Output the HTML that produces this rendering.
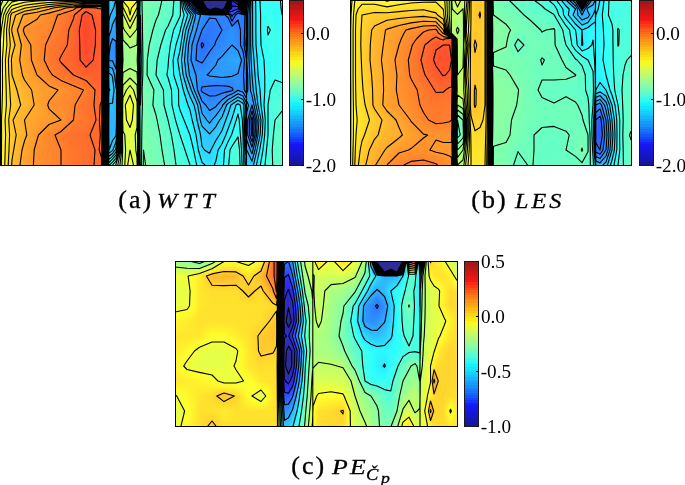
<!DOCTYPE html><html><head><meta charset="utf-8"><title>Pressure coefficient contours</title><style>
html,body{margin:0;padding:0;background:#fff}
body{width:685px;height:485px;position:relative;overflow:hidden;font-family:"Liberation Serif",serif;color:#000}
.plot{position:absolute;overflow:hidden;background:#888}
.plot i{position:absolute;left:0;width:100%;display:block}
.plot i.m{-webkit-mask-image:linear-gradient(180deg,transparent,#000);mask-image:linear-gradient(180deg,transparent,#000)}
.plot svg{position:absolute;left:0;top:0}
.bd{position:absolute;box-sizing:border-box;border:1.5px solid #000}
.cb{position:absolute;box-sizing:border-box;border:1px solid #1a1a1a}
.tk{position:absolute;height:1px;width:3px;background:#000}
.tl{position:absolute;font-size:19.2px;line-height:20px;white-space:nowrap}
.cp{position:absolute;white-space:nowrap;display:block;-webkit-text-stroke:0.3px #000}
</style></head><body><div class="plot" style="left:0px;top:0px;width:282px;height:165px;--a0:linear-gradient(90deg,#b5ff77 0px,#c4ff68 4px,#d1ff5b 8px,#e0ff4c 12px,#e4ff48 16px,#e9ff43 20px,#eeff3e 24px,#eeff3e 24.5px,#f1ff3b 28px,#f3ff39 32px,#f6ff36 36px,#f7ff35 37px,#f8ff34 40px,#f9ff33 44px,#faff32 48px,#fbff31 49px,#fbff31 52px,#fcff30 56px,#fdff2f 60px,#fdff2f 64px,#feff2e 68px,#ffff2d 72px,#ffff2d 73.5px,#fffe2d 76px,#fffd2d 80px,#fffb2d 84px,#fffb2d 86px,#fffa2d 88px,#fff82d 92px,#fff62d 96px,#fff52d 98px,#fff52d 101.5px,#b0ff7c 104px,#2df3ff 108px,#2dcfff 109px,#2dd6ff 112px,#2dd7ff 112.5px,#2dbeff 116px,#8cffa0 120px,#fffb2d 123px,#fffa2d 124px,#fff52d 128px,#fff22d 130px,#fff52d 132px,#fffa2d 136px,#fffb2d 137px,#73ffb9 140px,#5bffd1 140.5px,#7dffaf 143.5px,#7cffb0 144px,#79ffb3 148px,#76ffb6 152px,#72ffba 156px,#6effbe 160px,#6affc2 164px,#66ffc6 168px,#5cffd0 172px,#52ffda 176px,#48ffe4 180px,#2dd4ff 184px,#2d8dff 188px,#2d6aff 190px,#2d47ff 192px,#2d2dd3 196px,#2d2d96 200px,#2d2d96 228px,#2d2de8 232px,#2d2dcc 236px,#2d2dbe 238px,#2d2d96 240px,#2d2d96 246.2px,#2d6cff 246.8px,#2d83ff 248px,#2dd1ff 252px,#2dedff 256px,#2dfbff 258px,#2dffff 260px,#35fff7 264px,#2dffff 268px,#35fff7 272px,#3cfff0 275px,#39fff3 276px,#2efffe 280px,#2dfbff 282px);--a1:linear-gradient(90deg,#bcff70 0px,#d1ff5b 4px,#e6ff46 8px,#fbff31 12px,#fffb2d 16px,#fff42d 20px,#ffed2d 24px,#ffec2d 24.5px,#ffe82d 28px,#ffe42d 32px,#ffe02d 36px,#ffde2d 37px,#ffdb2d 40px,#ffd62d 44px,#ffd12d 48px,#ffd02d 49px,#ffcd2d 52px,#ffc92d 56px,#ffc42d 60px,#ffc32d 61px,#ffc02d 64px,#ffbb2d 68px,#ffb62d 72px,#ffb52d 73.5px,#ffb02d 76px,#ffa72d 80px,#ff9f2d 84px,#ff9b2d 86px,#ff9c2d 88px,#ff9d2d 92px,#ff9f2d 96px,#ffa02d 98px,#ffa02d 101.5px,#e7ff45 104px,#2dfbff 108px,#2dccff 109px,#2dccff 112.5px,#2db8ff 116px,#7fffad 120px,#f2ff3a 123px,#f5ff37 124px,#fffd2d 128px,#fff72d 130px,#fffc2d 132px,#f6ff36 136px,#f3ff39 137px,#70ffbc 140px,#5affd2 140.5px,#7cffb0 143.5px,#7cffb0 144px,#78ffb4 148px,#74ffb8 152px,#71ffbb 156px,#6dffbf 160px,#69ffc3 164px,#65ffc7 168px,#5bffd1 172px,#51ffdb 176px,#47ffe5 180px,#2de2ff 184px,#2dacff 188px,#2d90ff 190px,#2d73ff 192px,#2d39ff 196px,#2d2da0 200px,#2d2d96 202px,#2d2d96 228px,#2d2dfb 232px,#2d2df3 236px,#2d2def 238px,#2d2dc1 240px,#2d2d96 243px,#2d2d96 246.2px,#2d77ff 246.8px,#2d8cff 248px,#2dd1ff 252px,#2decff 256px,#2dfaff 258px,#2dffff 260px,#35fff7 264px,#32fffa 268px,#36fff6 272px,#3afff2 275px,#37fff5 276px,#2ffffd 280px,#2dfcff 282px);--a2:linear-gradient(90deg,#c1ff6b 0px,#daff52 4px,#f3ff39 8px,#fff22d 12px,#ffe92d 16px,#ffe02d 20px,#ffd72d 24px,#ffd62d 24.5px,#ffd22d 28px,#ffcc2d 32px,#ffc72d 36px,#ffc62d 37px,#ffc12d 40px,#ffba2d 44px,#ffb32d 48px,#ffb22d 49px,#ffad2d 52px,#ffa62d 56px,#ffa02d 60px,#ff9e2d 61px,#ff992d 64px,#ff922d 68px,#ff8b2d 72px,#ff882d 73.5px,#ff802d 76px,#ff742d 80px,#ff682d 84px,#ff622d 86px,#ff632d 88px,#ff672d 92px,#ff6b2d 96px,#ff6d2d 98px,#ff6d2d 101.5px,#fff52d 104px,#2ffffd 108px,#2dcaff 109px,#2dc6ff 112px,#2dc5ff 112.5px,#2db5ff 116px,#78ffb4 120px,#e8ff44 123px,#ecff40 124px,#fdff2f 128px,#fff92d 130px,#fdff2f 132px,#edff3f 136px,#e9ff43 137px,#6effbe 140px,#59ffd3 140.5px,#7cffb0 143.5px,#7bffb1 144px,#78ffb4 148px,#74ffb8 152px,#70ffbc 156px,#6cffc0 160px,#68ffc4 164px,#65ffc7 168px,#5affd2 172px,#50ffdc 176px,#46ffe6 180px,#2debff 184px,#2dbeff 188px,#2da7ff 190px,#2d8eff 192px,#2d5bff 196px,#2d2ddc 200px,#2d2db4 202px,#2d2d96 204px,#2d2d96 224px,#2d2dab 228px,#2d35ff 232px,#2d39ff 236px,#2d3aff 238px,#2d2dec 240px,#2d2dbb 243px,#2d2db1 244px,#2d2d9c 246.2px,#2d7eff 246.8px,#2d91ff 248px,#2dd1ff 252px,#2decff 256px,#2dfaff 258px,#2dfeff 260px,#35fff7 264px,#35fff7 268px,#37fff5 272px,#38fff4 275px,#36fff6 276px,#2ffffd 280px,#2dfdff 282px);--a3:linear-gradient(90deg,#c3ff69 0px,#dfff4d 4px,#fbff31 8px,#ffe72d 12px,#ffdd2d 16px,#ffd32d 20px,#ffca2d 24px,#ffc92d 24.5px,#ffc42d 28px,#ffbf2d 32px,#ffbb2d 36px,#ffb92d 37px,#ffb52d 40px,#ffaf2d 44px,#ffa82d 48px,#ffa72d 49px,#ffa22d 52px,#ff9c2d 56px,#ff962d 60px,#ff942d 61px,#ff902d 64px,#ff892d 68px,#ff832d 72px,#ff812d 73.5px,#ff792d 76px,#ff6d2d 80px,#ff612d 84px,#ff5c2d 86px,#ff5e2d 88px,#ff632d 92px,#ff672d 96px,#ff6a2d 98px,#ff6a2d 101.5px,#fff42d 104px,#2efffe 108px,#2dc9ff 109px,#2dc2ff 112px,#2dc1ff 112.5px,#2db3ff 116px,#73ffb9 120px,#e2ff4a 123px,#e6ff46 124px,#faff32 128px,#fffb2d 130px,#faff32 132px,#e8ff44 136px,#e3ff49 137px,#6cffc0 140px,#58ffd4 140.5px,#7bffb1 143.5px,#7bffb1 144px,#77ffb5 148px,#73ffb9 152px,#6fffbd 156px,#6cffc0 160px,#68ffc4 164px,#64ffc8 168px,#5affd2 172px,#50ffdc 176px,#45ffe7 180px,#2df1ff 184px,#2dcaff 188px,#2db7ff 190px,#2da0ff 192px,#2d71ff 196px,#2d33ff 200px,#2d2de6 202px,#2d2da9 204px,#2d2d96 208px,#2d2d96 224px,#2d2ddb 228px,#2d3dff 232px,#2d48ff 236px,#2d4eff 238px,#2d36ff 240px,#2d2de4 243px,#2d2ddb 244px,#2d2dc8 246.2px,#2d82ff 246.8px,#2d94ff 248px,#2dd1ff 252px,#2decff 256px,#2df9ff 258px,#2dfeff 260px,#35fff7 264px,#37fff5 268px,#37fff5 272px,#38fff4 275px,#36fff6 276px,#2ffffd 280px,#2dfeff 282px);--a4:linear-gradient(90deg,#caff62 0px,#eeff3e 4px,#ffee2d 8px,#ffca2d 12px,#ffbf2d 16px,#ffb42d 20px,#ffa82d 24px,#ffa72d 24.5px,#ffa32d 28px,#ff9f2d 32px,#ff9b2d 36px,#ff9a2d 37px,#ff972d 40px,#ff922d 44px,#ff8d2d 48px,#ff8c2d 49px,#ff882d 52px,#ff832d 56px,#ff7e2d 60px,#ff7d2d 61px,#ff792d 64px,#ff752d 68px,#ff702d 72px,#ff6e2d 73.5px,#ff672d 76px,#ff5d2d 80px,#ff522d 84px,#ff4c2d 86px,#ff502d 88px,#ff572d 92px,#ff5e2d 96px,#ff622d 98px,#ff622d 101.5px,#ffef2d 104px,#2dffff 108px,#2dc6ff 109px,#2db8ff 112px,#2db5ff 112.5px,#2dadff 116px,#67ffc5 120px,#d1ff5b 123px,#d7ff55 124px,#f2ff3a 128px,#ffff2d 130px,#f2ff3a 132px,#d9ff53 136px,#d3ff59 137px,#69ffc3 140px,#57ffd5 140.5px,#7bffb1 143.5px,#7affb2 144px,#76ffb6 148px,#72ffba 152px,#6effbe 156px,#6bffc1 160px,#67ffc5 164px,#64ffc8 168px,#59ffd3 172px,#4fffdd 176px,#44ffe8 180px,#2dffff 184px,#2de9ff 188px,#2dddff 190px,#2dccff 192px,#2da9ff 196px,#2d98ff 200px,#2d90ff 202px,#2d8cff 204px,#2d86ff 208px,#2d83ff 209.6px,#2d83ff 222px,#2d82ff 224px,#2d7fff 228px,#2d51ff 232px,#2d70ff 236px,#2d7fff 238px,#2d7cff 240px,#2d79ff 243px,#2d72ff 244px,#2d64ff 246.2px,#2d8eff 246.8px,#2d9dff 248px,#2dd1ff 252px,#2debff 256px,#2df9ff 258px,#2dfeff 260px,#35fff7 264px,#3cfff0 268px,#38fff4 272px,#35fff7 275px,#34fff8 276px,#2ffffd 280px,#2dffff 282px);--a5:linear-gradient(90deg,#d1ff5b 0px,#f4ff38 4px,#ffe82d 8px,#ffc62d 12px,#ffba2d 16px,#ffae2d 20px,#ffa12d 24px,#ffa02d 24.5px,#ff9d2d 28px,#ff9a2d 32px,#ff962d 36px,#ff952d 37px,#ff922d 40px,#ff8e2d 44px,#ff8a2d 48px,#ff892d 49px,#ff862d 52px,#ff812d 56px,#ff7c2d 60px,#ff7b2d 61px,#ff772d 64px,#ff722d 68px,#ff6d2d 72px,#ff6b2d 73.5px,#ff652d 76px,#ff5a2d 80px,#ff502d 84px,#ff4a2d 86px,#ff4e2d 88px,#ff552d 92px,#ff5c2d 96px,#ff5f2d 98px,#ff5f2d 101.5px,#ffef2d 104px,#2dfaff 108px,#2dc1ff 109px,#2db2ff 112px,#2db0ff 112.5px,#2da8ff 116px,#61ffcb 120px,#caff62 123px,#cfff5d 124px,#e5ff47 128px,#f0ff3c 130px,#e5ff47 132px,#d1ff5b 136px,#ccff60 137px,#66ffc6 140px,#56ffd6 140.5px,#7affb2 143.5px,#79ffb3 144px,#75ffb7 148px,#70ffbc 152px,#6cffc0 156px,#67ffc5 160px,#63ffc9 164px,#5effce 168px,#53ffd9 172px,#48ffe4 176px,#3dffef 180px,#2df6ff 184px,#2dddff 188px,#2dd0ff 190px,#2dc1ff 192px,#2da3ff 196px,#2d93ff 200px,#2d8bff 202px,#2d88ff 204px,#2d82ff 208px,#2d80ff 209.6px,#2d80ff 216px,#2d82ff 220px,#2d82ff 222px,#2d83ff 224px,#2d83ff 228px,#2d66ff 232px,#2d78ff 236px,#2d81ff 238px,#2d7eff 240px,#2d7aff 243px,#2d72ff 244px,#2d61ff 246.2px,#2d8eff 246.8px,#2d9dff 248px,#2dd1ff 252px,#2debff 256px,#2df9ff 258px,#2dfeff 260px,#35fff7 264px,#3fffed 268px,#3bfff1 272px,#38fff4 275px,#37fff5 276px,#32fffa 280px,#30fffc 282px);--a6:linear-gradient(90deg,#d9ff53 0px,#faff32 4px,#ffe32d 8px,#ffc22d 12px,#ffb52d 16px,#ffa82d 20px,#ff9a2d 24px,#ff992d 24.5px,#ff962d 28px,#ff942d 32px,#ff912d 36px,#ff902d 37px,#ff8e2d 40px,#ff8b2d 44px,#ff882d 48px,#ff872d 49px,#ff842d 52px,#ff7f2d 56px,#ff7a2d 60px,#ff792d 61px,#ff752d 64px,#ff702d 68px,#ff6a2d 72px,#ff692d 73.5px,#ff622d 76px,#ff582d 80px,#ff4d2d 84px,#ff482d 86px,#ff4c2d 88px,#ff532d 92px,#ff5a2d 96px,#ff5d2d 98px,#ff5d2d 101.5px,#fff02d 104px,#2df6ff 108px,#2dbbff 109px,#2dadff 112px,#2daaff 112.5px,#2da2ff 116px,#5bffd1 120px,#c3ff69 123px,#c7ff65 124px,#d8ff54 128px,#e0ff4c 130px,#d8ff54 132px,#c9ff63 136px,#c5ff67 137px,#64ffc8 140px,#54ffd8 140.5px,#79ffb3 143.5px,#79ffb3 144px,#74ffb8 148px,#6fffbd 152px,#6affc2 156px,#64ffc8 160px,#5effce 164px,#58ffd4 168px,#4dffdf 172px,#42ffea 176px,#36fff6 180px,#2decff 184px,#2dd1ff 188px,#2dc3ff 190px,#2db6ff 192px,#2d9eff 196px,#2d8eff 200px,#2d86ff 202px,#2d83ff 204px,#2d7eff 208px,#2d7cff 209.6px,#2d7dff 212px,#2d7eff 215.8px,#2d7eff 216px,#2d80ff 220px,#2d82ff 222px,#2d84ff 224px,#2d87ff 228px,#2d7cff 232px,#2d81ff 236px,#2d83ff 238px,#2d80ff 240px,#2d7bff 243px,#2d72ff 244px,#2d5eff 246.2px,#2d8eff 246.8px,#2d9dff 248px,#2dd1ff 252px,#2debff 256px,#2df9ff 258px,#2dfeff 260px,#35fff7 264px,#41ffeb 268px,#3effee 272px,#3bfff1 275px,#3afff2 276px,#35fff7 280px,#33fff9 282px);--a7:linear-gradient(90deg,#e0ff4c 0px,#fffe2d 4px,#ffde2d 8px,#ffbe2d 12px,#ffb02d 16px,#ffa22d 20px,#ff942d 24px,#ff922d 24.5px,#ff902d 28px,#ff8e2d 32px,#ff8c2d 36px,#ff8c2d 37px,#ff8a2d 40px,#ff882d 44px,#ff862d 48px,#ff852d 49px,#ff822d 52px,#ff7d2d 56px,#ff782d 60px,#ff772d 61px,#ff722d 64px,#ff6d2d 68px,#ff682d 72px,#ff662d 73.5px,#ff5f2d 76px,#ff552d 80px,#ff4b2d 84px,#ff462d 86px,#ff4a2d 88px,#ff512d 92px,#ff582d 96px,#ff5b2d 98px,#ff5b2d 101.5px,#fff02d 104px,#2df1ff 108px,#2db5ff 109px,#2da7ff 112px,#2da5ff 112.5px,#2d9cff 116px,#54ffd8 120px,#bcff70 123px,#bfff6d 124px,#cbff61 128px,#d1ff5b 130px,#cbff61 132px,#c1ff6b 136px,#beff6e 137px,#62ffca 140px,#53ffd9 140.5px,#79ffb3 143.5px,#78ffb4 144px,#73ffb9 148px,#6dffbf 152px,#68ffc4 156px,#61ffcb 160px,#5affd2 164px,#53ffd9 168px,#47ffe5 172px,#3bfff1 176px,#2ffffd 180px,#2de3ff 184px,#2dc5ff 188px,#2db5ff 190px,#2dacff 192px,#2d98ff 196px,#2d89ff 200px,#2d81ff 202px,#2d7fff 204px,#2d7aff 208px,#2d79ff 209.6px,#2d79ff 212px,#2d7bff 215.8px,#2d7bff 216px,#2d7fff 220px,#2d81ff 222px,#2d84ff 224px,#2d8cff 228px,#2d92ff 232px,#2d89ff 236px,#2d85ff 238px,#2d82ff 240px,#2d7dff 243px,#2d72ff 244px,#2d5bff 246.2px,#2d8eff 246.8px,#2d9dff 248px,#2dd1ff 252px,#2debff 256px,#2df9ff 258px,#2dfeff 260px,#35fff7 264px,#44ffe8 268px,#41ffeb 272px,#3effee 275px,#3dffef 276px,#38fff4 280px,#35fff7 282px);--a8:linear-gradient(90deg,#e3ff49 0px,#fffd2d 4px,#ffe02d 8px,#ffc22d 12px,#ffb42d 16px,#ffa62d 20px,#ff982d 24px,#ff972d 24.5px,#ff942d 28px,#ff902d 32px,#ff8c2d 36px,#ff8c2d 37px,#ff892d 40px,#ff862d 44px,#ff832d 48px,#ff822d 49px,#ff7f2d 52px,#ff7b2d 56px,#ff762d 60px,#ff752d 61px,#ff712d 64px,#ff6c2d 68px,#ff682d 72px,#ff662d 73.5px,#ff602d 76px,#ff562d 80px,#ff4c2d 84px,#ff472d 86px,#ff4a2d 88px,#ff512d 92px,#ff582d 96px,#ff5b2d 98px,#ff5b2d 101.5px,#fff32d 104px,#2deaff 108px,#2dadff 109px,#2d9fff 112px,#2d9cff 112.5px,#2d9aff 116px,#4effde 120px,#b3ff79 123px,#b6ff76 124px,#c0ff6c 128px,#c6ff66 130px,#c2ff6a 132px,#baff72 136px,#b8ff74 137px,#60ffcc 140px,#51ffdb 140.5px,#78ffb4 143.5px,#77ffb5 144px,#71ffbb 148px,#6bffc1 152px,#65ffc7 156px,#5effce 160px,#57ffd5 164px,#50ffdc 168px,#43ffe9 172px,#36fff6 176px,#2dfcff 180px,#2ddcff 184px,#2dbdff 188px,#2daeff 190px,#2da4ff 192px,#2d92ff 196px,#2d81ff 200px,#2d79ff 202px,#2d79ff 209.6px,#2d7aff 212px,#2d7eff 215.8px,#2d7eff 216px,#2d82ff 220px,#2d84ff 222px,#2d87ff 224px,#2d8eff 228px,#2d93ff 232px,#2d8bff 236px,#2d87ff 238px,#2d82ff 240px,#2d7bff 243px,#2d70ff 244px,#2d58ff 246.2px,#2d8eff 246.8px,#2d9dff 248px,#2dd1ff 252px,#2debff 256px,#2df8ff 258px,#2dfdff 260px,#35fff7 264px,#42ffea 268px,#40ffec 272px,#3effee 275px,#3dffef 276px,#38fff4 280px,#36fff6 282px);--a9:linear-gradient(90deg,#e6ff46 0px,#fffc2d 4px,#ffe12d 8px,#ffc62d 12px,#ffb92d 16px,#ffab2d 20px,#ff9d2d 24px,#ff9c2d 24.5px,#ff972d 28px,#ff922d 32px,#ff8d2d 36px,#ff8c2d 37px,#ff892d 40px,#ff852d 44px,#ff812d 48px,#ff802d 49px,#ff7d2d 52px,#ff792d 56px,#ff752d 60px,#ff742d 61px,#ff702d 64px,#ff6c2d 68px,#ff672d 72px,#ff662d 73.5px,#ff602d 76px,#ff562d 80px,#ff4c2d 84px,#ff482d 86px,#ff4b2d 88px,#ff512d 92px,#ff582d 96px,#ff5b2d 98px,#ff5b2d 101.5px,#fff62d 104px,#2de3ff 108px,#2da5ff 109px,#2d96ff 112px,#2d94ff 112.5px,#2d97ff 116px,#48ffe4 120px,#abff81 123px,#adff7f 124px,#b6ff76 128px,#baff72 130px,#b8ff74 132px,#b3ff79 136px,#b1ff7b 137px,#5effce 140px,#50ffdc 140.5px,#77ffb5 143.5px,#76ffb6 144px,#70ffbc 148px,#69ffc3 152px,#62ffca 156px,#5bffd1 160px,#54ffd8 164px,#4dffdf 168px,#3fffed 172px,#32fffa 176px,#2df6ff 180px,#2dd6ff 184px,#2db6ff 188px,#2da6ff 190px,#2d9dff 192px,#2d8cff 196px,#2d79ff 200px,#2d70ff 202px,#2d72ff 204px,#2d77ff 208px,#2d79ff 209.6px,#2d7cff 212px,#2d80ff 215.8px,#2d81ff 216px,#2d85ff 220px,#2d87ff 222px,#2d8aff 224px,#2d90ff 228px,#2d95ff 232px,#2d8cff 236px,#2d88ff 238px,#2d82ff 240px,#2d7aff 243px,#2d6fff 244px,#2d56ff 246.2px,#2d8eff 246.8px,#2d9dff 248px,#2dd1ff 252px,#2deaff 256px,#2df7ff 258px,#2dfdff 260px,#35fff7 264px,#40ffec 268px,#3fffed 272px,#3effee 275px,#3dffef 276px,#39fff3 280px,#37fff5 282px);--a10:linear-gradient(90deg,#eaff42 0px,#fffc2d 4px,#ffe32d 8px,#ffca2d 12px,#ffbd2d 16px,#ffb02d 20px,#ffa22d 24px,#ffa02d 24.5px,#ff9b2d 28px,#ff942d 32px,#ff8d2d 36px,#ff8c2d 37px,#ff882d 40px,#ff832d 44px,#ff7e2d 48px,#ff7d2d 49px,#ff7a2d 52px,#ff772d 56px,#ff732d 60px,#ff722d 61px,#ff6f2d 64px,#ff6b2d 68px,#ff672d 72px,#ff662d 73.5px,#ff602d 76px,#ff562d 80px,#ff4d2d 84px,#ff482d 86px,#ff4b2d 88px,#ff522d 92px,#ff582d 96px,#ff5b2d 98px,#ff5b2d 101.5px,#fff92d 104px,#2ddbff 108px,#2d9cff 109px,#2d8eff 112px,#2d8cff 112.5px,#2d94ff 116px,#42ffea 120px,#a3ff89 123px,#a4ff88 124px,#acff80 128px,#afff7d 130px,#aeff7e 132px,#acff80 136px,#abff81 137px,#5cffd0 140px,#4fffdd 140.5px,#77ffb5 143.5px,#76ffb6 144px,#6effbe 148px,#67ffc5 152px,#5fffcd 156px,#58ffd4 160px,#51ffdb 164px,#4affe2 168px,#3cfff0 172px,#2dffff 176px,#2df0ff 180px,#2dd0ff 184px,#2dafff 188px,#2d9eff 190px,#2d96ff 192px,#2d85ff 196px,#2d72ff 200px,#2d68ff 202px,#2d6cff 204px,#2d75ff 208px,#2d79ff 209.6px,#2d7dff 212px,#2d83ff 215.8px,#2d83ff 216px,#2d87ff 220px,#2d89ff 222px,#2d8cff 224px,#2d92ff 228px,#2d96ff 232px,#2d8eff 236px,#2d89ff 238px,#2d83ff 240px,#2d79ff 243px,#2d6dff 244px,#2d53ff 246.2px,#2d8eff 246.8px,#2d9dff 248px,#2dd1ff 252px,#2deaff 256px,#2df7ff 258px,#2dfcff 260px,#35fff7 264px,#3effee 268px,#3effee 275px,#3dffef 276px,#39fff3 280px,#38fff4 282px);--a11:linear-gradient(90deg,#ebff41 0px,#fff92d 4px,#ffdf2d 8px,#ffc62d 12px,#ffba2d 16px,#ffae2d 20px,#ffa22d 24px,#ffa02d 24.5px,#ff9b2d 28px,#ff942d 32px,#ff8e2d 36px,#ff8c2d 37px,#ff882d 40px,#ff822d 44px,#ff7d2d 48px,#ff7b2d 49px,#ff782d 52px,#ff742d 56px,#ff702d 60px,#ff702d 61px,#ff6d2d 64px,#ff692d 68px,#ff662d 72px,#ff642d 73.5px,#ff5f2d 76px,#ff572d 80px,#ff4e2d 84px,#ff4a2d 86px,#ff4d2d 88px,#ff532d 92px,#ff592d 96px,#ff5c2d 98px,#ff5c2d 101.5px,#fffa2d 104px,#2dd9ff 108px,#2d9aff 109px,#2d90ff 112px,#2d8eff 112.5px,#2d91ff 116px,#3fffed 120px,#9eff8e 123px,#a0ff8c 124px,#a5ff87 128px,#a8ff84 130px,#a7ff85 132px,#a6ff86 136px,#a5ff87 137px,#5affd2 140px,#4effde 140.5px,#76ffb6 143.5px,#75ffb7 144px,#6dffbf 148px,#65ffc7 152px,#5dffcf 156px,#56ffd6 160px,#4fffdd 164px,#48ffe4 168px,#38fff4 172px,#2dfbff 176px,#2debff 180px,#2dccff 184px,#2dadff 188px,#2d9dff 190px,#2d95ff 192px,#2d84ff 196px,#2d76ff 200px,#2d6fff 202px,#2d73ff 204px,#2d7cff 208px,#2d7fff 209.6px,#2d83ff 212px,#2d89ff 215.8px,#2d89ff 216px,#2d8dff 220px,#2d8fff 222px,#2d92ff 224px,#2d97ff 228px,#2d9bff 232px,#2d97ff 236px,#2d95ff 238px,#2d8cff 240px,#2d80ff 243px,#2d75ff 244px,#2d5dff 246.2px,#2d90ff 246.8px,#2d9fff 248px,#2dceff 252px,#2de7ff 256px,#2df4ff 258px,#2df9ff 260px,#33fff9 264px,#3bfff1 268px,#3cfff0 272px,#3cfff0 276px,#38fff4 280px,#37fff5 282px);--a12:linear-gradient(90deg,#edff3f 0px,#fff62d 4px,#ffdc2d 8px,#ffc12d 12px,#ffb62d 16px,#ffac2d 20px,#ffa22d 24px,#ffa02d 24.5px,#ff9b2d 28px,#ff952d 32px,#ff8e2d 36px,#ff8d2d 37px,#ff882d 40px,#ff822d 44px,#ff7c2d 48px,#ff7a2d 49px,#ff772d 52px,#ff722d 56px,#ff6e2d 60px,#ff6d2d 61px,#ff6a2d 64px,#ff672d 68px,#ff642d 72px,#ff632d 73.5px,#ff5e2d 76px,#ff572d 80px,#ff4f2d 84px,#ff4c2d 86px,#ff4f2d 88px,#ff542d 92px,#ff5a2d 96px,#ff5d2d 98px,#ff5d2d 101.5px,#fffc2d 104px,#2dd6ff 108px,#2d97ff 109px,#2d92ff 112px,#2d91ff 112.5px,#2d8eff 116px,#3bfff1 120px,#9aff92 123px,#9bff91 124px,#9fff8d 128px,#a1ff8b 130px,#a1ff8b 132px,#a0ff8c 136px,#a0ff8c 137px,#59ffd3 140px,#4dffdf 140.5px,#75ffb7 143.5px,#74ffb8 144px,#6cffc0 148px,#63ffc9 152px,#5bffd1 156px,#54ffd8 160px,#4dffdf 164px,#46ffe6 168px,#35fff7 172px,#2df6ff 176px,#2de5ff 180px,#2dc8ff 184px,#2daaff 188px,#2d9cff 190px,#2d93ff 192px,#2d82ff 196px,#2d7aff 200px,#2d76ff 202px,#2d7aff 204px,#2d82ff 208px,#2d85ff 209.6px,#2d89ff 212px,#2d8eff 215.8px,#2d8fff 216px,#2d93ff 220px,#2d95ff 222px,#2d97ff 224px,#2d9cff 228px,#2da0ff 232px,#2da0ff 238px,#2d96ff 240px,#2d87ff 243px,#2d7dff 244px,#2d66ff 246.2px,#2d93ff 246.8px,#2da0ff 248px,#2dcbff 252px,#2de4ff 256px,#2df1ff 258px,#2df7ff 260px,#30fffc 264px,#38fff4 268px,#3afff2 272px,#3bfff1 275px,#3afff2 276px,#38fff4 280px,#36fff6 282px);--a13:linear-gradient(90deg,#eeff3e 0px,#fff42d 4px,#ffd82d 8px,#ffbc2d 12px,#ffb32d 16px,#ffaa2d 20px,#ffa22d 24px,#ffa02d 24.5px,#ff9b2d 28px,#ff952d 32px,#ff8f2d 36px,#ff8e2d 37px,#ff882d 40px,#ff812d 44px,#ff7a2d 48px,#ff792d 49px,#ff752d 52px,#ff702d 56px,#ff6b2d 60px,#ff6a2d 61px,#ff682d 64px,#ff652d 68px,#ff632d 72px,#ff622d 73.5px,#ff5e2d 76px,#ff572d 80px,#ff512d 84px,#ff4e2d 86px,#ff502d 88px,#ff552d 92px,#ff5b2d 96px,#ff5d2d 98px,#ff5d2d 101.5px,#fffd2d 104px,#2dd4ff 108px,#2d94ff 109px,#2d94ff 112.5px,#2d8cff 116px,#38fff4 120px,#96ff96 123px,#97ff95 124px,#99ff93 128px,#9aff92 130px,#9aff92 137px,#58ffd4 140px,#4cffe0 140.5px,#74ffb8 143.5px,#73ffb9 144px,#6bffc1 148px,#62ffca 152px,#59ffd3 156px,#52ffda 160px,#4bffe1 164px,#44ffe8 168px,#32fffa 172px,#2df2ff 176px,#2de0ff 180px,#2dc4ff 184px,#2da8ff 188px,#2d9aff 190px,#2d92ff 192px,#2d81ff 196px,#2d7eff 200px,#2d7dff 202px,#2d81ff 204px,#2d88ff 208px,#2d8cff 209.6px,#2d8fff 212px,#2d94ff 215.8px,#2d94ff 216px,#2d98ff 220px,#2d9aff 222px,#2d9cff 224px,#2da0ff 228px,#2da5ff 232px,#2da9ff 236px,#2dabff 238px,#2d9fff 240px,#2d8eff 243px,#2d84ff 244px,#2d70ff 246.2px,#2d96ff 246.8px,#2da2ff 248px,#2dc8ff 252px,#2de2ff 256px,#2deeff 258px,#2df4ff 260px,#2dffff 264px,#35fff7 268px,#38fff4 272px,#3afff2 275px,#39fff3 276px,#37fff5 280px,#35fff7 282px);--a14:linear-gradient(90deg,#eeff3e 0px,#fff42d 4px,#ffd92d 8px,#ffbd2d 12px,#ffb52d 16px,#ffac2d 20px,#ffa42d 24px,#ffa32d 24.5px,#ff9e2d 28px,#ff982d 32px,#ff922d 36px,#ff902d 37px,#ff8c2d 40px,#ff852d 44px,#ff7e2d 48px,#ff7d2d 49px,#ff792d 52px,#ff742d 56px,#ff6f2d 60px,#ff6e2d 61px,#ff6c2d 64px,#ff692d 68px,#ff662d 72px,#ff652d 73.5px,#ff622d 76px,#ff5c2d 80px,#ff572d 84px,#ff542d 86px,#ff562d 88px,#ff592d 92px,#ff5c2d 96px,#ff5e2d 98px,#ff5e2d 101.5px,#fff82d 104px,#2de2ff 108px,#2da5ff 109px,#2da2ff 112px,#2da2ff 112.5px,#2d91ff 116px,#3fffed 120px,#9eff8e 123px,#9fff8d 124px,#a2ff8a 128px,#a4ff88 130px,#a3ff89 132px,#a2ff8a 136px,#a1ff8b 137px,#59ffd3 140px,#4dffdf 140.5px,#74ffb8 143.5px,#73ffb9 144px,#6affc2 148px,#61ffcb 152px,#58ffd4 156px,#51ffdb 160px,#4affe2 164px,#43ffe9 168px,#32fffa 172px,#2df4ff 176px,#2de3ff 180px,#2dc8ff 184px,#2dacff 188px,#2d9eff 190px,#2d97ff 192px,#2d88ff 196px,#2d85ff 200px,#2d84ff 202px,#2d87ff 204px,#2d8dff 208px,#2d90ff 209.6px,#2d92ff 212px,#2d96ff 215.8px,#2d96ff 216px,#2d99ff 220px,#2d9bff 222px,#2d9cff 224px,#2d9eff 228px,#2da0ff 232px,#2da2ff 236px,#2da3ff 238px,#2d9aff 240px,#2d8bff 243px,#2d82ff 244px,#2d6fff 246.2px,#2d93ff 246.8px,#2d9fff 248px,#2dc6ff 252px,#2de0ff 256px,#2dedff 258px,#2df3ff 260px,#2dfeff 264px,#36fff6 268px,#39fff3 272px,#3bfff1 275px,#3afff2 276px,#39fff4 280px,#38fff4 282px);--a15:linear-gradient(90deg,#eeff3e 0px,#fff52d 4px,#ffda2d 8px,#ffbf2d 12px,#ffb62d 16px,#ffae2d 20px,#ffa62d 24px,#ffa52d 24.5px,#ffa02d 28px,#ff9a2d 32px,#ff952d 36px,#ff932d 37px,#ff8f2d 40px,#ff892d 44px,#ff832d 48px,#ff812d 49px,#ff7d2d 52px,#ff782d 56px,#ff742d 60px,#ff722d 61px,#ff702d 64px,#ff6d2d 68px,#ff6a2d 72px,#ff692d 73.5px,#ff662d 76px,#ff612d 80px,#ff5d2d 84px,#ff5b2d 86px,#ff5b2d 88px,#ff5d2d 92px,#ff5e2d 96px,#ff5f2d 98px,#ff5f2d 101.5px,#fff32d 104px,#2df1ff 108px,#2db5ff 109px,#2db1ff 112px,#2db0ff 112.5px,#2d97ff 116px,#46ffe6 120px,#a7ff85 123px,#a8ff84 124px,#acff80 128px,#aeff7e 130px,#acff80 132px,#a9ff83 136px,#a8ff84 137px,#5bffd1 140px,#4effde 140.5px,#74ffb8 143.5px,#73ffb9 144px,#6affc2 148px,#61ffcb 152px,#58ffd4 156px,#50ffdc 160px,#49ffe3 164px,#41ffeb 168px,#32fffa 172px,#2df5ff 176px,#2de6ff 180px,#2dcbff 184px,#2db0ff 188px,#2da3ff 190px,#2d9cff 192px,#2d8fff 196px,#2d8cff 200px,#2d8bff 202px,#2d8dff 204px,#2d92ff 208px,#2d94ff 209.6px,#2d96ff 212px,#2d98ff 215.8px,#2d98ff 216px,#2d9aff 220px,#2d9cff 222px,#2d9cff 238px,#2d94ff 240px,#2d88ff 243px,#2d80ff 244px,#2d6dff 246.2px,#2d90ff 246.8px,#2d9cff 248px,#2dc3ff 252px,#2ddeff 256px,#2debff 258px,#2df1ff 260px,#2dfeff 264px,#37fff5 268px,#3afff2 272px,#3cfff0 275px,#3cfff0 276px,#3afff2 280px,#3afff2 282px);--a16:linear-gradient(90deg,#eeff3e 0px,#fff52d 4px,#ffdb2d 8px,#ffc02d 12px,#ffb82d 16px,#ffb02d 20px,#ffa82d 24px,#ffa72d 24.5px,#ffa22d 28px,#ff9d2d 32px,#ff972d 36px,#ff962d 37px,#ff922d 40px,#ff8c2d 44px,#ff872d 48px,#ff852d 49px,#ff822d 52px,#ff7d2d 56px,#ff782d 60px,#ff772d 61px,#ff742d 64px,#ff712d 68px,#ff6d2d 72px,#ff6c2d 73.5px,#ff6a2d 76px,#ff672d 80px,#ff632d 84px,#ff622d 86px,#ff612d 88px,#ff602d 92px,#ff602d 96px,#ff5f2d 98px,#ff5f2d 101.5px,#ffed2d 104px,#2dffff 108px,#2dc6ff 109px,#2dbfff 112px,#2dbeff 112.5px,#2d9cff 116px,#4dffdf 120px,#afff7d 123px,#b0ff7c 124px,#b5ff77 128px,#b8ff74 130px,#b5ff77 132px,#b0ff7c 136px,#afff7d 137px,#5cffd0 140px,#4fffdd 140.5px,#74ffb8 143.5px,#73ffb9 144px,#6affc2 148px,#60ffcc 152px,#57ffd5 156px,#4fffdd 160px,#48ffe4 164px,#40ffec 168px,#33fff9 172px,#2df7ff 176px,#2deaff 180px,#2dcfff 184px,#2db4ff 188px,#2da7ff 190px,#2da1ff 192px,#2d96ff 196px,#2d93ff 200px,#2d92ff 202px,#2d93ff 204px,#2d97ff 208px,#2d98ff 209.6px,#2d99ff 212px,#2d9aff 215.8px,#2d9aff 216px,#2d9cff 220px,#2d9cff 224px,#2d9aff 228px,#2d98ff 232px,#2d95ff 236px,#2d94ff 238px,#2d8eff 240px,#2d85ff 243px,#2d7dff 244px,#2d6cff 246.2px,#2d8eff 246.8px,#2d99ff 248px,#2dc0ff 252px,#2ddcff 256px,#2deaff 258px,#2df0ff 260px,#2dfdff 264px,#38fff4 268px,#3bfff1 272px,#3effee 275px,#3effee 276px,#3cfff0 280px,#3cfff0 282px);--a17:linear-gradient(90deg,#efff3d 0px,#fff62d 4px,#ffdc2d 8px,#ffc32d 12px,#ffbb2d 16px,#ffb42d 20px,#ffac2d 24px,#ffab2d 24.5px,#ffa62d 28px,#ffa12d 32px,#ff9c2d 36px,#ff9b2d 37px,#ff972d 40px,#ff932d 44px,#ff8e2d 48px,#ff8d2d 49px,#ff8a2d 52px,#ff862d 56px,#ff812d 60px,#ff802d 61px,#ff7e2d 64px,#ff7a2d 68px,#ff772d 72px,#ff762d 73.5px,#ff742d 76px,#ff702d 80px,#ff6d2d 84px,#ff6b2d 86px,#ff6a2d 88px,#ff662d 92px,#ff632d 96px,#ff622d 98px,#ff622d 101.5px,#ffed2d 104px,#32fffa 108px,#2dccff 109px,#2dc5ff 112px,#2dc3ff 112.5px,#2da2ff 116px,#54ffd8 120px,#b8ff74 123px,#baff72 124px,#c2ff6a 128px,#c6ff66 130px,#c2ff6a 132px,#baff72 136px,#b8ff74 137px,#5fffcd 140px,#50ffdc 140.5px,#79ffb3 143.5px,#77ffb5 144px,#6fffbd 148px,#66ffc6 152px,#5dffcf 156px,#54ffd8 160px,#4cffe0 164px,#44ffe8 168px,#37fff5 172px,#2dfcff 176px,#2df0ff 180px,#2dd7ff 184px,#2dbeff 188px,#2db2ff 190px,#2daaff 192px,#2d99ff 196px,#2d8fff 200px,#2d8bff 202px,#2d8cff 204px,#2d8dff 208px,#2d8eff 209.6px,#2d8eff 216px,#2d8fff 220px,#2d90ff 222px,#2d8fff 224px,#2d8fff 232px,#2d92ff 236px,#2d94ff 238px,#2d8fff 240px,#2d87ff 243px,#2d7fff 244px,#2d6fff 246.2px,#2d8eff 246.8px,#2d99ff 248px,#2dbdff 252px,#2dd9ff 256px,#2de7ff 258px,#2deeff 260px,#2dfcff 264px,#3afff2 268px,#3effee 272px,#42ffea 275px,#42ffea 276px,#41ffeb 280px,#40ffec 282px);--a18:linear-gradient(90deg,#f0ff3c 0px,#fff62d 4px,#ffde2d 8px,#ffc62d 12px,#ffbe2d 16px,#ffb72d 20px,#ffb02d 24px,#ffaf2d 24.5px,#ffab2d 28px,#ffa62d 32px,#ffa12d 36px,#ffa02d 37px,#ff9d2d 40px,#ff992d 44px,#ff962d 48px,#ff952d 49px,#ff922d 52px,#ff8e2d 56px,#ff8b2d 60px,#ff8a2d 61px,#ff882d 64px,#ff842d 68px,#ff812d 72px,#ff802d 73.5px,#ff7e2d 76px,#ff7a2d 80px,#ff772d 84px,#ff752d 86px,#ff722d 88px,#ff6c2d 92px,#ff672d 96px,#ff642d 98px,#ff642d 101.5px,#ffed2d 104px,#36fff6 108px,#2dd2ff 109px,#2dcaff 112px,#2dc9ff 112.5px,#2da8ff 116px,#5cffd0 120px,#c0ff6c 123px,#c3ff69 124px,#ceff5e 128px,#d4ff58 130px,#ceff5e 132px,#c3ff69 136px,#c0ff6c 137px,#61ffcb 140px,#51ffdb 140.5px,#7dffaf 143.5px,#7cffb0 144px,#73ffb9 148px,#6bffc1 152px,#62ffca 156px,#5affd2 160px,#51ffdb 164px,#48ffe4 168px,#3cfff0 172px,#30fffc 176px,#2df5ff 180px,#2ddfff 184px,#2dc8ff 188px,#2dbdff 190px,#2db2ff 192px,#2d9cff 196px,#2d8cff 200px,#2d84ff 202px,#2d84ff 204px,#2d83ff 208px,#2d83ff 212px,#2d82ff 215.8px,#2d82ff 216px,#2d83ff 220px,#2d83ff 224px,#2d84ff 228px,#2d86ff 232px,#2d8fff 236px,#2d94ff 238px,#2d8fff 240px,#2d88ff 243px,#2d81ff 244px,#2d72ff 246.2px,#2d8eff 246.8px,#2d98ff 248px,#2dbaff 252px,#2dd6ff 256px,#2de4ff 258px,#2decff 260px,#2dfcff 264px,#3cfff0 268px,#42ffea 272px,#46ffe6 275px,#46ffe6 276px,#45ffe7 280px,#44ffe8 282px);--a19:linear-gradient(90deg,#f0ff3c 0px,#fff72d 4px,#ffe02d 8px,#ffc82d 12px,#ffc22d 16px,#ffbb2d 20px,#ffb42d 24px,#ffb32d 24.5px,#ffaf2d 28px,#ffab2d 32px,#ffa62d 36px,#ffa52d 37px,#ffa32d 40px,#ffa02d 44px,#ff9d2d 48px,#ff9c2d 49px,#ff9a2d 52px,#ff972d 56px,#ff952d 60px,#ff942d 61px,#ff912d 64px,#ff8e2d 68px,#ff8b2d 72px,#ff892d 73.5px,#ff872d 76px,#ff842d 80px,#ff812d 84px,#ff7f2d 86px,#ff7b2d 88px,#ff722d 92px,#ff6a2d 96px,#ff662d 98px,#ff662d 101.5px,#ffec2d 104px,#3bfff1 108px,#2dd7ff 109px,#2dd0ff 112px,#2dcfff 112.5px,#2dadff 116px,#63ffc9 120px,#c8ff64 123px,#ccff60 124px,#daff52 128px,#e2ff4a 130px,#daff52 132px,#ccff60 136px,#c8ff64 137px,#64ffc8 140px,#53ffd9 140.5px,#81ffab 143.5px,#80ffac 144px,#78ffb4 148px,#70ffbc 152px,#68ffc4 156px,#5fffcd 160px,#56ffd6 164px,#4cffe0 168px,#41ffeb 172px,#35fff7 176px,#2dfbff 180px,#2de7ff 184px,#2dd2ff 188px,#2dc8ff 190px,#2dbaff 192px,#2d9eff 196px,#2d88ff 200px,#2d7dff 202px,#2d7cff 204px,#2d79ff 208px,#2d79ff 209.6px,#2d78ff 212px,#2d77ff 215.8px,#2d77ff 224px,#2d79ff 228px,#2d7dff 232px,#2d8cff 236px,#2d94ff 238px,#2d90ff 240px,#2d89ff 243px,#2d83ff 244px,#2d74ff 246.2px,#2d8eff 246.8px,#2d97ff 248px,#2db8ff 252px,#2dd4ff 256px,#2de2ff 258px,#2deaff 260px,#2dfbff 264px,#3effee 268px,#45ffe7 272px,#4affe2 275px,#4affe2 276px,#49ffe3 280px,#48ffe4 282px);--a20:linear-gradient(90deg,#f2ff3a 0px,#fff62d 4px,#ffe02d 8px,#ffca2d 12px,#ffc42d 16px,#ffbd2d 20px,#ffb62d 24px,#ffb52d 24.5px,#ffb12d 28px,#ffac2d 32px,#ffa72d 36px,#ffa52d 37px,#ffa22d 40px,#ff9e2d 44px,#ff9a2d 48px,#ff9a2d 49px,#ff972d 52px,#ff952d 56px,#ff922d 60px,#ff912d 61px,#ff8f2d 64px,#ff8c2d 68px,#ff882d 72px,#ff872d 73.5px,#ff852d 76px,#ff812d 80px,#ff7d2d 84px,#ff7b2d 86px,#ff772d 88px,#ff712d 92px,#ff6a2d 96px,#ff672d 98px,#ff682d 100px,#ff692d 101.5px,#fff12d 104px,#33fff9 108px,#2dcfff 109px,#2dcaff 112px,#2dc9ff 112.5px,#2dadff 116px,#67ffc5 120px,#d1ff5b 123px,#d4ff58 124px,#e3ff49 128px,#eaff42 130px,#e2ff4a 132px,#d2ff5a 136px,#ceff5e 137px,#66ffc6 140px,#54ffd8 140.5px,#7effae 143.5px,#7dffaf 144px,#76ffb6 148px,#6fffbd 152px,#68ffc4 156px,#5fffcd 160px,#56ffd6 164px,#4dffdf 168px,#41ffeb 172px,#35fff7 176px,#2dfbff 180px,#2debff 184px,#2ddaff 188px,#2dd2ff 190px,#2dc6ff 192px,#2daeff 196px,#2d95ff 200px,#2d88ff 202px,#2d86ff 204px,#2d81ff 208px,#2d80ff 209.6px,#2d80ff 216px,#2d84ff 220px,#2d87ff 222px,#2d8bff 224px,#2d93ff 228px,#2d9cff 232px,#2dabff 236px,#2db3ff 238px,#2daeff 240px,#2da6ff 243px,#2d9dff 244px,#2d8aff 246.2px,#2d9bff 246.8px,#2d9fff 248px,#2dacff 252px,#2dcdff 256px,#2dddff 258px,#2de8ff 260px,#2dfcff 264px,#3fffed 268px,#47ffe5 272px,#4dffdf 275px,#4dffdf 276px,#4cffe0 280px,#4cffe0 282px);--a21:linear-gradient(90deg,#f3ff39 0px,#fff62d 4px,#ffe12d 8px,#ffcd2d 12px,#ffc62d 16px,#ffbf2d 20px,#ffb82d 24px,#ffb82d 24.5px,#ffb32d 28px,#ffad2d 32px,#ffa72d 36px,#ffa62d 37px,#ffa22d 40px,#ff9d2d 44px,#ff982d 48px,#ff972d 49px,#ff952d 52px,#ff922d 56px,#ff8f2d 60px,#ff8e2d 61px,#ff8c2d 64px,#ff892d 68px,#ff862d 72px,#ff852d 73.5px,#ff822d 76px,#ff7e2d 80px,#ff792d 84px,#ff772d 86px,#ff742d 88px,#ff6f2d 92px,#ff6a2d 96px,#ff682d 98px,#ff6a2d 100px,#ff6b2d 101.5px,#fff52d 104px,#2dfeff 108px,#2dc6ff 109px,#2dc4ff 112px,#2dc3ff 112.5px,#2dadff 116px,#6cffc0 120px,#d9ff53 123px,#ddff4f 124px,#ebff41 128px,#f2ff3a 130px,#eaff42 132px,#d8ff54 136px,#d4ff58 137px,#68ffc4 140px,#56ffd6 140.5px,#7bffb1 143.5px,#7bffb1 144px,#74ffb8 148px,#6effbe 152px,#68ffc4 156px,#5fffcd 160px,#57ffd5 164px,#4effde 168px,#42ffea 172px,#35fff7 176px,#2dfbff 180px,#2deeff 184px,#2de2ff 188px,#2ddcff 190px,#2dd2ff 192px,#2dbdff 196px,#2da1ff 200px,#2d93ff 202px,#2d90ff 204px,#2d89ff 208px,#2d87ff 209.6px,#2d87ff 212px,#2d89ff 215.8px,#2d89ff 216px,#2d92ff 220px,#2d97ff 222px,#2d9eff 224px,#2daeff 228px,#2dbaff 232px,#2dcbff 236px,#2dd3ff 238px,#2dccff 240px,#2dc3ff 243px,#2db8ff 244px,#2da0ff 246.2px,#2da8ff 246.8px,#2da7ff 248px,#2da1ff 252px,#2dc7ff 256px,#2dd9ff 258px,#2de5ff 260px,#2dfeff 264px,#41ffeb 268px,#49ffe3 272px,#50ffdc 275px,#50ffdc 276px,#4fffdd 280px,#4fffdd 282px);--a22:linear-gradient(90deg,#f5ff37 0px,#fff62d 4px,#ffe22d 8px,#ffcf2d 12px,#ffc82d 16px,#ffc12d 20px,#ffbb2d 24px,#ffba2d 24.5px,#ffb42d 28px,#ffae2d 32px,#ffa82d 36px,#ffa72d 37px,#ffa22d 40px,#ff9c2d 44px,#ff952d 48px,#ff942d 49px,#ff922d 52px,#ff8f2d 56px,#ff8c2d 60px,#ff8c2d 61px,#ff892d 64px,#ff872d 68px,#ff842d 72px,#ff832d 73.5px,#ff802d 76px,#ff7a2d 80px,#ff752d 84px,#ff722d 86px,#ff712d 88px,#ff6e2d 92px,#ff6a2d 96px,#ff692d 98px,#ff6c2d 100px,#ff6e2d 101.5px,#fffa2d 104px,#2df6ff 108px,#2dbeff 109px,#2dbeff 112.5px,#2dadff 116px,#71ffbb 120px,#e2ff4a 123px,#e5ff47 124px,#f4ff38 128px,#fbff31 130px,#f1ff3b 132px,#deff4e 136px,#d9ff53 137px,#6affc2 140px,#57ffd5 140.5px,#79ffb3 143.5px,#78ffb4 144px,#73ffb9 148px,#6dffbf 152px,#68ffc4 156px,#5fffcd 160px,#57ffd5 164px,#4fffdd 168px,#42ffea 172px,#35fff7 176px,#2dfbff 180px,#2df2ff 184px,#2deaff 188px,#2de6ff 190px,#2dddff 192px,#2dcdff 196px,#2daeff 200px,#2d9eff 202px,#2d9aff 204px,#2d91ff 208px,#2d8eff 209.6px,#2d8fff 212px,#2d92ff 215.8px,#2d92ff 216px,#2da0ff 220px,#2da7ff 222px,#2db2ff 224px,#2dc8ff 228px,#2dd9ff 232px,#2deaff 236px,#2df2ff 238px,#2debff 240px,#2de0ff 243px,#2dd2ff 244px,#2db5ff 246.2px,#2db5ff 246.8px,#2daeff 248px,#2d96ff 252px,#2dc0ff 256px,#2dd5ff 258px,#2de3ff 260px,#2dffff 264px,#42ffea 268px,#4cffe0 272px,#53ffd9 275px,#53ffd9 282px);--a23:linear-gradient(90deg,#f5ff37 0px,#fff42d 4px,#ffdf2d 8px,#ffca2d 12px,#ffc42d 16px,#ffbd2d 20px,#ffb62d 24px,#ffb52d 24.5px,#ffb02d 28px,#ffac2d 32px,#ffa72d 36px,#ffa52d 37px,#ffa22d 40px,#ff9d2d 44px,#ff982d 48px,#ff972d 49px,#ff952d 52px,#ff922d 56px,#ff902d 60px,#ff8f2d 61px,#ff8c2d 64px,#ff882d 68px,#ff842d 72px,#ff822d 73.5px,#ff7f2d 76px,#ff7b2d 80px,#ff762d 84px,#ff742d 86px,#ff722d 88px,#ff6e2d 92px,#ff6b2d 96px,#ff692d 98px,#ff6c2d 100px,#ff6e2d 101.5px,#fffb2d 104px,#2df3ff 108px,#2dbbff 109px,#2dbbff 112.5px,#2dadff 116px,#71ffbb 120px,#e2ff4a 123px,#e5ff47 124px,#f2ff3a 128px,#f8ff34 130px,#efff3d 132px,#deff4e 136px,#d9ff53 137px,#6bffc1 140px,#58ffd4 140.5px,#7affb2 143.5px,#79ffb3 144px,#74ffb8 148px,#6fffbd 152px,#6affc2 156px,#62ffca 160px,#5affd2 164px,#51ffdb 168px,#45ffe7 172px,#39fff3 176px,#2dffff 180px,#2df7ff 184px,#2deeff 188px,#2deaff 190px,#2de2ff 192px,#2dd2ff 196px,#2db5ff 200px,#2da6ff 202px,#2da2ff 204px,#2d99ff 208px,#2d95ff 209.6px,#2d99ff 212px,#2d9eff 215.8px,#2d9eff 216px,#2dabff 220px,#2db1ff 222px,#2dbbff 224px,#2dcfff 228px,#2de0ff 232px,#2df1ff 236px,#2df9ff 238px,#2df0ff 240px,#2de2ff 243px,#2dd3ff 244px,#2db2ff 246.2px,#2daeff 246.8px,#2da5ff 248px,#2d84ff 252px,#2db3ff 256px,#2dcaff 258px,#2ddbff 260px,#2dfcff 264px,#42ffea 268px,#4cffe0 272px,#54ffd8 275px,#55ffd7 276px,#56ffd6 280px,#56ffd6 282px);--a24:linear-gradient(90deg,#f6ff36 0px,#fff22d 4px,#ffdc2d 8px,#ffc62d 12px,#ffbf2d 16px,#ffb82d 20px,#ffb12d 24px,#ffb02d 24.5px,#ffad2d 28px,#ffa92d 32px,#ffa52d 36px,#ffa42d 37px,#ffa12d 40px,#ff9e2d 44px,#ff9a2d 48px,#ff9a2d 49px,#ff982d 52px,#ff952d 56px,#ff932d 60px,#ff922d 61px,#ff8e2d 64px,#ff892d 68px,#ff842d 72px,#ff822d 73.5px,#ff7f2d 76px,#ff7b2d 80px,#ff772d 84px,#ff752d 86px,#ff732d 88px,#ff6f2d 92px,#ff6b2d 96px,#ff6a2d 98px,#ff6d2d 100px,#ff6f2d 101.5px,#fffc2d 104px,#2df1ff 108px,#2db8ff 109px,#2db8ff 112.5px,#2dadff 116px,#71ffbb 120px,#e2ff4a 123px,#e4ff48 124px,#f0ff3c 128px,#f5ff37 130px,#edff3f 132px,#ddff4f 136px,#d9ff53 137px,#6cffc0 140px,#5affd2 140.5px,#7bffb1 143.5px,#7bffb1 144px,#76ffb6 148px,#71ffbb 152px,#6cffc0 156px,#64ffc8 160px,#5cffd0 164px,#54ffd8 168px,#49ffe3 172px,#3dffef 176px,#31fffb 180px,#2dfbff 184px,#2df2ff 188px,#2deeff 190px,#2de6ff 192px,#2dd6ff 196px,#2dbbff 200px,#2daeff 202px,#2da9ff 204px,#2da1ff 208px,#2d9dff 209.6px,#2da2ff 212px,#2daaff 215.8px,#2daaff 216px,#2db6ff 220px,#2dbcff 222px,#2dc5ff 224px,#2dd6ff 228px,#2de6ff 232px,#2df8ff 236px,#2efffe 238px,#2df5ff 240px,#2de4ff 243px,#2dd3ff 244px,#2daeff 246.2px,#2da8ff 246.8px,#2d9bff 248px,#2d73ff 252px,#2da6ff 256px,#2dc0ff 258px,#2dd3ff 260px,#2df8ff 264px,#42ffea 268px,#4dffdf 272px,#56ffd6 275px,#56ffd6 276px,#59ffd3 280px,#5affd2 282px);--a25:linear-gradient(90deg,#f7ff35 0px,#fff02d 4px,#ffd92d 8px,#ffc22d 12px,#ffbb2d 16px,#ffb32d 20px,#ffac2d 24px,#ffab2d 24.5px,#ffa92d 28px,#ffa62d 32px,#ffa32d 36px,#ffa32d 37px,#ffa12d 40px,#ff9f2d 44px,#ff9d2d 48px,#ff9c2d 49px,#ff9b2d 52px,#ff992d 56px,#ff972d 60px,#ff962d 61px,#ff912d 64px,#ff8a2d 68px,#ff842d 72px,#ff812d 73.5px,#ff7f2d 76px,#ff7c2d 80px,#ff782d 84px,#ff772d 86px,#ff742d 88px,#ff702d 92px,#ff6c2d 96px,#ff6a2d 98px,#ff6d2d 100px,#ff6f2d 101.5px,#fffe2d 104px,#2deeff 108px,#2db5ff 109px,#2db5ff 112.5px,#2dadff 116px,#71ffbb 120px,#e2ff4a 123px,#e4ff48 124px,#eeff3e 128px,#f2ff3a 130px,#ebff41 132px,#ddff4f 136px,#d9ff53 137px,#6dffbf 140px,#5bffd1 140.5px,#7dffaf 143.5px,#7cffb0 144px,#78ffb4 148px,#73ffb9 152px,#6effbe 156px,#66ffc6 160px,#5fffcd 164px,#57ffd5 168px,#4cffe0 172px,#41ffeb 176px,#35fff7 180px,#2dffff 184px,#2df7ff 188px,#2df2ff 190px,#2debff 192px,#2ddbff 196px,#2dc2ff 200px,#2db5ff 202px,#2db1ff 204px,#2da8ff 208px,#2da5ff 209.6px,#2dabff 212px,#2db5ff 215.8px,#2db6ff 216px,#2dc1ff 220px,#2dc6ff 222px,#2dceff 224px,#2dddff 228px,#2decff 232px,#2dfeff 236px,#35fff7 238px,#2dfaff 240px,#2de6ff 243px,#2dd3ff 244px,#2dabff 246.2px,#2da0ff 246.8px,#2d92ff 248px,#2d62ff 252px,#2d9aff 256px,#2db5ff 258px,#2dcaff 260px,#2df4ff 264px,#42ffea 268px,#4effde 272px,#57ffd5 275px,#58ffd4 276px,#5cffd0 280px,#5dffcf 282px);--a26:linear-gradient(90deg,#f7ff35 0px,#fff12d 4px,#ffdb2d 8px,#ffc42d 12px,#ffbd2d 16px,#ffb52d 20px,#ffad2d 24px,#ffac2d 24.5px,#ffa92d 28px,#ffa42d 32px,#ffa02d 36px,#ff9f2d 37px,#ff9d2d 40px,#ff992d 44px,#ff962d 48px,#ff952d 49px,#ff932d 52px,#ff902d 56px,#ff8e2d 60px,#ff8d2d 61px,#ff892d 64px,#ff832d 68px,#ff7e2d 72px,#ff7b2d 73.5px,#ff7a2d 76px,#ff772d 80px,#ff752d 84px,#ff742d 86px,#ff722d 88px,#ff6e2d 92px,#ff6b2d 96px,#ff692d 98px,#ff6c2d 100px,#ff6f2d 101.5px,#fffd2d 104px,#2defff 108px,#2db5ff 109px,#2db5ff 112.5px,#2db3ff 116px,#70ffbc 120px,#dcff50 123px,#deff4e 124px,#e8ff44 128px,#edff3f 130px,#e6ff46 132px,#daff52 136px,#d6ff56 137px,#6dffbf 140px,#5cffd0 140.5px,#7effae 143.5px,#7dffaf 144px,#78ffb4 148px,#74ffb8 152px,#70ffbc 156px,#68ffc4 160px,#61ffcb 164px,#5affd2 168px,#4fffdd 172px,#44ffe8 176px,#3afff2 180px,#31fffb 184px,#2dfbff 188px,#2df7ff 190px,#2defff 192px,#2de0ff 196px,#2dc9ff 200px,#2dbeff 202px,#2dbaff 204px,#2db2ff 208px,#2daeff 209.6px,#2db4ff 212px,#2dbdff 215.8px,#2dbeff 216px,#2dc8ff 220px,#2dcdff 222px,#2dd5ff 224px,#2de4ff 228px,#2df3ff 232px,#31fffb 236px,#39fff3 238px,#2dfdff 240px,#2de7ff 243px,#2dd4ff 244px,#2dabff 246.2px,#2da0ff 246.8px,#2d92ff 248px,#2d64ff 252px,#2d9dff 256px,#2db9ff 258px,#2dceff 260px,#2df7ff 264px,#42ffea 268px,#4fffdd 272px,#59ffd3 275px,#5affd2 276px,#5effce 280px,#60ffcc 282px);--a27:linear-gradient(90deg,#f7ff35 0px,#fff22d 4px,#ffdc2d 8px,#ffc62d 12px,#ffbe2d 16px,#ffb72d 20px,#ffaf2d 24px,#ffae2d 24.5px,#ffa92d 28px,#ffa32d 32px,#ff9d2d 36px,#ff9c2d 37px,#ff982d 40px,#ff942d 44px,#ff8f2d 48px,#ff8e2d 49px,#ff8c2d 52px,#ff882d 56px,#ff852d 60px,#ff842d 61px,#ff802d 64px,#ff7c2d 68px,#ff772d 72px,#ff762d 73.5px,#ff752d 76px,#ff732d 80px,#ff722d 84px,#ff712d 86px,#ff702d 88px,#ff6d2d 92px,#ff6a2d 96px,#ff682d 98px,#ff6c2d 100px,#ff6e2d 101.5px,#fffd2d 104px,#2defff 108px,#2db5ff 109px,#2db5ff 112.5px,#2db8ff 116px,#70ffbc 120px,#d6ff56 123px,#d9ff53 124px,#e2ff4a 128px,#e7ff45 130px,#e2ff4a 132px,#d6ff56 136px,#d4ff58 137px,#6effbe 140px,#5dffcf 140.5px,#7effae 143.5px,#7effae 144px,#79ffb3 148px,#75ffb7 152px,#71ffbb 156px,#6affc2 160px,#63ffc9 164px,#5dffcf 168px,#52ffda 172px,#48ffe4 176px,#3effee 180px,#35fff7 184px,#2dffff 188px,#2dfbff 190px,#2df4ff 192px,#2de5ff 196px,#2dd1ff 200px,#2dc6ff 202px,#2dc3ff 204px,#2dbbff 208px,#2db8ff 209.6px,#2dbdff 212px,#2dc5ff 215.8px,#2dc5ff 216px,#2dcfff 220px,#2dd4ff 222px,#2ddcff 224px,#2debff 228px,#2dfaff 232px,#36fff6 236px,#3cfff0 238px,#2dffff 240px,#2de9ff 243px,#2dd5ff 244px,#2dabff 246.2px,#2da0ff 246.8px,#2d93ff 248px,#2d66ff 252px,#2da0ff 256px,#2dbcff 258px,#2dd1ff 260px,#2df9ff 264px,#42ffea 268px,#50ffdc 272px,#5bffd1 275px,#5cffd0 276px,#61ffcb 280px,#63ffc9 282px);--a28:linear-gradient(90deg,#f7ff35 0px,#fff22d 4px,#ffdd2d 8px,#ffc82d 12px,#ffc02d 16px,#ffb82d 20px,#ffb02d 24px,#ffaf2d 24.5px,#ffa92d 28px,#ffa12d 32px,#ff9a2d 36px,#ff982d 37px,#ff942d 40px,#ff8e2d 44px,#ff892d 48px,#ff872d 49px,#ff842d 52px,#ff802d 56px,#ff7c2d 60px,#ff7b2d 61px,#ff782d 64px,#ff752d 68px,#ff712d 72px,#ff702d 73.5px,#ff702d 76px,#ff6f2d 80px,#ff6e2d 84px,#ff6e2d 86px,#ff6d2d 88px,#ff6b2d 92px,#ff692d 96px,#ff682d 98px,#ff6b2d 100px,#ff6e2d 101.5px,#fffd2d 104px,#2defff 108px,#2db5ff 109px,#2db5ff 112.5px,#2dbeff 116px,#6fffbd 120px,#d1ff5b 123px,#d3ff59 124px,#ddff4f 128px,#e2ff4a 130px,#ddff4f 132px,#d3ff59 136px,#d1ff5b 137px,#6effbe 140px,#5dffcf 140.5px,#7fffad 143.5px,#7effae 144px,#7affb2 148px,#76ffb6 152px,#72ffba 156px,#6cffc0 160px,#66ffc6 164px,#5fffcd 168px,#56ffd6 172px,#4cffe0 176px,#42ffea 180px,#3afff2 184px,#31fffb 188px,#2dffff 190px,#2df8ff 192px,#2deaff 196px,#2dd8ff 200px,#2dcfff 202px,#2dcbff 204px,#2dc5ff 208px,#2dc2ff 209.6px,#2dc6ff 212px,#2dcdff 215.8px,#2dcdff 216px,#2dd7ff 220px,#2ddbff 222px,#2de3ff 224px,#2df2ff 228px,#2ffffd 232px,#3afff2 236px,#40ffec 238px,#30fffc 240px,#2deaff 243px,#2dd6ff 244px,#2dabff 246.2px,#2da0ff 246.8px,#2d93ff 248px,#2d68ff 252px,#2da3ff 256px,#2dc0ff 258px,#2dd4ff 260px,#2dfbff 264px,#42ffea 268px,#52ffda 272px,#5dffcf 275px,#5fffce 276px,#63ffc9 280px,#66ffc6 282px);--a29:linear-gradient(90deg,#f7ff35 0px,#fff22d 4px,#ffdc2d 8px,#ffc72d 12px,#ffbe2d 16px,#ffb62d 20px,#ffad2d 24px,#ffac2d 24.5px,#ffa62d 28px,#ff9f2d 32px,#ff982d 36px,#ff962d 37px,#ff922d 40px,#ff8d2d 44px,#ff892d 48px,#ff872d 49px,#ff852d 52px,#ff812d 56px,#ff7e2d 60px,#ff7d2d 61px,#ff7a2d 64px,#ff772d 68px,#ff742d 72px,#ff722d 73.5px,#ff722d 76px,#ff702d 80px,#ff6f2d 84px,#ff6e2d 86px,#ff6e2d 88px,#ff6c2d 92px,#ff6a2d 96px,#ff692d 98px,#ff6c2d 100px,#ff6e2d 101.5px,#fffc2d 104px,#2df2ff 108px,#2db9ff 109px,#2dbeff 112px,#2dbfff 112.5px,#2dcfff 116px,#75ffb7 120px,#ceff5e 123px,#d1ff5b 124px,#deff4e 128px,#e4ff48 130px,#dfff4d 132px,#d4ff58 136px,#d1ff5b 137px,#6effbe 140px,#5effce 140.5px,#80ffac 143.5px,#7fffad 144px,#7bffb1 148px,#77ffb5 152px,#73ffb9 156px,#6dffbf 160px,#67ffc5 164px,#61ffcb 168px,#57ffd5 172px,#4effde 176px,#45ffe7 180px,#3dffef 184px,#35fff7 188px,#31fffb 190px,#2dfcff 192px,#2deeff 196px,#2ddbff 200px,#2dd1ff 202px,#2dcfff 204px,#2dc9ff 208px,#2dc7ff 209.6px,#2dccff 212px,#2dd4ff 215.8px,#2dd5ff 216px,#2ddfff 220px,#2de4ff 222px,#2decff 224px,#2dfcff 228px,#38fff4 232px,#41ffeb 236px,#46ffe6 238px,#34fff8 240px,#2decff 243px,#2ddaff 244px,#2db1ff 246.2px,#2dabff 246.8px,#2da0ff 248px,#2d7bff 252px,#2db0ff 256px,#2dcaff 258px,#2ddcff 260px,#2dfeff 264px,#45ffe7 268px,#53ffd9 272px,#5effce 275px,#5fffcd 276px,#63ffc9 280px,#65ffc7 282px);--a30:linear-gradient(90deg,#f7ff35 0px,#fff12d 4px,#ffdc2d 8px,#ffc62d 12px,#ffbc2d 16px,#ffb32d 20px,#ffa92d 24px,#ffa82d 24.5px,#ffa32d 28px,#ff9c2d 32px,#ff962d 36px,#ff942d 37px,#ff912d 40px,#ff8d2d 44px,#ff882d 48px,#ff872d 49px,#ff852d 52px,#ff822d 56px,#ff802d 60px,#ff7f2d 61px,#ff7c2d 64px,#ff792d 68px,#ff762d 72px,#ff742d 73.5px,#ff732d 76px,#ff712d 80px,#ff702d 84px,#ff6f2d 86px,#ff6e2d 88px,#ff6c2d 92px,#ff6b2d 96px,#ff6a2d 98px,#ff6c2d 100px,#ff6e2d 101.5px,#fffb2d 104px,#2df5ff 108px,#2dbcff 109px,#2dc6ff 112px,#2dc8ff 112.5px,#2de1ff 116px,#7affb2 120px,#cbff61 123px,#cfff5d 124px,#dfff4d 128px,#e7ff45 130px,#e1ff4b 132px,#d4ff58 136px,#d1ff5b 137px,#6fffbd 140px,#5fffcd 140.5px,#80ffac 143.5px,#80ffac 144px,#7cffb0 148px,#78ffb4 152px,#74ffb8 156px,#6effbe 160px,#68ffc4 164px,#62ffca 168px,#59ffd3 172px,#50ffdc 176px,#48ffe4 180px,#40ffec 184px,#39fff3 188px,#35fff7 190px,#2efffe 192px,#2df2ff 196px,#2ddeff 200px,#2dd4ff 202px,#2dd2ff 204px,#2dceff 208px,#2dccff 209.6px,#2dd2ff 212px,#2ddcff 215.8px,#2dddff 216px,#2de7ff 220px,#2decff 222px,#2df4ff 224px,#33fff9 228px,#40ffec 232px,#47ffe5 236px,#4bffe1 238px,#38fff4 240px,#2deeff 243px,#2dddff 244px,#2db6ff 246.2px,#2db5ff 246.8px,#2dacff 248px,#2d8eff 252px,#2dbdff 256px,#2dd5ff 258px,#2de4ff 260px,#30fffc 264px,#48ffe4 268px,#55ffd7 272px,#5fffcd 275px,#60ffcc 276px,#63ffc9 280px,#64ffc8 282px);--a31:linear-gradient(90deg,#f7ff35 0px,#fff12d 4px,#ffdb2d 8px,#ffc42d 12px,#ffba2d 16px,#ffb02d 20px,#ffa62d 24px,#ffa52d 24.5px,#ff9f2d 28px,#ff992d 32px,#ff932d 36px,#ff922d 37px,#ff8f2d 40px,#ff8c2d 44px,#ff882d 48px,#ff872d 49px,#ff862d 52px,#ff842d 56px,#ff822d 60px,#ff812d 61px,#ff7e2d 64px,#ff7b2d 68px,#ff782d 72px,#ff772d 73.5px,#ff752d 76px,#ff732d 80px,#ff702d 84px,#ff6f2d 86px,#ff6e2d 88px,#ff6d2d 92px,#ff6c2d 96px,#ff6b2d 98px,#ff6d2d 100px,#ff6e2d 101.5px,#fff92d 104px,#2df8ff 108px,#2dc0ff 109px,#2dceff 112px,#2dd1ff 112.5px,#2df2ff 116px,#80ffac 120px,#c8ff64 123px,#cdff5f 124px,#e0ff4c 128px,#eaff42 130px,#e3ff49 132px,#d4ff58 136px,#d1ff5b 137px,#70ffbc 140px,#5fffcd 140.5px,#81ffab 143.5px,#80ffac 144px,#7cffb0 148px,#78ffb4 152px,#74ffb8 156px,#6fffbd 160px,#69ffc3 164px,#64ffc8 168px,#5bffd1 172px,#53ffd9 176px,#4affe2 180px,#44ffe8 184px,#3dffef 188px,#3afff2 190px,#33fff9 192px,#2df7ff 196px,#2de2ff 200px,#2dd7ff 202px,#2dd5ff 204px,#2dd2ff 208px,#2dd1ff 209.6px,#2dd8ff 212px,#2de4ff 215.8px,#2de4ff 216px,#2defff 220px,#2df4ff 222px,#2dfdff 224px,#3cfff0 228px,#48ffe4 232px,#4effde 236px,#51ffdb 238px,#3dffef 240px,#2df0ff 243px,#2de0ff 244px,#2dbcff 246.2px,#2dc0ff 246.8px,#2db9ff 248px,#2da0ff 252px,#2dcaff 256px,#2de0ff 258px,#2decff 260px,#33fff9 264px,#4affe2 268px,#56ffd6 272px,#5fffcd 275px,#60ffcc 276px,#62ffca 280px,#64ffc8 282px);--a32:linear-gradient(90deg,#f7ff35 0px,#fff02d 4px,#ffd92d 8px,#ffc22d 12px,#ffb82d 16px,#ffae2d 20px,#ffa52d 24px,#ffa32d 24.5px,#ff9e2d 28px,#ff992d 32px,#ff932d 36px,#ff922d 37px,#ff8f2d 40px,#ff8c2d 44px,#ff892d 48px,#ff882d 49px,#ff862d 52px,#ff842d 56px,#ff822d 60px,#ff812d 61px,#ff7e2d 64px,#ff7b2d 68px,#ff772d 72px,#ff762d 73.5px,#ff752d 76px,#ff732d 80px,#ff712d 84px,#ff6f2d 86px,#ff6f2d 88px,#ff6d2d 92px,#ff6b2d 96px,#ff6b2d 98px,#ff6c2d 100px,#ff6d2d 101.5px,#ffed2d 104px,#43ffe9 108px,#2de2ff 109px,#2df2ff 112px,#2df5ff 112.5px,#42ffea 116px,#8fff9d 120px,#c8ff64 123px,#ceff5e 124px,#e4ff48 128px,#f0ff3c 130px,#e8ff44 132px,#d8ff54 136px,#d4ff58 137px,#71ffbb 140px,#60ffcc 140.5px,#82ffaa 143.5px,#81ffab 144px,#7dffaf 148px,#79ffb3 152px,#75ffb7 156px,#70ffbc 160px,#6affc2 164px,#65ffc7 168px,#5dffcf 172px,#54ffd8 176px,#4cffe0 180px,#46ffe6 184px,#3fffed 188px,#3cfff0 190px,#36fff6 192px,#2dfaff 196px,#2de8ff 200px,#2ddfff 202px,#2dddff 204px,#2dd9ff 208px,#2dd7ff 209.6px,#2dddff 212px,#2de6ff 215.8px,#2de7ff 216px,#2df1ff 220px,#2df6ff 222px,#2dfeff 224px,#3dffef 228px,#4affe2 232px,#4fffdd 236px,#52ffda 238px,#3effee 240px,#2df2ff 243px,#2de3ff 244px,#2dc1ff 246.2px,#2dc7ff 246.8px,#2dc1ff 248px,#2daeff 252px,#2dd4ff 256px,#2de6ff 258px,#2df2ff 260px,#37fff5 264px,#4cffe0 268px,#56ffd6 272px,#5effce 275px,#5effce 276px,#60ffcc 280px,#61ffcb 282px);--a33:linear-gradient(90deg,#f7ff35 0px,#fff02d 4px,#ffd82d 8px,#ffc02d 12px,#ffb62d 16px,#ffad2d 20px,#ffa32d 24px,#ffa22d 24.5px,#ff9d2d 28px,#ff982d 32px,#ff932d 36px,#ff922d 37px,#ff902d 40px,#ff8c2d 44px,#ff892d 48px,#ff892d 49px,#ff872d 52px,#ff842d 56px,#ff822d 60px,#ff812d 61px,#ff7e2d 64px,#ff7a2d 68px,#ff772d 72px,#ff752d 73.5px,#ff742d 76px,#ff722d 80px,#ff712d 84px,#ff702d 86px,#ff6f2d 88px,#ff6d2d 92px,#ff6b2d 96px,#ff6a2d 98px,#ff6b2d 100px,#ff6b2d 101.5px,#ffe12d 104px,#60ffcc 108px,#31fffb 109px,#44ffe8 112px,#48ffe4 112.5px,#64ffc8 116px,#9dff8f 120px,#c8ff64 123px,#cfff5d 124px,#e8ff44 128px,#f5ff37 130px,#ecff40 132px,#dbff51 136px,#d6ff56 137px,#72ffba 140px,#61ffcb 140.5px,#82ffaa 143.5px,#82ffaa 144px,#7effae 148px,#7affb2 152px,#76ffb6 156px,#71ffbb 160px,#6cffc0 164px,#66ffc6 168px,#5effce 172px,#56ffd6 176px,#4dffdf 180px,#48ffe4 184px,#42ffea 188px,#3fffed 190px,#39fff3 192px,#2dfeff 196px,#2deeff 200px,#2de6ff 202px,#2de4ff 204px,#2ddfff 208px,#2dddff 209.6px,#2de2ff 212px,#2de9ff 215.8px,#2deaff 216px,#2df3ff 220px,#2df7ff 222px,#2efffe 224px,#3fffed 228px,#4bffe1 232px,#51ffdb 236px,#53ffd9 238px,#40ffec 240px,#2df4ff 243px,#2de6ff 244px,#2dc6ff 246.2px,#2dceff 246.8px,#2dcaff 248px,#2dbcff 252px,#2dddff 256px,#2dedff 258px,#2df8ff 260px,#3afff2 264px,#4dffdf 268px,#56ffd6 272px,#5dffcf 275px,#5dffcf 276px,#5effce 280px,#5effce 282px);--a34:linear-gradient(90deg,#f7ff35 0px,#ffef2d 4px,#ffd62d 8px,#ffbe2d 12px,#ffb42d 16px,#ffab2d 20px,#ffa22d 24px,#ffa02d 24.5px,#ff9c2d 28px,#ff982d 32px,#ff932d 36px,#ff922d 37px,#ff902d 40px,#ff8d2d 44px,#ff8a2d 48px,#ff892d 49px,#ff872d 52px,#ff842d 56px,#ff822d 60px,#ff812d 61px,#ff7e2d 64px,#ff7a2d 68px,#ff762d 72px,#ff742d 73.5px,#ff742d 76px,#ff722d 80px,#ff712d 84px,#ff702d 86px,#ff6f2d 88px,#ff6d2d 92px,#ff6b2d 96px,#ff6a2d 98px,#ff6a2d 101.5px,#ffd52d 104px,#7effae 108px,#53ffd9 109px,#68ffc4 112px,#6cffc0 112.5px,#85ffa7 116px,#acff80 120px,#c8ff64 123px,#d0ff5c 124px,#ecff40 128px,#fbff31 130px,#f1ff3b 132px,#deff4e 136px,#d9ff53 137px,#73ffb9 140px,#62ffca 140.5px,#83ffa9 143.5px,#83ffa9 144px,#7fffad 148px,#7bffb1 152px,#77ffb5 156px,#72ffba 160px,#6dffbf 164px,#68ffc4 168px,#5fffcd 172px,#57ffd5 176px,#4fffdd 180px,#4affe2 184px,#45ffe7 188px,#42ffea 190px,#3cfff0 192px,#2ffffd 196px,#2df4ff 200px,#2deeff 202px,#2debff 204px,#2de6ff 208px,#2de4ff 209.6px,#2de7ff 212px,#2decff 215.8px,#2dedff 216px,#2df5ff 220px,#2df9ff 222px,#2ffffd 224px,#40ffec 228px,#4cffe0 232px,#52ffda 236px,#55ffd7 238px,#42ffea 240px,#2df7ff 243px,#2de9ff 244px,#2dcaff 246.2px,#2dd5ff 246.8px,#2dd3ff 248px,#2dcaff 252px,#2de6ff 256px,#2df4ff 258px,#2dfeff 260px,#3effee 264px,#4fffdd 268px,#56ffd6 272px,#5bffd1 275px,#5bffd1 282px);"><i style="top:0px;height:5px;background:var(--a0)"></i><i class="m" style="top:0px;height:5px;background:var(--a1)"></i><i style="top:5px;height:3px;background:var(--a1)"></i><i class="m" style="top:5px;height:3px;background:var(--a2)"></i><i style="top:8px;height:2px;background:var(--a2)"></i><i class="m" style="top:8px;height:2px;background:var(--a3)"></i><i style="top:10px;height:5px;background:var(--a3)"></i><i class="m" style="top:10px;height:5px;background:var(--a4)"></i><i style="top:15px;height:5px;background:var(--a4)"></i><i class="m" style="top:15px;height:5px;background:var(--a5)"></i><i style="top:20px;height:5px;background:var(--a5)"></i><i class="m" style="top:20px;height:5px;background:var(--a6)"></i><i style="top:25px;height:5px;background:var(--a6)"></i><i class="m" style="top:25px;height:5px;background:var(--a7)"></i><i style="top:30px;height:5px;background:var(--a7)"></i><i class="m" style="top:30px;height:5px;background:var(--a8)"></i><i style="top:35px;height:5px;background:var(--a8)"></i><i class="m" style="top:35px;height:5px;background:var(--a9)"></i><i style="top:40px;height:5px;background:var(--a9)"></i><i class="m" style="top:40px;height:5px;background:var(--a10)"></i><i style="top:45px;height:5px;background:var(--a10)"></i><i class="m" style="top:45px;height:5px;background:var(--a11)"></i><i style="top:50px;height:5px;background:var(--a11)"></i><i class="m" style="top:50px;height:5px;background:var(--a12)"></i><i style="top:55px;height:5px;background:var(--a12)"></i><i class="m" style="top:55px;height:5px;background:var(--a13)"></i><i style="top:60px;height:5px;background:var(--a13)"></i><i class="m" style="top:60px;height:5px;background:var(--a14)"></i><i style="top:65px;height:5px;background:var(--a14)"></i><i class="m" style="top:65px;height:5px;background:var(--a15)"></i><i style="top:70px;height:5px;background:var(--a15)"></i><i class="m" style="top:70px;height:5px;background:var(--a16)"></i><i style="top:75px;height:5px;background:var(--a16)"></i><i class="m" style="top:75px;height:5px;background:var(--a17)"></i><i style="top:80px;height:5px;background:var(--a17)"></i><i class="m" style="top:80px;height:5px;background:var(--a18)"></i><i style="top:85px;height:5px;background:var(--a18)"></i><i class="m" style="top:85px;height:5px;background:var(--a19)"></i><i style="top:90px;height:5px;background:var(--a19)"></i><i class="m" style="top:90px;height:5px;background:var(--a20)"></i><i style="top:95px;height:5px;background:var(--a20)"></i><i class="m" style="top:95px;height:5px;background:var(--a21)"></i><i style="top:100px;height:5px;background:var(--a21)"></i><i class="m" style="top:100px;height:5px;background:var(--a22)"></i><i style="top:105px;height:5px;background:var(--a22)"></i><i class="m" style="top:105px;height:5px;background:var(--a23)"></i><i style="top:110px;height:5px;background:var(--a23)"></i><i class="m" style="top:110px;height:5px;background:var(--a24)"></i><i style="top:115px;height:5px;background:var(--a24)"></i><i class="m" style="top:115px;height:5px;background:var(--a25)"></i><i style="top:120px;height:5px;background:var(--a25)"></i><i class="m" style="top:120px;height:5px;background:var(--a26)"></i><i style="top:125px;height:5px;background:var(--a26)"></i><i class="m" style="top:125px;height:5px;background:var(--a27)"></i><i style="top:130px;height:5px;background:var(--a27)"></i><i class="m" style="top:130px;height:5px;background:var(--a28)"></i><i style="top:135px;height:5px;background:var(--a28)"></i><i class="m" style="top:135px;height:5px;background:var(--a29)"></i><i style="top:140px;height:5px;background:var(--a29)"></i><i class="m" style="top:140px;height:5px;background:var(--a30)"></i><i style="top:145px;height:5px;background:var(--a30)"></i><i class="m" style="top:145px;height:5px;background:var(--a31)"></i><i style="top:150px;height:5px;background:var(--a31)"></i><i class="m" style="top:150px;height:5px;background:var(--a32)"></i><i style="top:155px;height:5px;background:var(--a32)"></i><i class="m" style="top:155px;height:5px;background:var(--a33)"></i><i style="top:160px;height:5px;background:var(--a33)"></i><i class="m" style="top:160px;height:5px;background:var(--a34)"></i><svg width="282" height="165" viewBox="0 0 282 165"><path d="M202 0 202 0 206.7 8 209.6 9.8 215.8 8.1 222 9.8 224.4 8 228 0 228 0M246 0 246.2 0.1 246.2 0M201.4 0 202 0.8 206.2 8 209.6 10.1 215.8 8.5 222 10.1 224.8 8 228 0.9 228.3 0M244.4 0 246.2 1.1 246.2 0M200.9 0 202 1.7 205.7 8 209.6 10.4 215.8 8.9 222 10.4 225.2 8 228 1.8 228.7 0M242.9 0 243 0.1 246.2 2 246.3 0M200.3 0 202 2.5 205.2 8 209.6 10.7 215.8 9.3 222 10.7 225.6 8 228 2.7 229 0M242.3 0 243 1.1 246.2 3 246.3 0M199.8 0 202 3.4 204.7 8 209.6 11 215.8 9.7 222 11 226 8 228 3.6 229.3 0M241.7 0 243 2.1 246.2 3.9 246.4 0M199.2 0 202 4.2 204.2 8 209.6 11.3 215.8 10.1 222 11.3 226.4 8 228 4.4 229.7 0M241.1 0 243 3.2 246.2 4.9 246.4 0M198.7 0 202 5.1 203.7 8 209.6 11.6 215.8 10.5 222 11.6 226.8 8 228 5.3 230 0M240.4 0 243 4.2 246.2 5.8 246.4 0M198.1 0 202 5.9 203.2 8 209.6 11.9 215.8 10.9 222 11.9 227.2 8 228 6.2 230.4 0M239.8 0 243 5.2 246.2 6.8 246.5 0M197.6 0 202 6.8 202.7 8 209.6 12.2 215.8 11.3 222 12.2 227.6 8 228 7.1 230.7 0M239.2 0 243 6.2 246.2 7.7 246.5 0M197 0 202 7.6 202.2 8 209.6 12.5 215.8 11.7 222 12.5 228 8 228 8 231 0M238.6 0 243 7.2 244.6 8 246.2 8.7 246.3 8 246.5 0M196.5 0 201.4 8 202 8.5 209.6 12.8 215.8 12.1 222 12.8 228 8.9 228.9 8 231.4 0M237.7 0 238 0.2 242.7 8 243 8.3 246.2 9.7 246.3 8 246.6 0M195.9 0 196 0.2 200.4 8 202 9.3 209.6 13.1 215.8 12.5 222 13.1 228 9.8 229.8 8 231.7 0M234.7 0 238 2.4 241.4 8 243 9.3 246.2 10.6 246.4 8 246.6 0M194.7 0 196 2.1 199.3 8 202 10.2 209.6 13.4 215.8 12.9 222 13.4 228 10.7 230.7 8 232 0.5 238 4.5 240.1 8 243 10.3 246.2 11.6 246.5 8 246.7 0M193.5 0 196 3.9 198.3 8 202 11 209.6 13.7 215.8 13.3 222 13.7 228 11.5 231.6 8 232 5.9 238 6.6 238.8 8 243 11.3 246.2 12.5 246.5 8 246.7 0M192.3 0 196 5.8 197.2 8 202 11.9 209.6 14.1 215.8 13.7 222 14.1 228 12.4 232 11.3 238 8.8 243 12.3 246.2 13.5 246.6 8 246.7 0M191.1 0 196 7.7 196.2 8 202 12.7 209.6 14.4 215.8 14.2 222 14.4 228 13.3 231.5 15 232 16.5 232.8 15 238 10.9 243 13.4 246.2 14.4 246.7 8 246.8 0M246.2 37.5 245.8 45 246.2 47.1 246.2 45 246.2 37.5ZM189.9 0 190 0.3 194.6 8 196 9.6 202 13.6 209.6 14.7 215.8 14.6 222 14.7 228 14.2 229.6 15 232 21.3 235.5 15 238 13.1 243 14.4 244.9 15 244.6 30 244.1 45 246.2 57.9 246.5 45 246.4 30 246.3 15 246.7 8 246.8 0 246.8 0M202 42.5 201.1 45 202 48 203.9 45 202 42.5ZM246.2 75 246.2 75 246.2 75 246.2 75 246.2 75ZM252 117 251.1 120 251.6 135 252 136.1 252.3 135 252.8 120 252 117ZM188.7 0 190 3 193 8 196 11.4 202 14.4 209.6 15 215.8 15 222 15 225 15 228 17.5 232 26.1 238 20 240.5 30 240.5 45 243 51 244.4 60 243.5 75 244.3 90 246.2 92.9 246.5 90 246.6 75 246.5 60 246.7 45 246.6 30 246.6 15 246.8 9.4 247 8 247.9 0M202 30 202 30 196.9 45 196 60 196 60 196 60 202 63 204.2 60 209.6 51.7 214.6 45 215.8 41.3 222 30 222 30 222 30 215.8 18.7 209.6 18 202 30ZM202 87 201.2 90 202 91.9 209.6 96 215.8 95.8 222 93.3 228 91.6 232 90.7 233.1 90 232 87.7 228 86.2 222 85.8 215.8 85.6 209.6 86 202 87ZM252 111 249.4 120 249.7 135 252 141.7 253.7 135 254.2 120 252 111ZM187.5 0 190 5.7 191.4 8 196 13.3 200.5 15 196.5 30 196 31.7 192 45 191 60 196 75 196 75 197.5 90 202 101.2 205.8 105 209.6 110.5 215.8 106.8 217 105 222 99.8 228 95.5 232 94.1 238 90.3 243 92.2 246.2 97.7 246.8 93.2 247.8 90 247.7 75 246.8 60 247.5 45 247.5 30 247.5 15 248.3 8 249 0M112.5 38.7 110.3 45 109 56.3 109 60 109 60.6 112.5 60.8 116 69.4 116.3 60 116.1 45 116 41.3 112.5 38.7ZM217.9 60 222 56.3 228 49.3 232 45 238 50.6 241.6 60 238 73.6 235 75 232 76.2 228 76.9 222 77.5 215.8 76.8 209.6 76 207.1 75 209.6 72.5 215.8 65 217.9 60ZM252 105 252 105 247.7 120 247.8 135 252 147.2 255.1 135 255.8 120 252 105 252 105ZM186.3 0 189.7 8 190 8.5 195.8 15 192.1 30 190 36.8 188.5 45 187.6 60 189.4 75 190 76.9 194.2 90 196 94.1 200.4 105 202 113.2 206.8 120 209.6 123.2 211.9 120 215.8 115.6 222 107 222.8 105 228 99.5 232 97.5 238 93.7 243 95.9 246.2 102.6 246.8 101.1 248.5 105 246.8 112.5 246.2 120 246.2 120 246.2 135 246.2 135 246.8 140 250.3 150 252 153.8 253 150 256.6 135 257.2 120 254 105 252 95.6 250.4 90 249.8 75 249 60 249.1 45 249.1 30 249.1 15 249.6 8 250.1 0M112.5 24.4 111.2 30 109 36.3 108.8 45 108.6 60 109 66.9 112.5 68.2 114.5 75 116 88.1 116.4 75 117 60 116.7 45 116.4 30 116 16.9 112.5 24.4ZM115.7 0 113.6 8 112.5 10.3 110.3 15 109 20.6 108.8 30 108.4 45 108.3 60 109 73.1 111.6 75 112.5 76.9 114 90 112.5 103.1 109 103.8 109 105 108.8 120 108.8 135 109 150 109 150 109 150 112.5 140.8 116 135.6 116.1 135 116.5 120 116.5 105 116.6 90 117.1 75 117.7 60 117.4 45 117 30 116.5 15 116.3 8 116.1 0M185.1 0 187.8 8 190 11.2 193.4 15 190 26.1 188.6 30 185.9 45 184.5 60 186.2 75 190 86.2 191.2 90 196 100.9 197.6 105 200.3 120 202 126.2 209.6 133.9 215.8 126.8 219.7 120 222 117 226.5 105 228 103.4 232 100.9 238 97 243 99.5 245.4 105 245.1 120 245.1 135 245.9 150 246.2 154.3 246.8 150 252 161.2 255 150 258 135 258 135 259 120 258 115 256 105 253.2 90 252 75 252 75 251.1 60 250.7 45 250.7 30 250.7 15 250.9 8 251.1 0M108.8 0 108.8 8 108.7 15 108.5 30 108.1 45 108 60 108.7 75 109 88.1 109.9 90 109 91.2 108.6 105 108.4 120 108.4 135 108.6 150 109 153.1 112.5 150.6 112.9 150 116 141.6 116.7 135 117.1 120 117.1 105 117.2 90 117.7 75 118.3 60 118 45 117.6 30 117.1 15 116.9 8 116.6 0M112.8 0 112.5 0.9 111.6 0M183.9 0 186 8 190 13.9 191 15 190 18.2 185.8 30 183.3 45 181.5 60 183.1 75 187.5 90 190 96.4 194 105 196 113.6 197 120 200.6 135 202 146.3 204.5 150 209.6 153.3 211 150 215.8 140.5 219.3 135 222 130.5 225.8 120 228 114 231 105 232 104.3 238 100.3 243 103.2 243.8 105 243.9 120 244.1 135 244.7 150 245.4 165M253.5 165 257 150 258 145 260.1 135 261 120 258 105 258 105 256.2 90 255 75 254 60 252.7 45 252.6 30 252.6 15 252.6 8 252.6 0M108.2 0 108.4 8 108.4 15 108.1 30 107.8 45 107.7 60 108.4 75 108.6 90 108.2 105 108.1 120 108.1 135 108.2 150 109 156.2 112.5 153.5 115.1 150 116 147.6 117.3 135 117.6 120 117.6 105 117.8 90 118.4 75 119 60 118.7 45 118.3 30 117.7 15 117.4 8 117.1 0M182.7 0 184.1 8 187.8 15 183.1 30 180.8 45 180 50.6 177.7 60 180 75 180 75 183.3 90 188 105 190 110 192.2 120 196 135 196 135 198.4 150 202 162.3 205 165M214.2 165 215.8 161.3 218.1 150 222 143.8 225.8 135 228 129 231.4 120 232 118.3 236 105 238 103.7 240.2 105 242.4 120 243 135 243 135 243.4 150 243.9 165M256.5 165 258 157.5 259.7 150 262.3 135 263 120 261 105 260 90 258 75 258 75 257.3 60 256 45 255.8 30 255.8 15 255.7 8 255.6 0M107.7 0 108 8 108 15 107.8 30 107.4 45 107.3 60 108 75 108.3 90 107.8 105 107.7 120 107.7 135 107.9 150 109 159.4 112.5 156.3 116 151.9 116.5 150 118 135 118.2 120 118.2 105 118.4 90 119 75 119.7 60 119.3 45 118.9 30 118.3 15 118 8 117.6 0M181.5 0 182.2 8 184.1 15 180.3 30 180 31.9 176 45 173.1 60 173.7 75 178.6 90 178.7 105 180 110 184 120 190 135 190 135 193.6 150 196 162 196.7 165M268 0 268 0 268 0ZM280.4 0 281 8 282 15 282 15M223.5 165 224.5 150 228 141.9 231.4 135 232 133.5 236.2 120 238 114 239.2 120 240.4 135 241.5 150 242.1 165M260.3 165 263 150 264 141 264.7 135 265.3 120 264 105 264.8 90 264.7 75 264 60 264 60 261 45 260.6 30 260.6 15 260.3 8 260 0M107.1 0 107.6 8 107.6 15 107.4 30 107.1 45 107 60 107.6 75 107.9 90 107.5 105 107.3 120 107.3 135 107.5 150 109 162.5 112.5 159.2 116 155 117.4 150 118.6 135 118.7 120 118.7 105 119 90 119.7 75 120.3 60 120 45 119.5 30 118.9 15 118.5 8 118.2 0M180.4 0 180.4 8 180.4 15 180 16.5 173.6 30 170.3 45 168.5 60 168 67.5 166.9 75 168 77.5 171.5 90 172 105 175.5 120 180 135 180 135 185 150 190 165M267.4 30 268 26.2 270.3 30 268 35 267.4 30ZM228.7 165 230 150 232 146.2 238 136.9 239.5 150 240 165M265 165 266.5 150 268 135 268 135 268 120 268 105 270.3 90 275 80 282 82.5M106.5 0 107.3 8 107.3 15 107.1 30 106.8 45 106.7 60 107.3 75 107.5 90 107.1 105 107 120 107 135 107.1 150 108.9 165M174 0 173.3 8 172.8 15 168 26.3 165.6 30 160.8 45 157.2 60 156 75 156 75 156 75 163.4 90 164 105 168 120 168 120 171.4 135 174 150 176 165M140.5 15 140.5 15 140.4 30 140.2 45 140 60 140.2 75 140.4 90 140.5 105 140.5 105 140.5 105 140.8 90 141.2 75 141.3 60 141.1 45 140.8 30 140.5 15 140.5 15ZM109.6 165 112.5 162.1 116 158.1 118.3 150 119.3 135 119.3 120 119.3 105 119.7 90 120.3 75 121 60 120.6 45 120.1 30 119.5 15 119.1 8 118.7 0M272.7 165 272.2 150 273.4 135 275 120 275 120 282 111M105.9 0 106.9 8 106.9 15 106.7 30 106.4 45 106.3 60 106.9 75 107.1 90 106.7 105 106.6 120 106.6 135 106.7 150 108.4 165M140.2 0 140 8 139.9 15 139.7 30 139.4 45 139.1 60 139.4 75 139.8 90 139.9 105 140 120 140.1 135 140.1 150 140.2 165M162 0 160.2 8 158.4 15 156 20 152.9 30 149.2 45 147.3 60 147.1 75 153.9 90 152.9 105 156 115 157.1 120 160 135 162 150 164.6 165M112.5 165 116 161.2 119.2 150 119.9 135 119.9 120 119.9 105 120.3 90 120.9 75 121.7 60 121.3 45 120.7 30 120.1 15 119.7 8 119.2 0M141.4 165 141.6 150 141.8 135 142 120 142.4 105 142.1 90 142.8 75 142.9 60 142.7 45 142.5 30 142.3 15 142.1 8 142 0M105.3 0 106.5 8 106.5 15 106.4 30 106.1 45 106 60 106.5 75 106.7 90 106.3 105 106.2 120 106.2 135 106.4 150 107.9 165M139.7 0 139.5 8 139.3 15 139 30 138.6 45 138.1 60 138.7 75 139.1 90 139.4 105 139.5 120 139.4 135 139.5 150 139.6 165M115.4 165 116 164.4 120 150 120.6 135 120.4 120 120.4 105 120.9 90 121.6 75 122.3 60 122 45 121.3 30 120.7 15 120.2 8 119.7 0M143.3 165 143.5 150 145.6 165M104.7 0 106.1 8 106.1 15 106 30 105.8 45 105.7 60 106.2 75 106.3 90 106 105 105.9 120 105.9 135 106 150 107.4 165M139.3 0 139 8 138.7 15 138.3 30 137.8 45 137.2 60 137.9 75 138.5 90 138.8 105 138.9 120 138.8 135 138.8 150 139 165M117.8 165 120.9 150 121.2 135 121 120 121 105 121.5 90 122.2 75 123 60 123 60 123 60 122.6 45 121.9 30 121.3 15 120.8 8 120.3 0M104.1 0 105.7 8 105.8 15 105.7 30 105.4 45 105.3 60 105.8 75 105.9 90 105.6 105 105.5 120 105.5 135 105.6 150 106.9 165M138.8 0 138.5 8 138.1 15 137.6 30 137 45 137 45 130 48 127.7 45 123 40 122.5 30 121.9 15 121.4 8 120.8 0M119.9 165 121.8 150 121.8 135 121.5 120 121.5 105 122.1 90 122.9 75 123 72.5 130 68.6 137 72 137.2 75 137.9 90 138.2 105 138.3 120 138.1 135 138.2 150 138.4 165M0 7.5 3 0M103.6 0 105.3 8 105.4 15 105.3 30 105.1 45 105 60 105.4 75 105.5 90 105.2 105 105.1 120 105.1 135 105.2 150 106.5 165M138.4 0 138 8 137.5 15 137 28.5 136.2 30 130 37.5 124.4 30 123 27 122.5 15 121.9 8 121.3 0M122.1 165 122.7 150 122.5 135 122.1 120 122.1 105 122.8 90 123 85 130 78 137 85 137.2 90 137.7 105 137.7 120 137.5 135 137.5 150 137.7 165M103 0 104.9 8 105 15 105 30 104.8 45 104.7 60 105 75 105.1 90 104.8 105 104.8 120 104.8 135 104.9 150 106 165M138 0 137.5 8 137 14.3 136.7 15 130 28.6 123.6 15 123 13.8 122.5 8 121.8 0M0 22.5 1.2 15 3.2 8 9 0M124.8 165 125.6 150 124.8 135 123 131.3 122.7 120 122.7 105 123 97.5 126.5 90 130 85.5 133.5 90 137 101.3 137.1 105 137.1 120 137 127.5 135.2 135 135.8 150 137 157.5 137.1 165M102.4 0 104.6 8 104.7 15 104.6 30 104.4 45 104.4 60 104.7 75 104.7 90 104.5 105 104.4 120 104.4 135 104.5 150 105.5 165M137.5 0 137 7.8 136.8 8 133.3 15 130 21.8 126.8 15 123.4 8 123 7.5 122.4 0M0 45 0 45 1.3 30 3.6 15 6.6 8 12 1.9 20.9 0M125.3 105 130 95 133.5 105 132.3 120 130 127.5 126.5 120 125.3 105ZM127.7 165 130 150 133.5 165M101.8 0 104.2 8 104.3 15 104.2 30 104.1 45 104 60 104.3 75 104.4 90 104.1 105 104 120 104 135 104.1 150 105 165M137.1 0 137 1.3 131.5 8 130 15 128.6 8 123 1.2 122.9 0M1.4 165 1.5 150 1.6 135 1.5 120 2.1 105 2.5 90 2.5 75 2.4 60 3.4 45 3.9 30 6 15 9.9 8 12 5.6 24.5 2.3 37 1 49 0.4 61 0.2 73.5 0 73.5 0M4.8 165 5.2 150 5.6 135 5.1 120 6.4 105 6.2 90 5.7 75 5.4 60 6.9 45 6.5 30 8.4 15 12 9.4 15.5 8 24.5 5.2 37 3.6 49 2.5 61 1.9 73.5 1.4 86 0.9 98 0.6 101.5 0.6 103.8 8 103.9 15 103.9 30 103.8 45 103.7 60 103.9 75 104 90 103.7 105 103.7 120 103.7 135 103.7 150 104.5 165M8.2 165 9 150 9.6 135 8.7 120 10.7 105 9.8 90 8.8 75 8.4 60 10.3 45 9.1 30 10.8 15 12 13.1 24.5 8.2 25.3 8 37 6.2 49 4.5 61 3.6 73.5 2.8 86 2 98 1.9 101.5 1.9 103.4 8 103.5 15 103.5 30 103.4 45 103.4 60 103.6 75 103.6 90 103.3 105 103.3 120 103.3 135 103.3 150 104 165M11.7 165 12 160 13.7 150 16.2 135 13.1 120 20.7 105 17 90 12 75 12 75 11.4 60 12 55.7 15.1 45 12 32.5 11.7 30 12 27.5 15.7 15 24.5 11.3 37 8.9 40.5 8 49 6.6 61 5.3 73.5 4.2 86 3.1 98 3.1 101.5 3.1 103 8 103.2 15 103.2 30 103.1 45 103 60 103.2 75 103.2 90 103 105 102.9 120 102.9 135 103 150 103.5 165M20 165 22 150 24.5 141 26.8 135 24.5 120 34.2 105 31.6 90 24.5 80 22.4 75 19.7 60 21.4 45 17.4 30 23 15 24.5 14.4 37 12.3 49 9.2 53.1 8 61 6.9 73.5 5.7 86 4.2 98 4.3 101.5 4.3 102.6 8 102.8 15 102.8 30 102.8 45 102.7 60 102.8 75 102.8 90 102.6 105 102.6 120 102.6 135 102.6 150 103 165M33.4 165 34.2 150 37 140 38.5 135 49 124.5 61 120 61 120 61 120 49 108.8 47.7 105 49 101.2 58 90 49 85.9 37 75 37 75 31.4 60 30.8 45 24.5 34.3 23.3 30 24.5 27 37 19.3 40.4 15 49 13.1 61 9.7 65.6 8 73.5 7.1 86 5.3 98 5.6 101.5 5.6 102.2 8 102.4 15 102.5 30 102.4 45 102.4 60 102.5 75 102.4 90 102.2 105 102.2 120 102.2 135 102.2 150 102.5 165M61 165 61 150 61 150 55 135 61 131.5 73.5 120 73.5 120 75.1 105 83.5 90 73.5 85.7 61 80.4 52.4 75 49 70 44.2 60 45.6 45 49 37.5 52.4 30 57.6 15 61 14.1 73.5 9.9 75.8 8 86 6.4 98 6.8 101.5 6.8 101.9 8 102.1 15 102.1 30 102.1 45 102.1 60 102.1 75 102 90 101.8 105 101.8 120 101.8 135 101.8 150 102 165M94 165 95 150 90 135 96 120 94 105 95 90 86 80.4 73.5 75 73.5 75 61 62.5 59.3 60 61 56.2 67.3 45 68.8 30 73.5 18.8 74.3 15 82.6 8 86 7.5 96.7 8 98 8.7 101.5 8.7 101.7 15 101.8 30 101.8 45 101.7 60 101.7 75 101.6 90 101.5 101.2 100.1 105 99.4 120 100.3 135 99.2 150 101.5 157.5 101.5 165M82.1 15 86 11.5 92 15 95.6 30 95.3 45 93.2 60 86 67.1 80.1 60 79.8 45 79.3 30 82.1 15ZM246.5 0V165" fill="none" stroke="#000" stroke-width="1.1" stroke-linejoin="round"/></svg></div><div class="bd" style="left:-0.5px;top:-0.5px;width:283px;height:166px"></div><div class="cb" style="left:289.2px;top:-0.5px;width:15.2px;height:166.2px;background:linear-gradient(0deg,#16169d 0.00%,#16169d 1.56%,#1616aa 1.56%,#1616aa 3.12%,#1616b6 3.12%,#1616b6 4.69%,#1616c3 4.69%,#1616c3 6.25%,#1616cf 6.25%,#1616cf 7.81%,#1616db 7.81%,#1616db 9.38%,#1616e6 9.38%,#1616e6 10.94%,#1616f2 10.94%,#1616f2 12.50%,#161ffa 12.50%,#161ffa 14.06%,#1635fa 14.06%,#1635fa 15.62%,#1646fa 15.62%,#1646fa 17.19%,#1656fa 17.19%,#1656fa 18.75%,#1666fa 18.75%,#1666fa 20.31%,#1674fa 20.31%,#1674fa 21.88%,#1682fa 21.88%,#1682fa 23.44%,#1690fa 23.44%,#1690fa 25.00%,#169dfa 25.00%,#169dfa 26.56%,#16aafa 26.56%,#16aafa 28.12%,#16b6fa 28.12%,#16b6fa 29.69%,#16c3fa 29.69%,#16c3fa 31.25%,#16cffa 31.25%,#16cffa 32.81%,#16dbfa 32.81%,#16dbfa 34.38%,#16e6fa 34.38%,#16e6fa 35.94%,#16f2fa 35.94%,#16f2fa 37.50%,#1ffaf7 37.50%,#1ffaf7 39.06%,#35faeb 39.06%,#35faeb 40.62%,#46fadf 40.62%,#46fadf 42.19%,#56fad4 42.19%,#56fad4 43.75%,#66fac7 43.75%,#66fac7 45.31%,#74fabb 45.31%,#74fabb 46.88%,#82faaf 46.88%,#82faaf 48.44%,#90faa2 48.44%,#90faa2 50.00%,#9dfa95 50.00%,#9dfa95 51.56%,#aafa88 51.56%,#aafa88 53.12%,#b6fa7a 53.12%,#b6fa7a 54.69%,#c3fa6c 54.69%,#c3fa6c 56.25%,#cffa5d 56.25%,#cffa5d 57.81%,#dbfa4d 57.81%,#dbfa4d 59.38%,#e6fa3c 59.38%,#e6fa3c 60.94%,#f2fa29 60.94%,#f2fa29 62.50%,#faf716 62.50%,#faf716 64.06%,#faeb16 64.06%,#faeb16 65.62%,#fadf16 65.62%,#fadf16 67.19%,#fad416 67.19%,#fad416 68.75%,#fac716 68.75%,#fac716 70.31%,#fabb16 70.31%,#fabb16 71.88%,#faaf16 71.88%,#faaf16 73.44%,#faa216 73.44%,#faa216 75.00%,#fa9516 75.00%,#fa9516 76.56%,#fa8816 76.56%,#fa8816 78.12%,#fa7a16 78.12%,#fa7a16 79.69%,#fa6c16 79.69%,#fa6c16 81.25%,#fa5d16 81.25%,#fa5d16 82.81%,#fa4d16 82.81%,#fa4d16 84.38%,#fa3c16 84.38%,#fa3c16 85.94%,#fa2916 85.94%,#fa2916 87.50%,#f71616 87.50%,#f71616 89.06%,#eb1616 89.06%,#eb1616 90.62%,#df1616 90.62%,#df1616 92.19%,#d41616 92.19%,#d41616 93.75%,#c71616 93.75%,#c71616 95.31%,#bb1616 95.31%,#bb1616 96.88%,#af1616 96.88%,#af1616 98.44%,#a21616 98.44%,#a21616 100.00%)"></div><div class="tk" style="left:301.2px;top:32.5px"></div><div class="tl" style="left:305.9px;top:23.7px">0.0</div><div class="tk" style="left:301.2px;top:98.5px"></div><div class="tl" style="left:305.7px;top:89.7px">-1.0</div><div class="tk" style="left:301.2px;top:164.5px"></div><div class="tl" style="left:305.7px;top:155.7px">-2.0</div><div class="plot" style="left:350px;top:0px;width:281px;height:165px;--b0:linear-gradient(90deg,#dbff51 0px,#f9ff33 4px,#fff72d 6px,#fff52d 8px,#fff22d 12px,#fff32d 16px,#fff42d 20px,#fff42d 24px,#fff52d 24.5px,#fff92d 28px,#fffd2d 32px,#fcff30 36px,#fbff31 37px,#fdff2f 40px,#fffd2d 44px,#fffa2d 48px,#fff92d 49px,#fff72d 52px,#fff52d 56px,#fff32d 60px,#fff22d 61px,#fff22d 64px,#fff12d 68px,#fff12d 72px,#fff02d 73.5px,#fff02d 76px,#ffef2d 80px,#ffef2d 84px,#ffee2d 86px,#ffef2d 88px,#fff22d 92px,#fff22d 93.4px,#f3ff39 96px,#d1ff5b 99.6px,#cdff5f 100px,#beff6e 101.5px,#d0ff5c 104px,#eaff42 107.5px,#e7ff45 108px,#cfff5d 112px,#c8ff64 113px,#deff4e 116px,#e2ff4a 116.5px,#ffe52d 120px,#ffd52d 121px,#ffcd2d 124px,#ffca2d 125px,#ffc92d 128px,#ffc82d 130px,#ffcd2d 132px,#ffd52d 135px,#ffe62d 136px,#ffff2d 137.5px,#c7ff65 140px,#79ffb3 143.5px,#78ffb4 144px,#75ffb7 148px,#71ffbb 152px,#6effbe 156px,#6bffc1 160px,#68ffc4 164px,#66ffc6 168px,#62ffca 172px,#5fffcd 176px,#5bffd1 180px,#57ffd5 184px,#53ffd9 188px,#4fffdd 192px,#47ffe5 196px,#3fffed 200px,#38fff4 204px,#2df8ff 208px,#2de6ff 212px,#2dd5ff 216px,#2dbaff 220px,#2da0ff 224px,#2d96ff 225.5px,#2d2d96 228px,#2d2d96 236px,#2d81ff 238px,#2d96ff 240px,#2db5ff 243px,#2dbaff 244px,#2dc0ff 245.2px,#2dd5ff 245.8px,#2de0ff 248px,#2deaff 250px,#2df4ff 252px,#38fff4 256px,#46ffe6 260px,#4cffe0 262px,#4affe2 264px,#46ffe6 268px,#49ffe3 272px,#4affe2 275px,#49ffe3 276px,#43ffe9 280px,#42ffea 281px);--b1:linear-gradient(90deg,#ddff4f 0px,#fcff30 4px,#fff22d 6px,#ffef2d 8px,#ffe92d 12px,#ffe82d 16px,#ffe82d 24.5px,#ffea2d 28px,#ffed2d 32px,#fff02d 36px,#fff12d 37px,#ffef2d 40px,#ffed2d 44px,#ffea2d 48px,#ffe92d 49px,#ffe82d 52px,#ffe62d 56px,#ffe52d 60px,#ffe42d 61px,#ffe42d 64px,#ffe32d 68px,#ffe32d 72px,#ffe22d 73.5px,#ffe32d 76px,#ffe32d 80px,#ffe42d 84px,#ffe42d 86px,#ffe72d 88px,#ffec2d 92px,#ffee2d 93.4px,#f5ff37 96px,#d1ff5b 99.6px,#cdff5f 100px,#beff6e 101.5px,#caff62 104px,#dbff51 107.5px,#d9ff53 108px,#c8ff64 112px,#c4ff68 113px,#e3ff49 116px,#e9ff43 116.5px,#ffe32d 120px,#ffd52d 121px,#ffcd2d 124px,#ffca2d 125px,#ffc72d 128px,#ffc52d 130px,#ffcb2d 132px,#ffd52d 135px,#ffe62d 136px,#ffff2d 137.5px,#c8ff64 140px,#7bffb1 143.5px,#7bffb1 144px,#78ffb4 148px,#75ffb7 152px,#72ffba 156px,#6fffbd 160px,#6cffc0 164px,#69ffc3 168px,#66ffc6 172px,#63ffc9 176px,#5fffcd 180px,#5cffd0 184px,#59ffd3 188px,#56ffd6 192px,#4fffdd 196px,#49ffe3 200px,#42ffea 204px,#33fff9 208px,#2df6ff 212px,#2de6ff 216px,#2dd3ff 220px,#2dc0ff 224px,#2db9ff 225.5px,#2d2de8 228px,#2d2d96 232px,#2d2df4 236px,#2daaff 238px,#2db3ff 240px,#2dc0ff 243px,#2dc5ff 244px,#2dcaff 245.2px,#2ddcff 245.8px,#2de5ff 248px,#2deeff 250px,#2df8ff 252px,#3afff2 256px,#45ffe7 260px,#4bffe1 262px,#49ffe3 264px,#46ffe6 268px,#49ffe3 272px,#4bffe1 275px,#4affe2 276px,#45ffe7 280px,#44ffe8 281px);--b2:linear-gradient(90deg,#dfff4d 0px,#ffff2d 4px,#ffef2d 6px,#ffea2d 8px,#ffe12d 12px,#ffe02d 16px,#ffdf2d 20px,#ffde2d 24px,#ffde2d 24.5px,#ffdf2d 28px,#ffe12d 32px,#ffe22d 36px,#ffe22d 37px,#ffe12d 40px,#ffdf2d 44px,#ffdd2d 48px,#ffdd2d 49px,#ffdc2d 52px,#ffdb2d 56px,#ffda2d 60px,#ffd92d 61px,#ffd92d 64px,#ffd82d 68px,#ffd72d 72px,#ffd72d 73.5px,#ffd82d 76px,#ffda2d 80px,#ffdc2d 84px,#ffdd2d 86px,#ffe02d 88px,#ffe82d 92px,#ffeb2d 93.4px,#f7ff35 96px,#d1ff5b 99.6px,#cdff5f 100px,#beff6e 101.5px,#c5ff67 104px,#d0ff5c 107.5px,#ceff5e 108px,#c2ff6a 112px,#c0ff6c 113px,#e8ff44 116px,#eeff3e 116.5px,#ffe22d 120px,#ffd52d 121px,#ffcc2d 124px,#ffc92d 125px,#ffc52d 128px,#ffc22d 130px,#ffca2d 132px,#ffd52d 135px,#ffe62d 136px,#ffff2d 137.5px,#c9ff63 140px,#7effae 143.5px,#7dffaf 144px,#7affb2 148px,#77ffb5 152px,#74ffb8 156px,#72ffba 160px,#6fffbd 164px,#6cffc0 168px,#69ffc3 172px,#66ffc6 176px,#63ffc9 180px,#60ffcc 184px,#5effce 188px,#5bffd1 192px,#56ffd6 196px,#50ffdc 200px,#4bffe1 204px,#3effee 208px,#30fffc 212px,#2df4ff 216px,#2de7ff 220px,#2ddaff 224px,#2dd5ff 225.5px,#2db9ff 228px,#2d8cff 232px,#2db5ff 236px,#2dcaff 238px,#2dcaff 240px,#2dc8ff 243px,#2dcdff 244px,#2dd3ff 245.2px,#2de2ff 245.8px,#2de9ff 248px,#2df0ff 250px,#2dfaff 252px,#3bfff1 256px,#45ffe7 260px,#4affe2 262px,#49ffe3 264px,#46ffe6 268px,#49ffe3 272px,#4cffe0 275px,#4bffe1 276px,#47ffe5 280px,#46ffe6 281px);--b3:linear-gradient(90deg,#e0ff4c 0px,#fffe2d 4px,#ffee2d 6px,#ffe92d 8px,#ffdf2d 12px,#ffde2d 16px,#ffdd2d 20px,#ffdb2d 24px,#ffdb2d 24.5px,#ffdc2d 28px,#ffdd2d 32px,#ffdf2d 36px,#ffdf2d 37px,#ffde2d 40px,#ffdc2d 44px,#ffda2d 48px,#ffda2d 49px,#ffd92d 52px,#ffd82d 56px,#ffd72d 60px,#ffd62d 61px,#ffd62d 64px,#ffd52d 68px,#ffd52d 72px,#ffd42d 73.5px,#ffd62d 76px,#ffd82d 80px,#ffda2d 84px,#ffdb2d 86px,#ffdf2d 88px,#ffe72d 92px,#ffea2d 93.4px,#f8ff34 96px,#d1ff5b 99.6px,#cdff5f 100px,#beff6e 101.5px,#c4ff68 104px,#cdff5f 107.5px,#cbff61 108px,#c1ff6b 112px,#bfff6d 113px,#e9ff43 116px,#f0ff3c 116.5px,#ffe22d 120px,#ffd52d 121px,#ffcc2d 124px,#ffc92d 125px,#ffc42d 128px,#ffc12d 130px,#ffc92d 132px,#ffd52d 135px,#ffe62d 136px,#ffff2d 137.5px,#c9ff63 140px,#7effae 143.5px,#7effae 144px,#7bffb1 148px,#78ffb4 152px,#75ffb7 156px,#72ffba 160px,#6fffbd 164px,#6dffbf 168px,#6affc2 172px,#67ffc5 176px,#64ffc8 180px,#61ffcb 184px,#5fffcd 188px,#5dffcf 192px,#57ffd5 196px,#52ffda 200px,#4dffdf 204px,#3fffed 208px,#31fffb 212px,#2df4ff 216px,#2de6ff 220px,#2dd8ff 224px,#2dd3ff 225.5px,#2dbaff 228px,#2d91ff 232px,#2db5ff 236px,#2dc7ff 238px,#2dc8ff 240px,#2dcaff 243px,#2dcfff 244px,#2dd5ff 245.2px,#2de3ff 245.8px,#2deaff 248px,#2df1ff 250px,#2dfbff 252px,#3cfff0 256px,#45ffe7 260px,#4affe2 262px,#49ffe3 264px,#46ffe6 268px,#49ffe3 272px,#4cffe0 275px,#4bffe1 276px,#47ffe5 280px,#46ffe6 281px);--b4:linear-gradient(90deg,#e2ff4a 0px,#fffb2d 4px,#ffea2d 6px,#ffe32d 8px,#ffd52d 12px,#ffd32d 16px,#ffd12d 20px,#ffcf2d 24px,#ffcf2d 24.5px,#ffce2d 28px,#ffcd2d 32px,#ffcd2d 37px,#ffcc2d 40px,#ffcb2d 44px,#ffcb2d 48px,#ffca2d 49px,#ffca2d 52px,#ffc92d 56px,#ffc92d 60px,#ffc82d 61px,#ffc82d 64px,#ffc72d 68px,#ffc72d 72px,#ffc62d 73.5px,#ffc82d 76px,#ffcc2d 80px,#ffcf2d 84px,#ffd12d 86px,#ffd62d 88px,#ffe22d 92px,#ffe62d 93.4px,#faff32 96px,#d1ff5b 99.6px,#cdff5f 100px,#beff6e 101.5px,#beff6e 108px,#baff72 112px,#baff72 113px,#eeff3e 116px,#f7ff35 116.5px,#ffe02d 120px,#ffd52d 121px,#ffcc2d 124px,#ffc82d 125px,#ffc22d 128px,#ffbe2d 130px,#ffc72d 132px,#ffd52d 135px,#ffe62d 136px,#ffff2d 137.5px,#caff62 140px,#81ffab 143.5px,#81ffab 144px,#7effae 148px,#7bffb1 152px,#79ffb3 156px,#76ffb6 160px,#73ffb9 164px,#70ffbc 168px,#6dffbf 172px,#6bffc1 176px,#68ffc4 180px,#66ffc6 184px,#65ffc7 188px,#64ffc8 192px,#60ffcc 196px,#5cffd0 200px,#58ffd4 204px,#46ffe6 208px,#34fff8 212px,#2df4ff 216px,#2de3ff 220px,#2dd1ff 224px,#2dcaff 225.5px,#2dbeff 228px,#2dabff 232px,#2db2ff 236px,#2db5ff 238px,#2dc2ff 240px,#2dd5ff 243px,#2ddaff 244px,#2de0ff 245.2px,#2deaff 245.8px,#2defff 248px,#2df4ff 250px,#2dfeff 252px,#3effee 256px,#45ffe7 260px,#48ffe4 262px,#48ffe4 264px,#46ffe6 268px,#4affe2 272px,#4cffe0 275px,#4cffe0 276px,#49ffe3 280px,#48ffe4 281px);--b5:linear-gradient(90deg,#e2ff4a 0px,#fffa2d 4px,#ffe92d 6px,#ffe22d 8px,#ffd42d 12px,#ffd02d 16px,#ffcc2d 20px,#ffc92d 24px,#ffc82d 24.5px,#ffc62d 28px,#ffc42d 32px,#ffc12d 36px,#ffc12d 37px,#ffbf2d 40px,#ffbe2d 44px,#ffbc2d 48px,#ffbb2d 49px,#ffba2d 52px,#ffb82d 56px,#ffb62d 60px,#ffb62d 61px,#ffb52d 64px,#ffb32d 68px,#ffb12d 72px,#ffb02d 73.5px,#ffb12d 76px,#ffb32d 80px,#ffb42d 84px,#ffb52d 86px,#ffbd2d 88px,#ffcd2d 92px,#ffd22d 93.4px,#fff72d 96px,#d5ff57 99.6px,#d0ff5c 100px,#beff6e 101.5px,#bbff71 104px,#b6ff76 107.5px,#b6ff76 108px,#b8ff74 112px,#b8ff74 113px,#f1ff3b 116px,#fbff31 116.5px,#ffdf2d 120px,#ffd42d 121px,#ffcb2d 124px,#ffc82d 125px,#ffc42d 128px,#ffc12d 130px,#ffc92d 132px,#ffd52d 135px,#ffe62d 136px,#ffff2d 137.5px,#cbff61 140px,#83ffa9 143.5px,#83ffa9 144px,#81ffab 148px,#7fffad 152px,#7dffaf 156px,#7affb2 160px,#76ffb6 164px,#73ffb9 168px,#71ffbb 172px,#6effbe 176px,#6cffc0 180px,#6affc2 184px,#68ffc4 188px,#66ffc6 192px,#64ffc8 196px,#62ffca 200px,#5fffcd 204px,#50ffdc 208px,#41ffeb 212px,#31fffb 216px,#2df3ff 220px,#2de2ff 224px,#2ddcff 225.5px,#2dd1ff 228px,#2dc0ff 232px,#2dc7ff 236px,#2dcaff 238px,#2dd4ff 240px,#2de2ff 243px,#2de4ff 244px,#2de6ff 245.2px,#2dedff 245.8px,#2df2ff 248px,#2df5ff 250px,#2dfdff 252px,#3afff2 256px,#41ffeb 260px,#45ffe7 262px,#47ffe5 264px,#4cffe0 268px,#4cffe0 276px,#4affe2 280px,#49ffe3 281px);--b6:linear-gradient(90deg,#e3ff49 0px,#fff82d 4px,#ffe72d 6px,#ffe02d 8px,#ffd32d 12px,#ffcd2d 16px,#ffc82d 20px,#ffc22d 24px,#ffc12d 24.5px,#ffbe2d 28px,#ffba2d 32px,#ffb62d 36px,#ffb52d 37px,#ffb32d 40px,#ffb02d 44px,#ffad2d 48px,#ffac2d 49px,#ffaa2d 52px,#ffa72d 56px,#ffa42d 60px,#ffa32d 61px,#ffa12d 64px,#ff9e2d 68px,#ff9b2d 72px,#ff9a2d 73.5px,#ff9a2d 76px,#ff992d 80px,#ff992d 86px,#ffa32d 88px,#ffb72d 92px,#ffbf2d 93.4px,#ffe92d 96px,#d9ff53 99.6px,#d3ff59 100px,#beff6e 101.5px,#b7ff75 104px,#aeff7e 107.5px,#afff7d 108px,#b5ff77 112px,#b7ff75 113px,#f5ff37 116px,#ffff2d 116.5px,#ffdd2d 120px,#ffd42d 121px,#ffcb2d 124px,#ffc82d 125px,#ffc62d 128px,#ffc52d 130px,#ffcb2d 132px,#ffd52d 135px,#ffe62d 136px,#ffff2d 137.5px,#ccff60 140px,#85ffa7 143.5px,#85ffa7 144px,#84ffa8 148px,#83ffa9 152px,#82ffaa 156px,#7effae 160px,#7affb2 164px,#76ffb6 168px,#74ffb8 172px,#72ffba 176px,#70ffbc 180px,#6effbe 184px,#6bffc1 188px,#68ffc4 192px,#68ffc4 196px,#67ffc5 200px,#67ffc5 204px,#5affd2 208px,#4dffdf 212px,#40ffec 216px,#31fffb 220px,#2df3ff 224px,#2dedff 225.5px,#2de4ff 228px,#2dd5ff 232px,#2ddcff 236px,#2de0ff 238px,#2de5ff 240px,#2deeff 243px,#2deeff 244px,#2dedff 245.2px,#2df1ff 245.8px,#2df4ff 248px,#2df6ff 250px,#2dfcff 252px,#37fff5 256px,#3effee 260px,#41ffeb 262px,#47ffe5 264px,#53ffd9 268px,#4fffdd 272px,#4cffe0 275px,#4cffe0 276px,#4affe2 280px,#4affe2 281px);--b7:linear-gradient(90deg,#e4ff48 0px,#fff72d 4px,#ffe62d 6px,#ffdf2d 8px,#ffd22d 12px,#ffca2d 16px,#ffc32d 20px,#ffbc2d 24px,#ffbb2d 24.5px,#ffb62d 28px,#ffb02d 32px,#ffaa2d 36px,#ffa92d 37px,#ffa62d 40px,#ffa22d 44px,#ff9e2d 48px,#ff9d2d 49px,#ff9a2d 52px,#ff962d 56px,#ff922d 60px,#ff912d 61px,#ff8e2d 64px,#ff8a2d 68px,#ff862d 72px,#ff842d 73.5px,#ff832d 76px,#ff802d 80px,#ff7e2d 84px,#ff7d2d 86px,#ff892d 88px,#ffa22d 92px,#ffab2d 93.4px,#ffdc2d 96px,#ddff4f 99.6px,#d7ff55 100px,#beff6e 101.5px,#b4ff78 104px,#a7ff85 107.5px,#a8ff84 108px,#b3ff79 112px,#b5ff77 113px,#f8ff34 116px,#fffb2d 116.5px,#ffdc2d 120px,#ffd32d 121px,#ffcb2d 124px,#ffc82d 125px,#ffc82d 130px,#ffcd2d 132px,#ffd52d 135px,#ffe62d 136px,#ffff2d 137.5px,#cdff5f 140px,#87ffa5 143.5px,#87ffa5 152px,#86ffa6 156px,#82ffaa 160px,#7dffaf 164px,#79ffb3 168px,#77ffb5 172px,#76ffb6 176px,#74ffb8 180px,#71ffbb 184px,#6effbe 188px,#6bffc1 192px,#6cffc0 196px,#6dffbf 200px,#6effbe 204px,#64ffc8 208px,#59ffd3 212px,#4fffdd 216px,#40ffec 220px,#32fffa 224px,#2dffff 225.5px,#2df7ff 228px,#2deaff 232px,#2df1ff 236px,#2df4ff 238px,#2df7ff 240px,#2dfbff 243px,#2df8ff 244px,#2df4ff 245.2px,#2df4ff 245.8px,#2df6ff 248px,#2df7ff 250px,#2dfcff 252px,#33fff9 256px,#3afff2 260px,#3effee 262px,#47ffe5 264px,#59ffd3 268px,#52ffda 272px,#4cffe0 275px,#4cffe0 276px,#4bffe1 280px,#4affe2 281px);--b8:linear-gradient(90deg,#e4ff48 0px,#fff72d 4px,#ffe62d 6px,#ffdf2d 8px,#ffd22d 12px,#ffca2d 16px,#ffc32d 20px,#ffbb2d 24px,#ffba2d 24.5px,#ffb52d 28px,#ffaf2d 32px,#ffaa2d 36px,#ffa82d 37px,#ffa52d 40px,#ffa12d 44px,#ff9d2d 48px,#ff9c2d 49px,#ff982d 52px,#ff942d 56px,#ff8f2d 60px,#ff8e2d 61px,#ff8b2d 64px,#ff862d 68px,#ff812d 72px,#ff802d 73.5px,#ff7e2d 76px,#ff7a2d 80px,#ff772d 84px,#ff762d 86px,#ff802d 88px,#ff932d 92px,#ff9a2d 93.4px,#ffd32d 96px,#ddff4f 99.6px,#d7ff55 100px,#beff6e 101.5px,#b6ff76 104px,#aaff82 107.5px,#abff81 108px,#b4ff78 112px,#b6ff76 113px,#f3ff39 116px,#fdff2f 116.5px,#ffdc2d 120px,#ffd22d 121px,#ffc92d 124px,#ffc62d 125px,#ffc72d 128px,#ffc82d 130px,#ffcd2d 132px,#ffd52d 135px,#ffe62d 136px,#ffff2d 137.5px,#cdff5f 140px,#87ffa5 143.5px,#87ffa5 144px,#86ffa6 148px,#86ffa6 152px,#85ffa7 156px,#80ffac 160px,#7affb2 164px,#74ffb8 168px,#74ffb8 180px,#72ffba 184px,#6fffbd 188px,#6cffc0 192px,#6dffbf 196px,#6effbe 200px,#6effbe 204px,#64ffc8 208px,#5affd2 212px,#50ffdc 216px,#42ffea 220px,#34fff8 224px,#2ffffd 225.5px,#2df8ff 228px,#2deaff 232px,#2df1ff 236px,#2df5ff 238px,#2df8ff 240px,#2dfcff 243px,#2df9ff 244px,#2df4ff 245.2px,#2df4ff 245.8px,#2df6ff 248px,#2df7ff 250px,#2dfbff 252px,#33fff9 256px,#3afff2 260px,#3effee 262px,#47ffe5 264px,#59ffd3 268px,#52ffda 272px,#4dffdf 275px,#4dffdf 276px,#4bffe1 280px,#4bffe1 281px);--b9:linear-gradient(90deg,#e4ff48 0px,#fff72d 4px,#ffe62d 6px,#ffdf2d 8px,#ffd12d 12px,#ffca2d 16px,#ffc22d 20px,#ffbb2d 24px,#ffba2d 24.5px,#ffb52d 28px,#ffaf2d 32px,#ffa92d 36px,#ffa82d 37px,#ffa52d 40px,#ffa02d 44px,#ff9c2d 48px,#ff9b2d 49px,#ff972d 52px,#ff922d 56px,#ff8d2d 60px,#ff8c2d 61px,#ff892d 64px,#ff842d 68px,#ff7f2d 72px,#ff7d2d 73.5px,#ff7a2d 76px,#ff772d 80px,#ff732d 84px,#ff712d 86px,#ff782d 88px,#ff872d 92px,#ff8c2d 93.4px,#ffae2d 96px,#ffdd2d 99.6px,#ffe22d 100px,#fff22d 101.5px,#e4ff48 104px,#acff80 107.5px,#adff7f 108px,#b5ff77 112px,#b7ff75 113px,#f0ff3c 116px,#f9ff33 116.5px,#ffdd2d 120px,#ffd12d 121px,#ffc82d 124px,#ffc42d 125px,#ffc72d 128px,#ffc82d 130px,#ffcd2d 132px,#ffd52d 135px,#ffe62d 136px,#ffff2d 137.5px,#cdff5f 140px,#87ffa5 143.5px,#87ffa5 144px,#86ffa6 148px,#85ffa7 152px,#85ffa7 156px,#7effae 160px,#78ffb4 164px,#72ffba 168px,#73ffb9 172px,#73ffb9 176px,#74ffb8 180px,#72ffba 184px,#70ffbc 188px,#6dffbf 192px,#6effbe 196px,#6effbe 204px,#65ffc7 208px,#5bffd1 212px,#51ffdb 216px,#43ffe9 220px,#35fff7 224px,#30fffc 225.5px,#2df8ff 228px,#2de9ff 232px,#2df2ff 236px,#2df6ff 238px,#2df9ff 240px,#2dfdff 243px,#2df9ff 244px,#2df4ff 245.2px,#2df4ff 245.8px,#2df6ff 248px,#2df7ff 250px,#2dfbff 252px,#33fff9 256px,#3afff2 260px,#3effee 262px,#47ffe5 264px,#59ffd3 268px,#52ffda 272px,#4dffdf 275px,#4dffdf 276px,#4bffe1 280px,#4bffe1 281px);--b10:linear-gradient(90deg,#e4ff48 0px,#fff72d 4px,#ffe62d 6px,#ffdf2d 8px,#ffd12d 12px,#ffc92d 16px,#ffc22d 20px,#ffba2d 24px,#ffb92d 24.5px,#ffb42d 28px,#ffae2d 32px,#ffa82d 36px,#ffa72d 37px,#ffa32d 40px,#ff9f2d 44px,#ff9a2d 48px,#ff992d 49px,#ff952d 52px,#ff8f2d 56px,#ff8a2d 60px,#ff892d 61px,#ff842d 64px,#ff7f2d 68px,#ff792d 72px,#ff772d 73.5px,#ff742d 76px,#ff6f2d 80px,#ff6a2d 84px,#ff672d 86px,#ff6a2d 88px,#ff6f2d 92px,#ff702d 93.4px,#ff662d 96px,#ff572d 99.6px,#ff572d 101.5px,#ffbe2d 104px,#b1ff7b 107.5px,#b2ff7a 108px,#b7ff75 112px,#b8ff74 113px,#e9ff43 116px,#f2ff3a 116.5px,#ffde2d 120px,#ffd02d 121px,#ffc52d 124px,#ffc12d 125px,#ffc52d 128px,#ffc82d 130px,#ffcd2d 132px,#ffd52d 135px,#ffe62d 136px,#ffff2d 137.5px,#cdff5f 140px,#86ffa6 143.5px,#86ffa6 144px,#85ffa7 148px,#84ffa8 152px,#84ffa8 156px,#7cffb0 160px,#74ffb8 164px,#6cffc0 168px,#6fffbd 172px,#72ffba 176px,#74ffb8 180px,#73ffb9 184px,#71ffbb 188px,#6fffbd 192px,#6fffbd 200px,#6effbe 204px,#65ffc7 208px,#5cffd0 212px,#54ffd8 216px,#45ffe7 220px,#37fff5 224px,#32fffa 225.5px,#2dfaff 228px,#2de9ff 232px,#2df2ff 236px,#2df7ff 238px,#2dfaff 240px,#2dffff 243px,#2dfaff 244px,#2df4ff 245.2px,#2df4ff 245.8px,#2df6ff 248px,#2df7ff 250px,#2dfbff 252px,#32fffa 256px,#3afff2 260px,#3effee 262px,#47ffe5 264px,#58ffd4 268px,#52ffda 272px,#4effde 275px,#4dffdf 276px,#4cffe0 280px,#4cffe0 281px);--b11:linear-gradient(90deg,#e4ff48 0px,#fff72d 4px,#ffe62d 6px,#ffdf2d 8px,#ffd12d 12px,#ffc92d 16px,#ffc12d 20px,#ffba2d 24px,#ffb92d 24.5px,#ffb42d 28px,#ffae2d 32px,#ffa82d 36px,#ffa72d 37px,#ffa32d 40px,#ff9e2d 44px,#ff9a2d 48px,#ff982d 49px,#ff942d 52px,#ff8f2d 56px,#ff892d 60px,#ff882d 61px,#ff832d 64px,#ff7d2d 68px,#ff782d 72px,#ff752d 73.5px,#ff722d 76px,#ff6d2d 80px,#ff682d 84px,#ff652d 86px,#ff672d 88px,#ff6b2d 92px,#ff6c2d 93.4px,#ff632d 96px,#ff572d 99.6px,#ff572d 101.5px,#ffbd2d 104px,#b2ff7a 107.5px,#b3ff79 108px,#b7ff75 112px,#b8ff74 113px,#e8ff44 116px,#f0ff3c 116.5px,#ffde2d 120px,#ffd02d 121px,#ffc42d 124px,#ffc02d 125px,#ffc52d 128px,#ffc82d 130px,#ffcd2d 132px,#ffd52d 135px,#ffe62d 136px,#ffff2d 137.5px,#cdff5f 140px,#86ffa6 143.5px,#86ffa6 144px,#85ffa7 148px,#84ffa8 152px,#83ffa9 156px,#7bffb1 160px,#73ffb9 164px,#6bffc1 168px,#6effbe 172px,#71ffbb 176px,#74ffb8 180px,#73ffb9 184px,#71ffbb 188px,#70ffbc 192px,#6fffbd 196px,#6fffbd 200px,#6effbe 204px,#65ffc7 208px,#5dffcf 212px,#54ffd8 216px,#46ffe6 220px,#38fff4 224px,#33fff9 225.5px,#2dfaff 228px,#2de9ff 232px,#2df2ff 236px,#2df7ff 238px,#2dfaff 240px,#2dffff 243px,#2dfaff 244px,#2df4ff 245.2px,#2df4ff 245.8px,#2df6ff 248px,#2df7ff 250px,#2dfbff 252px,#32fffa 256px,#3afff2 260px,#3effee 262px,#47ffe5 264px,#58ffd4 268px,#52ffda 272px,#4effde 275px,#4effde 276px,#4cffe0 280px,#4cffe0 281px);--b12:linear-gradient(90deg,#e4ff48 0px,#fff72d 4px,#ffe62d 6px,#ffdf2d 8px,#ffd12d 12px,#ffc92d 16px,#ffc12d 20px,#ffb92d 24px,#ffb82d 24.5px,#ffb32d 28px,#ffad2d 32px,#ffa72d 36px,#ffa62d 37px,#ffa22d 40px,#ff9d2d 44px,#ff972d 48px,#ff962d 49px,#ff912d 52px,#ff8b2d 56px,#ff852d 60px,#ff832d 61px,#ff7e2d 64px,#ff772d 68px,#ff712d 72px,#ff6e2d 73.5px,#ff6a2d 76px,#ff632d 80px,#ff5c2d 84px,#ff592d 86px,#ff592d 88px,#ff572d 92px,#ff572d 101.5px,#ffbb2d 104px,#b8ff74 107.5px,#b8ff74 108px,#b9ff73 112px,#baff72 113px,#e0ff4c 116px,#e6ff46 116.5px,#ffdf2d 120px,#ffcf2d 121px,#ffc12d 124px,#ffbc2d 125px,#ffc32d 128px,#ffc82d 130px,#ffcd2d 132px,#ffd52d 135px,#ffe62d 136px,#ffff2d 137.5px,#ccff60 140px,#85ffa7 143.5px,#85ffa7 144px,#84ffa8 148px,#83ffa9 152px,#82ffaa 156px,#78ffb4 160px,#6effbe 164px,#64ffc8 168px,#69ffc3 172px,#6fffbd 176px,#74ffb8 180px,#74ffb8 184px,#73ffb9 188px,#72ffba 192px,#71ffbb 196px,#70ffbc 200px,#6effbe 204px,#66ffc6 208px,#5fffcd 212px,#57ffd5 216px,#49ffe3 220px,#3bfff1 224px,#35fff7 225.5px,#2dfbff 228px,#2de8ff 232px,#2df3ff 236px,#2df9ff 238px,#2dfcff 240px,#2ffffd 243px,#2dfbff 244px,#2df4ff 245.2px,#2df4ff 245.8px,#2df6ff 248px,#2df7ff 250px,#2dfbff 252px,#31fffb 256px,#3afff2 260px,#3effee 262px,#47ffe5 264px,#58ffd4 268px,#53ffd9 272px,#4fffdd 275px,#4effde 276px,#4dffdf 280px,#4cffe0 281px);--b13:linear-gradient(90deg,#e4ff48 0px,#fff72d 4px,#ffe62d 6px,#ffdf2d 8px,#ffd12d 12px,#ffc92d 16px,#ffc02d 20px,#ffb82d 24px,#ffb72d 24.5px,#ffb22d 28px,#ffac2d 32px,#ffa62d 36px,#ffa52d 37px,#ffa02d 40px,#ff9b2d 44px,#ff952d 48px,#ff942d 49px,#ff8f2d 52px,#ff892d 56px,#ff832d 60px,#ff812d 61px,#ff7c2d 64px,#ff752d 68px,#ff6f2d 72px,#ff6c2d 73.5px,#ff682d 76px,#ff612d 80px,#ff5a2d 84px,#ff572d 86px,#ff562d 88px,#ff552d 92px,#ff552d 96px,#ff562d 99.6px,#ff562d 100px,#ff572d 101.5px,#ffba2d 104px,#b9ff73 107.5px,#b9ff73 108px,#baff72 112px,#baff72 113px,#e6ff46 116px,#eeff3e 116.5px,#ffdd2d 120px,#ffcf2d 121px,#ffc32d 124px,#ffbf2d 125px,#ffc42d 128px,#ffc82d 130px,#ffcd2d 132px,#ffd52d 135px,#ffe62d 136px,#ffff2d 137.5px,#cbff61 140px,#82ffaa 143.5px,#82ffaa 144px,#81ffab 148px,#80ffac 152px,#80ffac 156px,#78ffb4 160px,#71ffbb 164px,#6affc2 168px,#6dffbf 172px,#71ffbb 176px,#74ffb8 180px,#73ffb9 184px,#71ffbb 188px,#70ffbc 192px,#70ffbc 196px,#6fffbd 200px,#6fffbd 204px,#69ffc3 208px,#63ffc9 212px,#5dffcf 216px,#52ffda 220px,#46ffe6 224px,#41ffeb 225.5px,#38fff4 228px,#2dfcff 232px,#2efffe 236px,#30fffc 238px,#31fffb 240px,#33fff9 243px,#2dfeff 244px,#2df6ff 245.2px,#2df4ff 245.8px,#2df6ff 248px,#2df7ff 250px,#2dfbff 252px,#32fffa 256px,#3afff2 260px,#3fffed 262px,#46ffe6 264px,#53ffd9 268px,#52ffda 272px,#51ffdb 275px,#51ffdb 281px);--b14:linear-gradient(90deg,#e4ff48 0px,#fff72d 4px,#ffe62d 6px,#ffdf2d 8px,#ffd22d 12px,#ffc92d 16px,#ffc02d 20px,#ffb72d 24px,#ffb62d 24.5px,#ffb12d 28px,#ffab2d 32px,#ffa52d 36px,#ffa42d 37px,#ff9f2d 40px,#ff992d 44px,#ff932d 48px,#ff922d 49px,#ff8d2d 52px,#ff872d 56px,#ff802d 60px,#ff7f2d 61px,#ff7a2d 64px,#ff732d 68px,#ff6c2d 72px,#ff6a2d 73.5px,#ff662d 76px,#ff5f2d 80px,#ff582d 84px,#ff552d 86px,#ff542d 88px,#ff532d 92px,#ff532d 96px,#ff542d 99.6px,#ff552d 100px,#ff572d 101.5px,#ffba2d 104px,#baff72 107.5px,#baff72 108px,#bbff71 112px,#bbff71 113px,#edff3f 116px,#f5ff37 116.5px,#ffdc2d 120px,#ffcf2d 121px,#ffc52d 124px,#ffc12d 125px,#ffc62d 128px,#ffc82d 130px,#ffcd2d 132px,#ffd52d 135px,#ffe62d 136px,#ffff2d 137.5px,#caff62 140px,#80ffac 143.5px,#80ffac 144px,#7fffad 148px,#7effae 152px,#7dffaf 156px,#79ffb3 160px,#75ffb7 164px,#70ffbc 168px,#72ffba 172px,#73ffb9 176px,#74ffb8 180px,#72ffba 184px,#70ffbc 188px,#6dffbf 192px,#6effbe 196px,#6fffbd 200px,#70ffbc 204px,#6cffc0 208px,#68ffc4 212px,#64ffc8 216px,#5affd2 220px,#51ffdb 224px,#4dffdf 225.5px,#47ffe5 228px,#3dffef 232px,#3afff2 236px,#39fff3 238px,#38fff4 240px,#38fff4 243px,#2ffffd 244px,#2df7ff 245.2px,#2df4ff 245.8px,#2df6ff 248px,#2df8ff 250px,#2dfcff 252px,#33fff9 256px,#3bfff1 260px,#3fffed 262px,#44ffe8 264px,#4fffdd 268px,#51ffdb 272px,#53ffd9 275px,#53ffd9 276px,#56ffd6 280px,#56ffd6 281px);--b15:linear-gradient(90deg,#e4ff48 0px,#fff72d 4px,#ffe62d 6px,#ffe02d 8px,#ffd32d 12px,#ffc92d 16px,#ffc02d 20px,#ffb72d 24px,#ffb52d 24.5px,#ffb02d 28px,#ffaa2d 32px,#ffa42d 36px,#ffa32d 37px,#ff9e2d 40px,#ff982d 44px,#ff912d 48px,#ff902d 49px,#ff8b2d 52px,#ff852d 56px,#ff7e2d 60px,#ff7d2d 61px,#ff782d 64px,#ff712d 68px,#ff6a2d 72px,#ff682d 73.5px,#ff642d 76px,#ff5d2d 80px,#ff562d 84px,#ff532d 86px,#ff522d 88px,#ff512d 92px,#ff512d 93.4px,#ff522d 96px,#ff532d 99.6px,#ff542d 100px,#ff572d 101.5px,#ffb92d 104px,#bcff70 107.5px,#bcff70 113px,#f4ff38 116px,#fdff2f 116.5px,#ffda2d 120px,#ffcf2d 121px,#ffc72d 124px,#ffc42d 125px,#ffc72d 128px,#ffc82d 130px,#ffcd2d 132px,#ffd52d 135px,#ffe62d 136px,#ffff2d 137.5px,#c9ff63 140px,#7dffaf 143.5px,#7dffaf 144px,#7cffb0 148px,#7bffb1 152px,#7bffb1 156px,#79ffb3 160px,#78ffb4 164px,#77ffb5 168px,#76ffb6 172px,#75ffb7 176px,#74ffb8 180px,#71ffbb 184px,#6effbe 188px,#6bffc1 192px,#6dffbf 196px,#6effbe 200px,#70ffbc 204px,#6effbe 208px,#6cffc0 212px,#6affc2 216px,#63ffc9 220px,#5cffd0 224px,#59ffd3 225.5px,#56ffd6 228px,#51ffdb 232px,#47ffe5 236px,#42ffea 238px,#3fffed 240px,#3cfff0 243px,#32fffa 244px,#2df9ff 245.2px,#2df4ff 245.8px,#2df7ff 248px,#2df9ff 250px,#2dfdff 252px,#33fff9 256px,#3cfff0 260px,#40ffec 262px,#43ffe9 264px,#4affe2 268px,#50ffdc 272px,#55ffd7 275px,#56ffd6 276px,#5affd2 280px,#5bffd1 281px);--b16:linear-gradient(90deg,#e4ff48 0px,#fff72d 4px,#ffe62d 6px,#ffe02d 8px,#ffd42d 12px,#ffca2d 16px,#ffc12d 20px,#ffb82d 24px,#ffb72d 24.5px,#ffb12d 28px,#ffab2d 32px,#ffa52d 36px,#ffa32d 37px,#ff9f2d 40px,#ff982d 44px,#ff922d 48px,#ff912d 49px,#ff8c2d 52px,#ff862d 56px,#ff7f2d 60px,#ff7e2d 61px,#ff792d 64px,#ff732d 68px,#ff6c2d 72px,#ff6a2d 73.5px,#ff662d 76px,#ff602d 80px,#ff592d 84px,#ff562d 86px,#ff552d 88px,#ff532d 92px,#ff522d 93.4px,#ff532d 96px,#ff552d 99.6px,#ff562d 100px,#ff582d 101.5px,#ffb92d 104px,#bdff6f 107.5px,#bdff6f 108px,#beff6e 112px,#bfff6d 113px,#f7ff35 116px,#fffe2d 116.5px,#ffd92d 120px,#ffcf2d 121px,#ffc72d 124px,#ffc42d 125px,#ffc72d 128px,#ffc82d 130px,#ffcd2d 132px,#ffd52d 135px,#ffe62d 136px,#ffff2d 137.5px,#caff62 140px,#80ffac 143.5px,#80ffac 144px,#7fffad 148px,#7fffad 152px,#7effae 156px,#7cffb0 160px,#7affb2 164px,#78ffb4 168px,#77ffb5 172px,#75ffb7 176px,#74ffb8 180px,#71ffbb 184px,#6fffbd 188px,#6cffc0 192px,#6dffbf 196px,#6fffbd 200px,#70ffbc 204px,#6effbe 208px,#6dffbf 212px,#6bffc1 216px,#66ffc6 220px,#61ffcb 224px,#60ffcc 225.5px,#5cffd0 228px,#56ffd6 232px,#4cffe0 236px,#46ffe6 238px,#43ffe9 240px,#3fffed 243px,#35fff7 244px,#2dfbff 245.2px,#2df4ff 245.8px,#2df6ff 248px,#2df7ff 250px,#2dfbff 252px,#31fffb 256px,#3bfff1 260px,#3fffed 262px,#43ffe9 264px,#4bffe1 268px,#52ffda 272px,#57ffd5 275px,#58ffd4 276px,#5bffd1 280px,#5cffd0 281px);--b17:linear-gradient(90deg,#e4ff48 0px,#fff72d 4px,#ffe62d 6px,#ffe02d 8px,#ffd42d 12px,#ffcb2d 16px,#ffc22d 20px,#ffb92d 24px,#ffb82d 24.5px,#ffb32d 28px,#ffac2d 32px,#ffa62d 36px,#ffa42d 37px,#ff9f2d 40px,#ff992d 44px,#ff932d 48px,#ff922d 49px,#ff8d2d 52px,#ff862d 56px,#ff802d 60px,#ff7e2d 61px,#ff7a2d 64px,#ff742d 68px,#ff6e2d 72px,#ff6c2d 73.5px,#ff682d 76px,#ff632d 80px,#ff5d2d 84px,#ff5a2d 86px,#ff582d 88px,#ff552d 92px,#ff542d 93.4px,#ff552d 96px,#ff572d 99.6px,#ff582d 100px,#ff5a2d 101.5px,#ffb92d 104px,#bfff6d 107.5px,#bfff6d 108px,#c1ff6b 112px,#c1ff6b 113px,#faff32 116px,#fffa2d 116.5px,#ffd82d 120px,#ffcf2d 121px,#ffc72d 124px,#ffc42d 125px,#ffc72d 128px,#ffc82d 130px,#ffcd2d 132px,#ffd52d 135px,#ffe62d 136px,#ffff2d 137.5px,#ccff60 140px,#84ffa8 143.5px,#84ffa8 144px,#83ffa9 148px,#82ffaa 152px,#81ffab 156px,#7effae 160px,#7cffb0 164px,#79ffb3 168px,#77ffb5 172px,#75ffb7 176px,#73ffb9 180px,#71ffbb 184px,#6fffbd 188px,#6dffbf 192px,#6effbe 196px,#6fffbd 200px,#6fffbd 208px,#6effbe 212px,#6dffbf 216px,#6affc2 220px,#67ffc5 224px,#66ffc6 225.5px,#62ffca 228px,#5cffd0 232px,#50ffdc 236px,#4affe2 238px,#47ffe5 240px,#41ffeb 243px,#37fff5 244px,#2dfdff 245.2px,#2df4ff 245.8px,#2df5ff 248px,#2df6ff 250px,#2dfaff 252px,#2ffffd 256px,#39fff3 260px,#3fffed 262px,#43ffe9 264px,#4cffe0 268px,#53ffd9 272px,#59ffd3 275px,#5affd2 276px,#5cffd0 280px,#5dffcf 281px);--b18:linear-gradient(90deg,#e4ff48 0px,#fff72d 4px,#ffe62d 6px,#ffe02d 8px,#ffd52d 12px,#ffcc2d 16px,#ffc42d 20px,#ffbb2d 24px,#ffba2d 24.5px,#ffb42d 28px,#ffad2d 32px,#ffa62d 36px,#ffa52d 37px,#ffa02d 40px,#ff9a2d 44px,#ff942d 48px,#ff932d 49px,#ff8e2d 52px,#ff872d 56px,#ff812d 60px,#ff7f2d 61px,#ff7b2d 64px,#ff752d 68px,#ff702d 72px,#ff6e2d 73.5px,#ff6b2d 76px,#ff652d 80px,#ff602d 84px,#ff5d2d 86px,#ff5b2d 88px,#ff572d 92px,#ff562d 93.4px,#ff572d 96px,#ff592d 99.6px,#ff5a2d 100px,#ff5b2d 101.5px,#ffba2d 104px,#c0ff6c 107.5px,#c0ff6c 108px,#c3ff69 112px,#c4ff68 113px,#feff2e 116px,#fff72d 116.5px,#ffd82d 120px,#ffcf2d 121px,#ffc72d 124px,#ffc42d 125px,#ffc72d 128px,#ffc82d 130px,#ffcd2d 132px,#ffd52d 135px,#ffe62d 136px,#ffff2d 137.5px,#cdff5f 140px,#87ffa5 143.5px,#87ffa5 144px,#86ffa6 148px,#85ffa7 152px,#84ffa8 156px,#81ffab 160px,#7effae 164px,#7bffb1 168px,#78ffb4 172px,#75ffb7 176px,#72ffba 180px,#71ffbb 184px,#70ffbc 188px,#6effbe 192px,#6effbe 196px,#6fffbd 200px,#6fffbd 208px,#6effbe 212px,#6effbe 216px,#6dffbf 220px,#6dffbf 224px,#6cffc0 225.5px,#68ffc4 228px,#62ffca 232px,#55ffd7 236px,#4fffdd 238px,#4affe2 240px,#44ffe8 243px,#3afff2 244px,#2dffff 245.2px,#2df4ff 245.8px,#2df4ff 250px,#2df8ff 252px,#2dffff 256px,#38fff4 260px,#3effee 262px,#43ffe9 264px,#4cffe0 268px,#55ffd7 272px,#5bffd1 275px,#5cffd0 276px,#5dffcf 280px,#5dffcf 281px);--b19:linear-gradient(90deg,#e4ff48 0px,#fff82d 4px,#ffe62d 6px,#ffe12d 8px,#ffd62d 12px,#ffcd2d 16px,#ffc42d 20px,#ffbb2d 24px,#ffba2d 24.5px,#ffb42d 28px,#ffad2d 32px,#ffa62d 36px,#ffa52d 37px,#ffa02d 40px,#ff9a2d 44px,#ff942d 48px,#ff922d 49px,#ff8e2d 52px,#ff892d 56px,#ff832d 60px,#ff822d 61px,#ff7e2d 64px,#ff792d 68px,#ff742d 72px,#ff722d 73.5px,#ff6f2d 76px,#ff6a2d 80px,#ff642d 84px,#ff622d 86px,#ff602d 88px,#ff5e2d 92px,#ff5d2d 93.4px,#ff5e2d 96px,#ff612d 99.6px,#ff612d 100px,#ff622d 101.5px,#ffbc2d 104px,#c4ff68 107.5px,#c4ff68 108px,#c6ff66 112px,#c7ff65 113px,#f9ff33 116px,#fffc2d 116.5px,#ffd82d 120px,#ffce2d 121px,#ffc52d 124px,#ffc22d 125px,#ffc52d 128px,#ffc82d 130px,#ffcd2d 132px,#ffd52d 135px,#ffe62d 136px,#ffff2d 137.5px,#ceff5e 140px,#89ffa3 143.5px,#89ffa3 144px,#88ffa4 148px,#87ffa5 152px,#86ffa6 156px,#83ffa9 160px,#80ffac 164px,#7dffaf 168px,#7affb2 172px,#76ffb6 176px,#73ffb9 180px,#71ffbb 184px,#6effbe 188px,#6cffc0 192px,#6cffc0 216px,#6bffc1 220px,#6affc2 224px,#69ffc3 225.5px,#66ffc6 228px,#60ffcc 232px,#55ffd7 236px,#50ffdc 238px,#4cffe0 240px,#46ffe6 243px,#3afff2 244px,#2dffff 245.2px,#2df1ff 245.8px,#2defff 248px,#2dedff 250px,#2df1ff 252px,#2df8ff 256px,#34fff8 260px,#3cfff0 262px,#42ffea 264px,#4dffdf 268px,#56ffd6 272px,#5cffd0 275px,#5cffd0 276px,#5effce 280px,#5effce 281px);--b20:linear-gradient(90deg,#e4ff48 0px,#fff82d 4px,#ffe72d 6px,#ffe22d 8px,#ffd62d 12px,#ffce2d 16px,#ffc52d 20px,#ffbc2d 24px,#ffbb2d 24.5px,#ffb52d 28px,#ffae2d 32px,#ffa62d 36px,#ffa52d 37px,#ffa02d 40px,#ff9a2d 44px,#ff942d 48px,#ff922d 49px,#ff8f2d 52px,#ff8a2d 56px,#ff862d 60px,#ff852d 61px,#ff812d 64px,#ff7d2d 68px,#ff782d 72px,#ff772d 73.5px,#ff732d 76px,#ff6e2d 80px,#ff682d 84px,#ff662d 86px,#ff652d 88px,#ff642d 92px,#ff632d 93.4px,#ff652d 96px,#ff692d 99.6px,#ff692d 101.5px,#ffbf2d 104px,#c7ff65 107.5px,#c7ff65 108px,#c9ff63 112px,#caff62 113px,#f5ff37 116px,#fcff30 116.5px,#ffd92d 120px,#ffcd2d 121px,#ffc32d 124px,#ffc02d 125px,#ffc42d 128px,#ffc72d 130px,#ffcd2d 132px,#ffd52d 135px,#ffe62d 136px,#ffff2d 137.5px,#ceff5e 140px,#8affa2 143.5px,#8affa2 144px,#89ffa3 148px,#88ffa4 152px,#88ffa4 156px,#85ffa7 160px,#82ffaa 164px,#7fffad 168px,#7bffb1 172px,#78ffb4 176px,#74ffb8 180px,#70ffbc 184px,#6dffbf 188px,#6affc2 192px,#6affc2 196px,#69ffc3 200px,#69ffc3 216px,#68ffc4 220px,#67ffc5 224px,#67ffc5 225.5px,#64ffc8 228px,#5fffcd 232px,#56ffd6 236px,#51ffdb 238px,#4dffdf 240px,#47ffe5 243px,#3bfff1 244px,#2dffff 245.2px,#2dedff 245.8px,#2deaff 248px,#2de6ff 250px,#2deaff 252px,#2df1ff 256px,#31fffb 260px,#3afff2 262px,#40ffec 264px,#4effde 268px,#56ffd6 272px,#5dffcf 275px,#5dffcf 276px,#5effce 280px,#5fffcd 281px);--b21:linear-gradient(90deg,#e4ff48 0px,#fff92d 4px,#ffe82d 6px,#ffe22d 8px,#ffd72d 12px,#ffce2d 16px,#ffc62d 20px,#ffbd2d 24px,#ffbc2d 24.5px,#ffb52d 28px,#ffae2d 32px,#ffa72d 36px,#ffa52d 37px,#ffa02d 40px,#ff9a2d 44px,#ff932d 48px,#ff922d 49px,#ff8f2d 52px,#ff8c2d 56px,#ff882d 60px,#ff872d 61px,#ff842d 64px,#ff802d 68px,#ff7c2d 72px,#ff7b2d 73.5px,#ff772d 76px,#ff722d 80px,#ff6d2d 84px,#ff6a2d 86px,#ff6a2d 93.4px,#ff6d2d 96px,#ff702d 99.6px,#ff702d 101.5px,#ffc22d 104px,#caff62 107.5px,#cbff61 108px,#ccff60 112px,#cdff5f 113px,#f1ff3b 116px,#f7ff35 116.5px,#ffda2d 120px,#ffcd2d 121px,#ffc22d 124px,#ffbe2d 125px,#ffc32d 128px,#ffc62d 130px,#ffcc2d 132px,#ffd52d 135px,#ffe62d 136px,#ffff2d 137.5px,#cfff5d 140px,#8cffa0 143.5px,#8bffa1 144px,#8bffa1 148px,#8affa2 152px,#89ffa3 156px,#87ffa5 160px,#84ffa8 164px,#82ffaa 168px,#7dffaf 172px,#79ffb3 176px,#74ffb8 180px,#70ffbc 184px,#6cffc0 188px,#68ffc4 192px,#67ffc5 196px,#66ffc6 200px,#66ffc6 212px,#67ffc5 216px,#65ffc7 220px,#64ffc8 224px,#64ffc8 225.5px,#61ffcb 228px,#5dffcf 232px,#56ffd6 236px,#53ffd9 238px,#4fffdd 240px,#48ffe4 243px,#3cfff0 244px,#2dffff 245.2px,#2deaff 245.8px,#2de4ff 248px,#2de0ff 250px,#2de3ff 252px,#2deaff 256px,#2dffff 260px,#38fff4 262px,#3fffed 264px,#4fffdd 268px,#57ffd5 272px,#5dffcf 275px,#5effce 276px,#5fffcd 280px,#5fffcd 281px);--b22:linear-gradient(90deg,#e4ff48 0px,#fff92d 4px,#ffe92d 6px,#ffe32d 8px,#ffd92d 12px,#ffd02d 16px,#ffc62d 20px,#ffbd2d 24px,#ffbc2d 24.5px,#ffb52d 28px,#ffae2d 32px,#ffa62d 36px,#ffa42d 37px,#ffa02d 40px,#ff9a2d 44px,#ff952d 48px,#ff932d 49px,#ff912d 52px,#ff8d2d 56px,#ff8a2d 60px,#ff892d 61px,#ff862d 64px,#ff812d 68px,#ff7d2d 72px,#ff7b2d 73.5px,#ff792d 76px,#ff742d 80px,#ff702d 84px,#ff6e2d 86px,#ff6e2d 88px,#ff6f2d 92px,#ff6f2d 93.4px,#ff712d 96px,#ff742d 99.6px,#ff742d 101.5px,#ffc82d 104px,#c0ff6c 107.5px,#c1ff6b 108px,#c5ff67 112px,#c6ff66 113px,#edff3f 116px,#f4ff38 116.5px,#ffda2d 120px,#ffcc2d 121px,#ffc12d 124px,#ffbe2d 125px,#ffc32d 128px,#ffc72d 130px,#ffcd2d 132px,#ffd52d 135px,#ffe62d 136px,#ffff2d 137.5px,#cfff5d 140px,#8cffa0 143.5px,#8bffa1 144px,#8bffa1 148px,#8affa2 152px,#89ffa3 156px,#87ffa5 160px,#84ffa8 164px,#81ffab 168px,#7dffaf 172px,#79ffb3 176px,#74ffb8 180px,#71ffbb 184px,#6effbe 188px,#6bffc1 192px,#6affc2 196px,#69ffc3 200px,#68ffc4 204px,#69ffc3 208px,#6affc2 212px,#6bffc1 216px,#69ffc3 220px,#68ffc4 224px,#67ffc5 225.5px,#65ffc7 228px,#61ffcb 232px,#59ffd3 236px,#56ffd6 238px,#4fffdd 240px,#46ffe6 243px,#39fff3 244px,#2dfcff 245.2px,#2dceff 245.8px,#2dc8ff 248px,#2dc3ff 250px,#2dcaff 252px,#2dd8ff 256px,#2df2ff 260px,#2dffff 262px,#37fff5 264px,#4affe2 268px,#56ffd6 272px,#5fffcd 275px,#5fffcd 276px,#60ffcc 280px,#60ffcc 281px);--b23:linear-gradient(90deg,#e4ff48 0px,#fffa2d 4px,#ffe92d 6px,#ffe52d 8px,#ffdb2d 12px,#ffd12d 16px,#ffc72d 20px,#ffbd2d 24px,#ffbc2d 24.5px,#ffb52d 28px,#ffad2d 32px,#ffa52d 36px,#ffa32d 37px,#ffa02d 40px,#ff9b2d 44px,#ff962d 48px,#ff952d 49px,#ff922d 52px,#ff8e2d 56px,#ff8b2d 60px,#ff8a2d 61px,#ff872d 64px,#ff822d 68px,#ff7e2d 72px,#ff7c2d 73.5px,#ff7a2d 76px,#ff772d 80px,#ff742d 84px,#ff722d 86px,#ff732d 88px,#ff732d 92px,#ff742d 93.4px,#ff752d 96px,#ff772d 99.6px,#ff772d 101.5px,#ffce2d 104px,#b5ff77 107.5px,#b6ff76 108px,#bdff6f 112px,#bfff6d 113px,#eaff42 116px,#f1ff3b 116.5px,#ffda2d 120px,#ffcb2d 121px,#ffc12d 124px,#ffbe2d 125px,#ffc42d 128px,#ffc82d 130px,#ffcd2d 132px,#ffd52d 135px,#ffe62d 136px,#ffff2d 137.5px,#cfff5d 140px,#8cffa0 143.5px,#8bffa1 144px,#8bffa1 148px,#8affa2 152px,#89ffa3 156px,#86ffa6 160px,#83ffa9 164px,#81ffab 168px,#7cffb0 172px,#78ffb4 176px,#74ffb8 180px,#72ffba 184px,#70ffbc 188px,#6dffbf 192px,#6cffc0 196px,#6cffc0 200px,#6bffc1 204px,#6cffc0 208px,#6dffbf 212px,#6effbe 216px,#6dffbf 220px,#6bffc1 224px,#6bffc1 225.5px,#68ffc4 228px,#64ffc8 232px,#5cffd0 236px,#58ffd4 238px,#50ffdc 240px,#44ffe8 243px,#36fff6 244px,#2df8ff 245.2px,#2db2ff 245.8px,#2dacff 248px,#2da8ff 250px,#2db2ff 252px,#2dc7ff 256px,#2de5ff 260px,#2df4ff 262px,#2efffe 264px,#46ffe6 268px,#55ffd7 272px,#60ffcc 275px,#60ffcc 276px,#61ffcb 280px,#61ffcb 281px);--b24:linear-gradient(90deg,#e4ff48 0px,#fffa2d 4px,#ffea2d 6px,#ffe62d 8px,#ffdd2d 12px,#ffd32d 16px,#ffc82d 20px,#ffbd2d 24px,#ffbc2d 24.5px,#ffb52d 28px,#ffad2d 32px,#ffa52d 36px,#ffa32d 37px,#ff9f2d 40px,#ff9b2d 44px,#ff972d 48px,#ff962d 49px,#ff932d 52px,#ff902d 56px,#ff8c2d 60px,#ff8c2d 61px,#ff882d 64px,#ff832d 68px,#ff7f2d 72px,#ff7d2d 73.5px,#ff7c2d 76px,#ff7a2d 80px,#ff782d 84px,#ff772d 86px,#ff772d 88px,#ff782d 92px,#ff792d 93.4px,#ff792d 96px,#ff7b2d 99.6px,#ff7b2d 101.5px,#ffd52d 104px,#abff81 107.5px,#acff80 108px,#b5ff77 112px,#b8ff74 113px,#e6ff46 116px,#eeff3e 116.5px,#ffda2d 120px,#ffca2d 121px,#ffc12d 124px,#ffbe2d 125px,#ffc42d 128px,#ffc82d 130px,#ffcd2d 132px,#ffd52d 135px,#ffe62d 136px,#ffff2d 137.5px,#cfff5d 140px,#8cffa0 143.5px,#8bffa1 144px,#8bffa1 148px,#8affa2 152px,#89ffa3 156px,#86ffa6 160px,#83ffa9 164px,#80ffac 168px,#7cffb0 172px,#78ffb4 176px,#74ffb8 180px,#73ffb9 184px,#72ffba 188px,#70ffbc 192px,#6fffbd 196px,#6effbe 200px,#6dffbf 204px,#6fffbd 208px,#71ffbb 212px,#72ffba 216px,#71ffbb 220px,#6fffbd 224px,#6effbe 225.5px,#6cffc0 228px,#68ffc4 232px,#5fffcd 236px,#5bffd1 238px,#51ffdb 240px,#42ffea 243px,#34fff8 244px,#2df4ff 245.2px,#2d96ff 245.8px,#2d90ff 248px,#2d8cff 250px,#2d9aff 252px,#2db5ff 256px,#2dd8ff 260px,#2deaff 262px,#2df8ff 264px,#42ffea 268px,#54ffd8 272px,#62ffca 275px,#62ffca 281px);--b25:linear-gradient(90deg,#e4ff48 0px,#fffb2d 4px,#ffeb2d 6px,#ffe72d 8px,#ffdf2d 12px,#ffd52d 16px,#ffcc2d 20px,#ffc32d 24px,#ffc12d 24.5px,#ffbb2d 28px,#ffb32d 32px,#ffac2d 36px,#ffaa2d 37px,#ffa62d 40px,#ffa12d 44px,#ff9d2d 48px,#ff9c2d 49px,#ff982d 52px,#ff942d 56px,#ff902d 60px,#ff8f2d 61px,#ff8b2d 64px,#ff862d 68px,#ff812d 72px,#ff802d 73.5px,#ff7e2d 76px,#ff7c2d 80px,#ff792d 84px,#ff782d 86px,#ff782d 88px,#ff7a2d 92px,#ff7a2d 93.4px,#ff7b2d 96px,#ff7c2d 99.6px,#ff7c2d 100px,#ff7d2d 101.5px,#ffdf2d 104px,#96ff96 107.5px,#97ff95 108px,#a3ff89 112px,#a5ff87 113px,#ddff4f 116px,#e6ff46 116.5px,#ffe02d 120px,#ffcf2d 121px,#ffc52d 124px,#ffc22d 125px,#ffc72d 128px,#ffca2d 130px,#ffcf2d 132px,#ffd62d 135px,#ffe72d 136px,#ffff2d 137.5px,#cfff5d 140px,#8bffa1 143.5px,#8bffa1 144px,#8affa2 148px,#89ffa3 152px,#88ffa4 156px,#85ffa7 160px,#82ffaa 164px,#7effae 168px,#7bffb1 172px,#77ffb5 176px,#74ffb8 180px,#73ffb9 184px,#71ffbb 188px,#70ffbc 192px,#6fffbd 196px,#6fffbd 200px,#6effbe 204px,#6fffbd 208px,#71ffbb 212px,#72ffba 216px,#71ffbb 220px,#70ffbc 224px,#70ffbc 225.5px,#6dffbf 228px,#6affc2 232px,#62ffca 236px,#5dffcf 238px,#51ffdb 240px,#3fffed 243px,#2ffffd 244px,#2dedff 245.2px,#2d88ff 245.8px,#2d83ff 248px,#2d7eff 250px,#2d8dff 252px,#2dabff 256px,#2dd0ff 260px,#2de3ff 262px,#2df2ff 264px,#3fffed 268px,#52ffda 272px,#62ffca 275px,#62ffca 276px,#63ffc9 280px,#63ffc9 281px);--b26:linear-gradient(90deg,#e4ff48 0px,#fffb2d 4px,#ffeb2d 6px,#ffe82d 8px,#ffe02d 12px,#ffd82d 16px,#ffd02d 20px,#ffc82d 24px,#ffc72d 24.5px,#ffc12d 28px,#ffba2d 32px,#ffb22d 36px,#ffb12d 37px,#ffad2d 40px,#ffa82d 44px,#ffa22d 48px,#ffa12d 49px,#ff9d2d 52px,#ff982d 56px,#ff932d 60px,#ff922d 61px,#ff8e2d 64px,#ff892d 68px,#ff842d 72px,#ff822d 73.5px,#ff812d 76px,#ff7e2d 80px,#ff7b2d 84px,#ff792d 86px,#ff7a2d 88px,#ff7b2d 92px,#ff7b2d 93.4px,#ff7c2d 96px,#ff7e2d 99.6px,#ff7e2d 100px,#ff7f2d 101.5px,#ffe92d 104px,#81ffab 107.5px,#83ffa9 108px,#90ff9c 112px,#93ff99 113px,#d3ff59 116px,#ddff4f 116.5px,#ffe52d 120px,#ffd42d 121px,#ffca2d 124px,#ffc62d 125px,#ffca2d 128px,#ffcd2d 130px,#ffd12d 132px,#ffd82d 135px,#ffe72d 136px,#ffff2d 137.5px,#ceff5e 140px,#8affa2 143.5px,#8affa2 144px,#89ffa3 148px,#88ffa4 152px,#87ffa5 156px,#84ffa8 160px,#80ffac 164px,#7cffb0 168px,#79ffb3 172px,#76ffb6 176px,#73ffb9 180px,#72ffba 184px,#71ffbb 188px,#70ffbc 192px,#70ffbc 196px,#6fffbd 200px,#6effbe 204px,#70ffbc 208px,#71ffbb 212px,#72ffba 216px,#72ffba 220px,#71ffbb 224px,#71ffbb 225.5px,#6fffbd 228px,#6cffc0 232px,#64ffc8 236px,#5fffcd 238px,#51ffdb 240px,#3bfff1 243px,#2dfbff 244px,#2de6ff 245.2px,#2d7aff 245.8px,#2d75ff 248px,#2d70ff 250px,#2d80ff 252px,#2da0ff 256px,#2dc8ff 260px,#2ddcff 262px,#2decff 264px,#3bfff1 268px,#51ffdb 272px,#62ffca 275px,#62ffca 276px,#64ffc8 280px,#64ffc8 281px);--b27:linear-gradient(90deg,#e4ff48 0px,#fffc2d 4px,#ffec2d 6px,#ffe92d 8px,#ffe22d 12px,#ffdb2d 16px,#ffd42d 20px,#ffcd2d 24px,#ffcd2d 24.5px,#ffc72d 28px,#ffc02d 32px,#ffb92d 36px,#ffb82d 37px,#ffb32d 40px,#ffae2d 44px,#ffa82d 48px,#ffa72d 49px,#ffa22d 52px,#ff9c2d 56px,#ff962d 60px,#ff952d 61px,#ff912d 64px,#ff8c2d 68px,#ff872d 72px,#ff852d 73.5px,#ff832d 76px,#ff802d 80px,#ff7c2d 84px,#ff7b2d 86px,#ff7b2d 88px,#ff7c2d 92px,#ff7d2d 93.4px,#ff7e2d 96px,#ff7f2d 99.6px,#ff7f2d 100px,#ff812d 101.5px,#fff32d 104px,#6cffc0 107.5px,#6effbe 108px,#7dffaf 112px,#81ffab 113px,#c9ff63 116px,#d5ff57 116.5px,#ffeb2d 120px,#ffd92d 121px,#ffce2d 124px,#ffca2d 125px,#ffcd2d 128px,#ffcf2d 130px,#ffd32d 132px,#ffd92d 135px,#ffe82d 136px,#ffff2d 137.5px,#ceff5e 140px,#89ffa3 143.5px,#89ffa3 144px,#88ffa4 148px,#87ffa5 152px,#86ffa6 156px,#82ffaa 160px,#7fffad 164px,#7bffb1 168px,#78ffb4 172px,#75ffb7 176px,#72ffba 180px,#72ffba 184px,#71ffbb 188px,#70ffbc 192px,#70ffbc 196px,#6fffbd 200px,#6fffbd 204px,#70ffbc 208px,#71ffbb 212px,#72ffba 216px,#72ffba 225.5px,#71ffbb 228px,#6effbe 232px,#66ffc6 236px,#62ffca 238px,#51ffdb 240px,#38fff4 243px,#2df6ff 244px,#2de0ff 245.2px,#2d6cff 245.8px,#2d67ff 248px,#2d62ff 250px,#2d73ff 252px,#2d96ff 256px,#2dc0ff 260px,#2dd5ff 262px,#2de6ff 264px,#38fff4 268px,#4fffdd 272px,#62ffca 275px,#62ffca 276px,#65ffc7 280px,#66ffc6 281px);--b28:linear-gradient(90deg,#e4ff48 0px,#fffb2d 4px,#ffeb2d 6px,#ffe72d 8px,#ffdf2d 12px,#ffd82d 16px,#ffd12d 20px,#ffcb2d 24px,#ffca2d 24.5px,#ffc52d 28px,#ffbe2d 32px,#ffb82d 36px,#ffb72d 37px,#ffb42d 40px,#ffaf2d 44px,#ffab2d 48px,#ffaa2d 49px,#ffa52d 52px,#ffa02d 56px,#ff9a2d 60px,#ff992d 61px,#ff962d 64px,#ff912d 68px,#ff8d2d 72px,#ff8b2d 73.5px,#ff8a2d 76px,#ff872d 80px,#ff842d 84px,#ff832d 86px,#ff832d 88px,#ff842d 92px,#ff842d 96px,#ff852d 99.6px,#ff852d 100px,#ff872d 101.5px,#fff72d 104px,#68ffc4 107.5px,#6affc2 108px,#7affb2 112px,#7effae 113px,#c5ff67 116px,#d1ff5b 116.5px,#ffef2d 120px,#ffdd2d 121px,#ffd32d 124px,#ffcf2d 125px,#ffd22d 128px,#ffd32d 130px,#ffd62d 132px,#ffdb2d 135px,#ffea2d 136px,#feff2e 137.5px,#cdff5f 140px,#89ffa3 143.5px,#89ffa3 144px,#88ffa4 148px,#87ffa5 152px,#86ffa6 156px,#82ffaa 160px,#7effae 164px,#7affb2 168px,#77ffb5 172px,#74ffb8 176px,#71ffbb 180px,#70ffbc 184px,#6fffbd 188px,#6dffbf 192px,#6dffbf 204px,#6effbe 208px,#6fffbd 212px,#70ffbc 216px,#70ffbc 220px,#71ffbb 224px,#72ffba 225.5px,#71ffbb 228px,#70ffbc 232px,#68ffc4 236px,#65ffc7 238px,#53ffd9 240px,#38fff4 243px,#2df6ff 244px,#2de0ff 245.2px,#2d68ff 245.8px,#2d63ff 248px,#2d5eff 250px,#2d70ff 252px,#2d92ff 256px,#2dbcff 260px,#2dd2ff 262px,#2de4ff 264px,#38fff4 268px,#50ffdc 272px,#63ffc9 275px,#64ffc8 276px,#68ffc4 280px,#68ffc4 281px);--b29:linear-gradient(90deg,#e4ff48 0px,#fffb2d 4px,#ffeb2d 6px,#ffe62d 8px,#ffdc2d 12px,#ffd52d 16px,#ffcf2d 20px,#ffc82d 24px,#ffc72d 24.5px,#ffc22d 28px,#ffbd2d 32px,#ffb82d 36px,#ffb62d 37px,#ffb42d 40px,#ffb02d 44px,#ffad2d 48px,#ffac2d 49px,#ffa82d 52px,#ffa32d 56px,#ff9e2d 60px,#ff9d2d 61px,#ff9a2d 64px,#ff962d 68px,#ff922d 72px,#ff912d 73.5px,#ff902d 76px,#ff8e2d 80px,#ff8c2d 84px,#ff8c2d 86px,#ff8b2d 88px,#ff8b2d 96px,#ff8c2d 99.6px,#ff8c2d 101.5px,#fffc2d 104px,#65ffc7 107.5px,#67ffc5 108px,#76ffb6 112px,#7affb2 113px,#c2ff6a 116px,#ceff5e 116.5px,#fff32d 120px,#ffe22d 121px,#ffd82d 124px,#ffd42d 125px,#ffd62d 128px,#ffd72d 130px,#ffda2d 132px,#ffdd2d 135px,#ffec2d 136px,#fcff30 137.5px,#ccff60 140px,#88ffa4 143.5px,#88ffa4 144px,#87ffa5 148px,#86ffa6 152px,#86ffa6 156px,#81ffab 160px,#7dffaf 164px,#79ffb3 168px,#76ffb6 172px,#73ffb9 176px,#70ffbc 180px,#6effbe 184px,#6cffc0 188px,#6bffc1 192px,#6affc2 196px,#6affc2 204px,#6bffc1 208px,#6cffc0 212px,#6dffbf 216px,#6effbe 220px,#70ffbc 224px,#71ffbb 225.5px,#71ffbb 232px,#6bffc1 236px,#68ffc4 238px,#55ffd7 240px,#38fff4 243px,#2df6ff 244px,#2de0ff 245.2px,#2d65ff 245.8px,#2d60ff 248px,#2d5bff 250px,#2d6cff 252px,#2d8fff 256px,#2db9ff 260px,#2dceff 262px,#2de2ff 264px,#38fff4 268px,#51ffdb 272px,#64ffc8 275px,#65ffc7 276px,#6affc2 280px,#6bffc1 281px);--b30:linear-gradient(90deg,#e4ff48 0px,#fffa2d 4px,#ffea2d 6px,#ffe42d 8px,#ffd92d 12px,#ffd22d 16px,#ffcc2d 20px,#ffc52d 24px,#ffc42d 24.5px,#ffc02d 28px,#ffbb2d 32px,#ffb72d 36px,#ffb52d 37px,#ffb42d 40px,#ffb22d 44px,#ffb02d 48px,#ffaf2d 49px,#ffac2d 52px,#ffa72d 56px,#ffa22d 60px,#ffa02d 61px,#ff9e2d 64px,#ff9b2d 68px,#ff982d 72px,#ff972d 73.5px,#ff962d 76px,#ff952d 80px,#ff942d 84px,#ff942d 86px,#ff932d 88px,#ff922d 92px,#ff922d 101.5px,#fdff2f 104px,#62ffca 107.5px,#63ffc9 108px,#73ffb9 112px,#77ffb5 113px,#beff6e 116px,#caff62 116.5px,#fff72d 120px,#ffe62d 121px,#ffdc2d 124px,#ffd92d 125px,#ffda2d 128px,#ffdb2d 130px,#ffdd2d 132px,#ffe02d 135px,#ffee2d 136px,#fbff31 137.5px,#cbff61 140px,#87ffa5 143.5px,#87ffa5 148px,#86ffa6 152px,#85ffa7 156px,#81ffab 160px,#7dffaf 164px,#79ffb3 168px,#75ffb7 172px,#72ffba 176px,#6effbe 180px,#6cffc0 184px,#6affc2 188px,#68ffc4 192px,#68ffc4 208px,#69ffc3 212px,#6affc2 216px,#6dffbf 220px,#6fffbd 224px,#70ffbc 225.5px,#71ffbb 228px,#72ffba 232px,#6effbe 236px,#6cffc0 238px,#57ffd5 240px,#38fff4 243px,#2df6ff 244px,#2de0ff 245.2px,#2d62ff 245.8px,#2d5cff 248px,#2d57ff 250px,#2d68ff 252px,#2d8cff 256px,#2db5ff 260px,#2dcaff 262px,#2de0ff 264px,#38fff4 268px,#52ffda 272px,#66ffc6 275px,#67ffc5 276px,#6dffbf 280px,#6effbe 281px);--b31:linear-gradient(90deg,#e4ff48 0px,#fff92d 4px,#ffe82d 6px,#ffe22d 8px,#ffd62d 12px,#ffcf2d 16px,#ffc72d 20px,#ffc02d 24px,#ffbf2d 24.5px,#ffbb2d 28px,#ffb72d 32px,#ffb22d 36px,#ffb12d 37px,#ffaf2d 40px,#ffac2d 44px,#ffa92d 48px,#ffa82d 49px,#ffa52d 52px,#ffa12d 56px,#ff9e2d 60px,#ff9d2d 61px,#ff9b2d 64px,#ff992d 68px,#ff962d 72px,#ff952d 73.5px,#ff952d 76px,#ff962d 80px,#ff962d 88px,#ff952d 92px,#ff952d 101.5px,#fffb2d 104px,#73ffb9 107.5px,#75ffb7 108px,#84ffa8 112px,#88ffa4 113px,#c7ff65 116px,#d1ff5b 116.5px,#fff72d 120px,#ffe72d 121px,#ffdf2d 124px,#ffdd2d 125px,#ffde2d 128px,#ffde2d 130px,#ffe02d 132px,#ffe22d 135px,#fff02d 136px,#f9ff33 137.5px,#c9ff63 140px,#84ffa8 143.5px,#84ffa8 148px,#83ffa9 152px,#82ffaa 156px,#7effae 160px,#79ffb3 164px,#75ffb7 168px,#73ffb9 172px,#71ffbb 176px,#6effbe 180px,#6cffc0 184px,#6affc2 188px,#67ffc5 192px,#67ffc5 204px,#68ffc4 208px,#69ffc3 212px,#6bffc1 216px,#6dffbf 220px,#6fffbd 224px,#70ffbc 225.5px,#73ffb9 228px,#78ffb4 232px,#70ffbc 236px,#6cffc0 238px,#58ffd4 240px,#3afff2 243px,#2df9ff 244px,#2de3ff 245.2px,#2d68ff 245.8px,#2d63ff 248px,#2d5eff 250px,#2d6eff 252px,#2d8fff 256px,#2db9ff 260px,#2dceff 262px,#2de2ff 264px,#38fff4 268px,#51ffdb 272px,#64ffc8 275px,#66ffc6 276px,#6bffc1 280px,#6cffc0 281px);--b32:linear-gradient(90deg,#e4ff48 0px,#fff72d 4px,#ffe62d 6px,#ffdf2d 8px,#ffd22d 12px,#ffcb2d 16px,#ffc32d 20px,#ffbb2d 24px,#ffba2d 24.5px,#ffb72d 28px,#ffb22d 32px,#ffae2d 36px,#ffad2d 37px,#ffaa2d 40px,#ffa62d 44px,#ffa22d 48px,#ffa12d 49px,#ff9f2d 52px,#ff9c2d 56px,#ff9a2d 60px,#ff992d 61px,#ff982d 64px,#ff962d 68px,#ff942d 72px,#ff942d 76px,#ff962d 80px,#ff972d 84px,#ff982d 86px,#ff982d 92px,#ff972d 93.4px,#ff972d 101.5px,#fff62d 104px,#84ffa8 107.5px,#86ffa6 108px,#96ff96 112px,#9aff92 113px,#cfff5d 116px,#d9ff53 116.5px,#fff62d 120px,#ffe92d 121px,#ffe22d 124px,#ffe02d 125px,#ffe12d 128px,#ffe12d 130px,#ffe22d 132px,#ffe42d 135px,#fff12d 136px,#f8ff34 137.5px,#c7ff65 140px,#82ffaa 143.5px,#82ffaa 144px,#81ffab 148px,#80ffac 152px,#80ffac 156px,#7bffb1 160px,#76ffb6 164px,#71ffbb 168px,#70ffbc 172px,#70ffbc 176px,#6fffbd 180px,#6cffc0 184px,#69ffc3 188px,#66ffc6 192px,#66ffc6 204px,#68ffc4 208px,#6affc2 212px,#6bffc1 216px,#6dffbf 220px,#6fffbd 224px,#6fffbd 225.5px,#75ffb7 228px,#7effae 232px,#72ffba 236px,#6dffbf 238px,#59ffd3 240px,#3cfff0 243px,#2dfcff 244px,#2de6ff 245.2px,#2d70ff 245.8px,#2d6aff 248px,#2d65ff 250px,#2d74ff 252px,#2d92ff 256px,#2dbcff 260px,#2dd2ff 262px,#2de4ff 264px,#38fff4 268px,#50ffdc 272px,#63ffc9 275px,#64ffc8 276px,#69ffc3 280px,#6affc2 281px);--b33:linear-gradient(90deg,#e4ff48 0px,#fff62d 4px,#ffe42d 6px,#ffdd2d 8px,#ffcf2d 12px,#ffc72d 16px,#ffbf2d 20px,#ffb72d 24px,#ffb52d 24.5px,#ffb22d 28px,#ffae2d 32px,#ffaa2d 36px,#ffa92d 37px,#ffa52d 40px,#ffa02d 44px,#ff9b2d 48px,#ff9a2d 49px,#ff992d 52px,#ff972d 56px,#ff952d 60px,#ff952d 61px,#ff942d 64px,#ff932d 68px,#ff922d 72px,#ff922d 73.5px,#ff932d 76px,#ff962d 80px,#ff992d 84px,#ff9a2d 86px,#ff9a2d 101.5px,#fff02d 104px,#96ff96 107.5px,#98ff94 108px,#a7ff85 112px,#abff81 113px,#d8ff54 116px,#e0ff4c 116.5px,#fff62d 120px,#ffea2d 121px,#ffe52d 124px,#ffe42d 125px,#ffe42d 130px,#ffe52d 132px,#ffe62d 135px,#fff32d 136px,#f7ff35 137.5px,#c5ff67 140px,#7fffad 143.5px,#7fffad 144px,#7effae 148px,#7dffaf 152px,#7dffaf 156px,#78ffb4 160px,#72ffba 164px,#6dffbf 168px,#6effbe 172px,#6effbe 176px,#6fffbd 180px,#6cffc0 184px,#69ffc3 188px,#66ffc6 192px,#66ffc6 204px,#68ffc4 208px,#6affc2 212px,#6cffc0 216px,#6dffbf 220px,#6fffbd 224px,#6fffbd 225.5px,#77ffb5 228px,#83ffa9 232px,#74ffb8 236px,#6dffbf 238px,#5affd2 240px,#3effee 243px,#2dffff 244px,#2deaff 245.2px,#2d77ff 245.8px,#2d71ff 248px,#2d6cff 250px,#2d7aff 252px,#2d96ff 256px,#2dc0ff 260px,#2dd5ff 262px,#2de6ff 264px,#38fff4 268px,#4fffdd 272px,#62ffca 275px,#63ffc9 276px,#67ffc5 280px,#68ffc4 281px);--b34:linear-gradient(90deg,#e4ff48 0px,#fff52d 4px,#ffe22d 6px,#ffdb2d 8px,#ffcd2d 12px,#ffc42d 16px,#ffbc2d 20px,#ffb42d 24px,#ffb32d 24.5px,#ffae2d 28px,#ffa92d 32px,#ffa42d 36px,#ffa32d 37px,#ff9f2d 40px,#ff9a2d 44px,#ff942d 48px,#ff932d 49px,#ff912d 52px,#ff8f2d 56px,#ff8d2d 60px,#ff8c2d 61px,#ff8c2d 64px,#ff8b2d 68px,#ff8a2d 72px,#ff892d 73.5px,#ff8b2d 76px,#ff8d2d 80px,#ff902d 84px,#ff912d 86px,#ff922d 88px,#ff942d 92px,#ff952d 93.4px,#ff952d 96px,#ff972d 99.6px,#ff972d 101.5px,#ffe82d 104px,#a4ff88 107.5px,#a6ff86 108px,#b2ff7a 112px,#b5ff77 113px,#e0ff4c 116px,#e6ff46 116.5px,#fff42d 120px,#ffea2d 121px,#ffe62d 124px,#ffe42d 125px,#ffe42d 130px,#ffe62d 132px,#ffe72d 135px,#fff42d 136px,#f6ff36 137.5px,#c4ff68 140px,#7effae 143.5px,#7effae 144px,#7dffaf 148px,#7dffaf 152px,#7cffb0 156px,#76ffb6 160px,#70ffbc 164px,#6affc2 168px,#6cffc0 172px,#6dffbf 176px,#6fffbd 180px,#6cffc0 184px,#69ffc3 188px,#66ffc6 192px,#66ffc6 204px,#67ffc5 208px,#68ffc4 212px,#6affc2 216px,#6bffc1 220px,#6cffc0 224px,#6dffbf 225.5px,#72ffba 228px,#7affb2 232px,#6fffbd 236px,#6affc2 238px,#5affd2 240px,#41ffeb 243px,#32fffa 244px,#2df1ff 245.2px,#2d8fff 245.8px,#2d8aff 248px,#2d84ff 250px,#2d90ff 252px,#2da8ff 256px,#2dcdff 260px,#2de0ff 262px,#2defff 264px,#3bfff1 268px,#50ffdc 272px,#60ffcc 275px,#61ffcb 276px,#65ffc7 280px,#66ffc6 281px);--b35:linear-gradient(90deg,#e4ff48 0px,#fff32d 4px,#ffe02d 6px,#ffd92d 8px,#ffca2d 12px,#ffc22d 16px,#ffb92d 20px,#ffb12d 24px,#ffb02d 24.5px,#ffaa2d 28px,#ffa42d 32px,#ff9e2d 36px,#ff9c2d 37px,#ff982d 40px,#ff932d 44px,#ff8e2d 48px,#ff8c2d 49px,#ff8a2d 52px,#ff872d 56px,#ff842d 60px,#ff832d 61px,#ff832d 64px,#ff822d 68px,#ff812d 72px,#ff812d 73.5px,#ff822d 76px,#ff852d 80px,#ff872d 84px,#ff882d 86px,#ff8a2d 88px,#ff8e2d 92px,#ff8f2d 93.4px,#ff912d 96px,#ff932d 99.6px,#ff932d 100px,#ff952d 101.5px,#ffe12d 104px,#b2ff7a 107.5px,#b3ff79 108px,#bdff6f 112px,#c0ff6c 113px,#e7ff45 116px,#eeff3e 116.5px,#fff32d 120px,#ffea2d 121px,#ffe62d 124px,#ffe52d 125px,#ffe52d 130px,#ffe62d 132px,#ffe92d 135px,#fff52d 136px,#f5ff37 137.5px,#c3ff69 140px,#7effae 143.5px,#7dffaf 144px,#7dffaf 148px,#7cffb0 152px,#7bffb1 156px,#75ffb7 160px,#6effbe 164px,#67ffc5 168px,#69ffc3 172px,#6cffc0 176px,#6effbe 180px,#6cffc0 184px,#69ffc3 188px,#66ffc6 192px,#66ffc6 208px,#67ffc5 212px,#68ffc4 216px,#69ffc3 220px,#6affc2 224px,#6affc2 225.5px,#6dffbf 228px,#71ffbb 232px,#6affc2 236px,#67ffc5 238px,#59ffd3 240px,#45ffe7 243px,#37fff5 244px,#2df8ff 245.2px,#2da8ff 245.8px,#2da2ff 248px,#2d9dff 250px,#2da6ff 252px,#2db9ff 256px,#2ddaff 260px,#2deaff 262px,#2df7ff 264px,#3fffed 268px,#51ffdb 272px,#5fffcd 275px,#60ffcc 276px,#63ffc9 280px,#64ffc8 281px);--b36:linear-gradient(90deg,#e4ff48 0px,#fff22d 4px,#ffdd2d 6px,#ffd62d 8px,#ffc82d 12px,#ffc02d 16px,#ffb72d 20px,#ffae2d 24px,#ffad2d 24.5px,#ffa72d 28px,#ff9f2d 32px,#ff982d 36px,#ff962d 37px,#ff922d 40px,#ff8c2d 44px,#ff872d 48px,#ff852d 49px,#ff832d 52px,#ff7f2d 56px,#ff7c2d 60px,#ff7b2d 61px,#ff7a2d 64px,#ff7a2d 68px,#ff792d 72px,#ff792d 73.5px,#ff7a2d 76px,#ff7c2d 80px,#ff7e2d 84px,#ff7f2d 86px,#ff822d 88px,#ff872d 92px,#ff892d 93.4px,#ff8c2d 96px,#ff902d 99.6px,#ff902d 100px,#ff922d 101.5px,#ffda2d 104px,#c0ff6c 107.5px,#c1ff6b 108px,#c9ff63 112px,#caff62 113px,#efff3d 116px,#f5ff37 116.5px,#fff12d 120px,#ffea2d 121px,#ffe72d 124px,#ffe62d 125px,#ffe62d 130px,#ffe72d 132px,#ffea2d 135px,#fff72d 136px,#f5ff37 137.5px,#c3ff69 140px,#7dffaf 143.5px,#7dffaf 144px,#7cffb0 148px,#7bffb1 152px,#7bffb1 156px,#73ffb9 160px,#6bffc1 164px,#64ffc8 168px,#67ffc5 172px,#6bffc1 176px,#6effbe 180px,#6bffc1 184px,#68ffc4 188px,#66ffc6 192px,#66ffc6 216px,#67ffc5 220px,#67ffc5 224px,#68ffc4 225.5px,#68ffc4 232px,#65ffc7 236px,#64ffc8 238px,#59ffd3 240px,#48ffe4 243px,#3cfff0 244px,#2dffff 245.2px,#2dc0ff 245.8px,#2dbaff 248px,#2db5ff 250px,#2dbcff 252px,#2dcaff 256px,#2de6ff 260px,#2df4ff 262px,#2dffff 264px,#42ffea 268px,#52ffda 272px,#5dffcf 275px,#5effce 276px,#61ffcb 280px,#62ffca 281px);"><i style="top:0px;height:5px;background:var(--b0)"></i><i class="m" style="top:0px;height:5px;background:var(--b1)"></i><i style="top:5px;height:4px;background:var(--b1)"></i><i class="m" style="top:5px;height:4px;background:var(--b2)"></i><i style="top:9px;height:1px;background:var(--b2)"></i><i class="m" style="top:9px;height:1px;background:var(--b3)"></i><i style="top:10px;height:5px;background:var(--b3)"></i><i class="m" style="top:10px;height:5px;background:var(--b4)"></i><i style="top:15px;height:5px;background:var(--b4)"></i><i class="m" style="top:15px;height:5px;background:var(--b5)"></i><i style="top:20px;height:5px;background:var(--b5)"></i><i class="m" style="top:20px;height:5px;background:var(--b6)"></i><i style="top:25px;height:5px;background:var(--b6)"></i><i class="m" style="top:25px;height:5px;background:var(--b7)"></i><i style="top:30px;height:3px;background:var(--b7)"></i><i class="m" style="top:30px;height:3px;background:var(--b8)"></i><i style="top:33px;height:2px;background:var(--b8)"></i><i class="m" style="top:33px;height:2px;background:var(--b9)"></i><i style="top:35px;height:4px;background:var(--b9)"></i><i class="m" style="top:35px;height:4px;background:var(--b10)"></i><i style="top:39px;height:1px;background:var(--b10)"></i><i class="m" style="top:39px;height:1px;background:var(--b11)"></i><i style="top:40px;height:5px;background:var(--b11)"></i><i class="m" style="top:40px;height:5px;background:var(--b12)"></i><i style="top:45px;height:5px;background:var(--b12)"></i><i class="m" style="top:45px;height:5px;background:var(--b13)"></i><i style="top:50px;height:5px;background:var(--b13)"></i><i class="m" style="top:50px;height:5px;background:var(--b14)"></i><i style="top:55px;height:5px;background:var(--b14)"></i><i class="m" style="top:55px;height:5px;background:var(--b15)"></i><i style="top:60px;height:5px;background:var(--b15)"></i><i class="m" style="top:60px;height:5px;background:var(--b16)"></i><i style="top:65px;height:5px;background:var(--b16)"></i><i class="m" style="top:65px;height:5px;background:var(--b17)"></i><i style="top:70px;height:5px;background:var(--b17)"></i><i class="m" style="top:70px;height:5px;background:var(--b18)"></i><i style="top:75px;height:5px;background:var(--b18)"></i><i class="m" style="top:75px;height:5px;background:var(--b19)"></i><i style="top:80px;height:5px;background:var(--b19)"></i><i class="m" style="top:80px;height:5px;background:var(--b20)"></i><i style="top:85px;height:5px;background:var(--b20)"></i><i class="m" style="top:85px;height:5px;background:var(--b21)"></i><i style="top:90px;height:5px;background:var(--b21)"></i><i class="m" style="top:90px;height:5px;background:var(--b22)"></i><i style="top:95px;height:5px;background:var(--b22)"></i><i class="m" style="top:95px;height:5px;background:var(--b23)"></i><i style="top:100px;height:5px;background:var(--b23)"></i><i class="m" style="top:100px;height:5px;background:var(--b24)"></i><i style="top:105px;height:5px;background:var(--b24)"></i><i class="m" style="top:105px;height:5px;background:var(--b25)"></i><i style="top:110px;height:5px;background:var(--b25)"></i><i class="m" style="top:110px;height:5px;background:var(--b26)"></i><i style="top:115px;height:5px;background:var(--b26)"></i><i class="m" style="top:115px;height:5px;background:var(--b27)"></i><i style="top:120px;height:5px;background:var(--b27)"></i><i class="m" style="top:120px;height:5px;background:var(--b28)"></i><i style="top:125px;height:5px;background:var(--b28)"></i><i class="m" style="top:125px;height:5px;background:var(--b29)"></i><i style="top:130px;height:5px;background:var(--b29)"></i><i class="m" style="top:130px;height:5px;background:var(--b30)"></i><i style="top:135px;height:5px;background:var(--b30)"></i><i class="m" style="top:135px;height:5px;background:var(--b31)"></i><i style="top:140px;height:5px;background:var(--b31)"></i><i class="m" style="top:140px;height:5px;background:var(--b32)"></i><i style="top:145px;height:5px;background:var(--b32)"></i><i class="m" style="top:145px;height:5px;background:var(--b33)"></i><i style="top:150px;height:5px;background:var(--b33)"></i><i class="m" style="top:150px;height:5px;background:var(--b34)"></i><i style="top:155px;height:5px;background:var(--b34)"></i><i class="m" style="top:155px;height:5px;background:var(--b35)"></i><i style="top:160px;height:5px;background:var(--b35)"></i><i class="m" style="top:160px;height:5px;background:var(--b36)"></i><svg width="281" height="165" viewBox="0 0 281 165"><path d="M231.8 0 232 0.2 232.1 0M231.7 0 232 0.4 232.3 0M231.5 0 232 0.7 232.5 0M231.4 0 232 0.9 232.6 0M231.2 0 232 1.1 232.8 0M231 0 232 1.3 232.9 0M230.9 0 232 1.6 233 0M230.7 0 232 1.8 233.2 0M230.6 0 232 2 233.4 0M230.4 0 232 2.2 233.5 0M230.3 0 232 2.4 233.6 0M230.1 0 232 2.7 233.8 0M229.9 0 232 2.9 234 0M229.8 0 232 3.1 234.1 0M229.6 0 232 3.3 234.2 0M229.5 0 232 3.6 234.4 0M229.3 0 232 3.8 234.5 0M229.1 0 232 4 234.7 0M229 0 232 4.2 234.9 0M228.8 0 232 4.4 235 0M228.7 0 232 4.7 235.1 0M228.5 0 232 4.9 235.3 0M228.4 0 232 5.1 235.4 0M228.2 0 232 5.3 235.6 0M228 0 232 5.6 235.8 0M227.9 0 232 5.8 235.9 0M227.7 0 232 6 236.1 0M227.6 0 232 6.2 236.2 0M227.4 0 232 6.4 236.3 0M227.2 0 232 6.7 236.5 0M227.1 0 232 6.9 236.7 0M226.9 0 232 7.1 236.8 0M226.8 0 232 7.3 236.9 0M226.6 0 232 7.6 237.1 0M226.5 0 232 7.8 237.2 0M226.3 0 232 8 237.4 0M226.1 0 232 8.2 237.6 0M226 0 232 8.4 237.7 0M250 135 250 135 250 135 250 135 250 135ZM225.8 0 232 8.7 237.8 0M245.8 120 245.8 120 245.8 135 245.8 142.5 250 150 250 150 250 150 252.4 135 251.2 120 250 116.2 245.8 120ZM225.7 0 232 8.9 238 0 238 0M245.8 112.5 245.7 120 245.7 135 245.7 150 245.8 152.1 250 154.3 253 150 254.8 135 253.6 120 250 108.8 245.8 112.5ZM225.5 0 225.5 0 231.1 9 232 11 233 9 238 2.6 240 0M245.8 105 245.8 105 245.6 120 245.6 135 245.6 150 245.8 156.4 250 158.6 256 150 256 150 257 135 256 120 256 120 251.5 105 250 103.1 245.8 105ZM222.3 0 225.5 3 229.2 9 232 15 232 15 232 15 235 9 238 5.1 242 0M245.8 101.2 245.7 105 245.5 120 245.4 135 245.5 150 245.8 160.7 250 162.9 256 156 258 150 259 135 258 120 256 110 254.5 105 250 99.4 245.8 101.2ZM219.2 0 225.5 6 227.4 9 227.7 15 232 20 238 17.5 239.7 15 238 12 237 9 238 7.7 243 5 245.2 0 245.2 0M253 165 256 162 260 150 261 135 260 120 257.2 105 256 102 250 95.6 245.8 97.5 245.5 105 245.4 120 245.3 135 245.4 150 245.8 165M216 0 216 0 225.5 9 223.1 15 225.5 18 232 25 238 22.5 243 15 243 15 245.2 10 245.3 9 245.8 0 245.8 0M257.5 165 262 150 262 150 263 135 262 120 262 120 259.6 105 256 96 250 91.9 245.8 93.8 245.4 105 245.3 120 245.2 135 245.3 150 245.6 165M211.2 0 216 6 219.2 9 218.4 15 225.5 24 232 30 231.9 33 231.7 39 231.6 45 232 45.5 232.8 45 232.5 39 232.2 33 232 30 238 27.5 243 23.3 245.2 22.5 245.8 15 245.8 15 248.2 9 250 0 250 0M260.5 165 262 160 264.4 150 265 135 264.4 120 262 105 262 105 256 90 256 90 250 82.5 245.8 90 245.8 90 245.3 105 245.2 112.5 244.6 120 244.6 135 245.2 150 245.2 150 245.4 165M206.4 0 212.9 9 213.6 15 216 18.6 225.5 30 225.5 30 226 33 226.7 39 227.2 45 232 50.9 238 48.5 241.8 45 243 40 243.4 45 244.5 60 245.2 75 245.2 90 244.5 105 243.6 120 243.6 135 244 150 245.2 165M264 165 266.8 150 267 135 266.8 120 265 105 262 95 260 90 256 75 256 75 253 60 254 45 253.8 39 253.5 33 253.4 30 252.3 15 253 9 254 0M198.5 0 204 4.8 206.7 9 208.9 15 216 25.7 219.6 30 220 33 221 39 221.9 45 225.5 50.3 232 56.2 238 60 238 60 243 71.2 243.2 75 243.5 90 243 105 243 105 241.8 120 242 135 242.6 150 243 156 243.5 165M281 0 281 0M268 165 269.8 150 269.6 135 269.8 120 268 105 268 105 264.7 90 263.7 75 263.2 60 263 45 262.9 39 262.9 33 262.9 30 262 24 258.4 15 258.7 9 259 0M184 0 192 6 195.1 9 204 14.5 204.2 15 212.8 30 213.3 33 214.5 39 216 45 216 45 225.5 59.1 227.1 60 232 65.6 235.3 75 235.6 90 238 97.5 238.8 105 239.2 120 240 135 240.3 150 240.3 165M267.5 30 268 28.3 269.2 30 269.1 33 269 39 268.8 45 268 46.2 267.8 45 267.7 39 267.6 33 267.5 30ZM273.4 165 273.2 150 272.8 135 273.2 120 272.7 105 272 90 273 75 275 65 277 60 281 55.7M159 0 168 9 168 9 174 15 180 20 190.7 30 192 32.1 196 30 204 28.6 204.8 30 204.8 33 205 39 205.1 45 212 60 216 67.5 225.5 74.7 225.8 75 225.5 75.7 216 79.3 204 80 192 80 188 90 192 97.5 204 102.9 216 96.8 225.5 102 227.7 105 232 115 233 120 238 135 238 135 238.1 150 238 151.7 232 162.7 225.5 156.4 216 150 219.2 135 216 131.2 204 126.4 192 127.5 184 135 184 150 183 165M168 39 168 39 164.7 45 168 51.7 174 45 168 39 168 39ZM192 57.9 190.7 60 192 65 194.4 60 192 57.9ZM107.5 120 107.5 120 107.3 135 107.5 138 110.2 135 107.5 120 107.5 120ZM281 140 279.5 135 281 131.2M177.6 165 168 151.7 163.6 165M143.1 0 143.3 9 143.5 15 143.5 15 156 24.2 160.6 30 159.1 33 157.4 39 156.4 45 156 47.1 143.5 52.5 143.3 60 143.5 66 156 70 160 75 168 88.6 168.6 90 168 95.6 166.7 105 161.5 120 160 135 156 142.5 143.5 146.2 143.4 150 143.3 165M107.5 115 107 120 106.8 135 107.5 144 113 138 113.4 135 113 120 113 120 107.5 115ZM231.3 150 232 148.1 232.6 150 232 151.2 231.3 150ZM142.2 0 142.4 9 142.5 15 142.8 30 142.7 33 142.7 39 142.7 45 142.3 60 142.8 75 143 90 143 105 142.9 120 142.7 135 142.3 150 142.2 165M107.5 110 106.6 120 106.3 135 107.5 150 107.5 150 107.5 150 113 144 114.3 135 113.9 120 113 114.2 107.5 110ZM141.2 0 141.4 9 141.5 15 141.7 30 141.7 33 141.7 39 141.6 45 141.4 60 141.7 75 141.9 90 141.9 105 141.8 120 141.6 135 141.3 150 141.2 165M107.5 27.3 106.4 30 107.2 33 107.5 33.7 107.9 33 109.1 30 107.5 27.3ZM107.5 105 107.5 105 106.1 120 105.8 135 106.9 150 107.5 157.5 113 150 113 150 115.2 135 114.8 120 113 108.5 107.5 105 107.5 105ZM101.3 0 101.3 9 101.3 15 101.4 30 101.4 33 101.5 33.1 107.1 39 107.3 45 107.4 60 107.5 75 107.5 75 107.5 75 113 67.5 113.2 60 113.5 45 113.5 39 113.5 33 113.5 30 113.4 15 113 9 113 8.6 112.9 9 107.5 14.3 102.2 9 101.8 0M140.3 0 140.4 9 140.5 15 140.7 30 140.6 33 140.6 39 140.6 45 140.4 60 140.7 75 140.8 90 140.8 105 140.7 120 140.6 135 140.2 150 140.1 165M107.5 165 113 160 114.4 150 116.1 135 115.6 120 113.5 105 113 99 107.5 95 106.9 105 105.7 120 105.4 135 106.3 150 107.5 165ZM99.2 0 99.2 9 99.2 15 99.6 20 100.1 30 100.1 33 101.5 33.6 106.6 39 106.8 45 106.9 60 106.9 75 107.2 90 106.3 105 105.2 120 104.9 135 105.7 150 106.8 165M110.9 0 107.5 7.1 104.6 0M139.4 0 139.4 9 139.5 15 139.6 30 139.6 33 139.6 39 139.6 45 139.4 60 139.6 75 139.7 90 139.7 105 139.6 120 139.5 135 139.2 150 139.1 165M113.9 165 115.8 150 116.5 142.5 117.1 135 116.5 120 116.5 120 114.9 105 113.7 90 113.9 75 114.4 60 115.2 45 114.8 39 114.5 33 114.4 30 114.6 15 114.6 9 114.8 0M96.9 0 97.2 9 97.4 15 98.9 30 99 33 99.6 33.4 101.5 34.1 106.1 39 106.2 45 106.3 60 106.4 75 106.5 90 105.8 105 104.7 120 104.4 135 105.1 150 106 165M138.4 0 138.5 9 138.5 15 138.6 30 138.5 33 138.5 39 138.5 45 138.5 60 138.6 75 138.6 90 138.6 105 138.6 120 138.4 135 138.1 150 138 165M0.6 165 0.7 150 0.8 135 0.8 120 0.8 105 0.8 90 0.7 75 0.7 60 0.7 45 0.7 39 0.7 33 0.7 30 1 15 1.4 9 2 0M115.6 165 116.5 157.5 117.4 150 118.3 135 117.7 120 116.5 107.5 116.2 105 115.4 90 115 75 115.5 60 116.5 47.7 116.8 45 116.5 42.9 116 39 115.5 33 115.4 30 115.8 15 116.2 9 116.5 6 117 0M33.4 0 37 1.2 41.8 0M94.7 0 95.3 9 95.6 15 97.8 30 98 33 99.6 34 101.5 34.7 105.6 39 105.7 45 105.8 60 105.8 75 105.9 90 105.2 105 104.3 120 104 135 104.4 150 105.3 165M137.5 0 137.5 9 137.5 15 137.5 30 137.5 33 137.5 39 137.5 45 137.5 60 137.5 75 137.5 90 137.5 105 137.5 120 137.2 135 136.9 150 136.7 165M2.7 165 3 150 3.4 135 3.5 120 3.4 105 3.2 90 3.1 75 3.1 60 3.1 45 3.1 39 3.1 33 3.1 30 3.5 15 4 9 4.9 0M118 165 119.2 150 119.5 135 118.9 120 117.6 105 117.1 90 116.5 82.5 116.1 75 116.5 63 116.7 60 118 45 117.5 39 116.7 33 116.5 32.1 116.3 30 116.5 25 117.2 15 117.8 9 118.4 0M136.2 0 136.2 9 136.2 15 136.2 30 136.2 33 136.2 39 136.2 45 136.2 60 136.2 75 136.2 90 136.2 105 136.1 120 135.7 135 135.3 150 135 165 135 165M4.8 165 5.3 150 6 135 6 135 7.2 120 6 105 6 105 5.7 90 5.5 75 5.5 60 5.5 45 5.5 39 5.5 33 5.5 30 6 15 6 15 8.1 9 12 4.3 24.5 4.2 37 6.9 49 4.8 61 3 73.5 2.3 86 2.1 93 9 93.4 10 93.8 15 96.7 30 97.1 33 99.6 34.6 101.5 35.2 105.1 39 105.2 45 105.2 60 105.3 75 105.2 90 104.6 105 103.8 120 103.5 135 103.8 150 104.6 165M121 165 121 150 121 150 120.8 135 120.1 120 119 105 118.8 90 117.9 75 118.6 60 119.3 45 119.1 39 118.7 33 118.4 30 119.1 15 119.4 9 119.7 0M135 0 135 9 135 15 135 30 135 33 135 39 135 45 135 60 135 75 135 90 135 105 133 120 130 127.5 125 130.7 122.1 120 121 115.7 120.3 105 120.4 90 120.3 75 120.4 60 120.6 45 120.7 39 120.7 33 120.8 30 121 15 121 15 121 9 121 0M8.4 165 10.2 150 12 141 14.5 135 19.5 120 15.1 105 13 90 12 75 12 75 11.3 60 10.8 45 10.9 39 11 33 11.1 30 12 15 12 15 24.5 12.5 37 12.7 49 11.6 61 10.5 73.5 9.8 86 12.9 87.5 15 93.4 19.3 95.6 30 96.1 33 99.6 35.2 101.5 35.8 104.6 39 104.7 45 104.7 60 104.7 75 104.6 90 104 105 103.3 120 103 135 103.2 150 103.8 165M129 15 130 12 130.5 15 130 18 129 15ZM124.1 45 125 40 126.7 45 125 52.5 124.1 45ZM124.4 90 125 85 126.2 90 126 105 125 107.5 124.3 105 124.4 90ZM15.8 165 19.3 150 24.5 139.3 28.1 135 32 120 24.5 108.7 22.9 105 22.6 90 21.6 75 20 60 20.3 45 20.8 39 21.4 33 21.7 30 24.5 26.1 37 20.3 49 18.5 61 17.3 73.5 16.4 86 18 93.4 24.6 94.5 30 95.1 33 99.6 35.9 101.5 36.3 104.1 39 104.1 45 104.2 60 104.2 75 104 90 103.4 105 102.9 120 102.5 135 102.6 150 103.1 165M25.6 165 34.9 150 37 147.5 49 138 52.4 135 49 127.5 46 120 37 111 32.8 105 33.6 90 33.2 75 31.4 60 33.3 45 34.2 39 35.1 33 35.5 30 37 29.1 49 25.5 61 22.9 73.5 21.2 86 21.8 93.4 30 93.4 30 94.2 33 99.6 36.5 101.5 36.8 103.5 39 103.6 45 103.6 60 103.6 75 103.3 90 102.8 105 102.4 120 102.1 135 102 150 102.4 165M37 165 49 153 58.6 150 61 148.6 73.5 138 77.7 135 73.5 134.1 61 121.4 60.3 120 49 105 49 105 46.3 90 46.9 75 45 60 49 45 49 45 51.2 39 54.1 33 56 30 61 28.6 73.5 26 86 25.5 90 30 92.5 33 93.4 33.6 99.6 37.1 101.5 37.4 103 39 103.1 45 103.1 60 103.1 75 102.7 90 102.3 105 102 120 101.6 135 101.5 142.5 99.6 142.5 93.4 142.5 86 140 79.8 150 86 152.3 93.4 153.8 99.6 156 101.5 157.5 101.6 165M78.9 30 86 29.3 86.7 30 88.3 33 93.4 36.6 99.6 37.8 101.5 37.9 102.5 39 102.6 45 102.6 60 102.5 75 102 90 101.7 105 101.5 120 101.5 120 99.6 121.7 93.4 123 86 123.8 78.5 120 73.5 112.5 69.9 105 67.2 90 61 78.8 59.7 75 58.3 60 61 50 62.3 45 66.4 39 72.4 33 73.5 32.1 78.9 30ZM53.8 165 61 161.4 73.5 160 86 163.8 87.5 165M82.3 39 86 37.1 89.9 39 93.4 40 94.4 39 99.6 38.4 101.5 38.5 102 39 102 45 102 60 101.9 75 101.5 87 99.6 87.3 95.5 90 93.4 92.1 86 92.5 84.4 90 75.1 75 73.5 70 71 60 73.5 50 74.8 45 82.3 39ZM83.5 60 86 50 93.4 45 99.6 45 101.5 60 99.6 70 95.5 75 93.4 75.8 92.3 75 86 66 83.5 60ZM245.5 0V165" fill="none" stroke="#000" stroke-width="1.1" stroke-linejoin="round"/></svg></div><div class="bd" style="left:349.5px;top:-0.5px;width:282px;height:166px"></div><div class="cb" style="left:639.2px;top:-0.5px;width:15.2px;height:166.2px;background:linear-gradient(0deg,#16169d 0.00%,#16169d 1.56%,#1616aa 1.56%,#1616aa 3.12%,#1616b6 3.12%,#1616b6 4.69%,#1616c3 4.69%,#1616c3 6.25%,#1616cf 6.25%,#1616cf 7.81%,#1616db 7.81%,#1616db 9.38%,#1616e6 9.38%,#1616e6 10.94%,#1616f2 10.94%,#1616f2 12.50%,#161ffa 12.50%,#161ffa 14.06%,#1635fa 14.06%,#1635fa 15.62%,#1646fa 15.62%,#1646fa 17.19%,#1656fa 17.19%,#1656fa 18.75%,#1666fa 18.75%,#1666fa 20.31%,#1674fa 20.31%,#1674fa 21.88%,#1682fa 21.88%,#1682fa 23.44%,#1690fa 23.44%,#1690fa 25.00%,#169dfa 25.00%,#169dfa 26.56%,#16aafa 26.56%,#16aafa 28.12%,#16b6fa 28.12%,#16b6fa 29.69%,#16c3fa 29.69%,#16c3fa 31.25%,#16cffa 31.25%,#16cffa 32.81%,#16dbfa 32.81%,#16dbfa 34.38%,#16e6fa 34.38%,#16e6fa 35.94%,#16f2fa 35.94%,#16f2fa 37.50%,#1ffaf7 37.50%,#1ffaf7 39.06%,#35faeb 39.06%,#35faeb 40.62%,#46fadf 40.62%,#46fadf 42.19%,#56fad4 42.19%,#56fad4 43.75%,#66fac7 43.75%,#66fac7 45.31%,#74fabb 45.31%,#74fabb 46.88%,#82faaf 46.88%,#82faaf 48.44%,#90faa2 48.44%,#90faa2 50.00%,#9dfa95 50.00%,#9dfa95 51.56%,#aafa88 51.56%,#aafa88 53.12%,#b6fa7a 53.12%,#b6fa7a 54.69%,#c3fa6c 54.69%,#c3fa6c 56.25%,#cffa5d 56.25%,#cffa5d 57.81%,#dbfa4d 57.81%,#dbfa4d 59.38%,#e6fa3c 59.38%,#e6fa3c 60.94%,#f2fa29 60.94%,#f2fa29 62.50%,#faf716 62.50%,#faf716 64.06%,#faeb16 64.06%,#faeb16 65.62%,#fadf16 65.62%,#fadf16 67.19%,#fad416 67.19%,#fad416 68.75%,#fac716 68.75%,#fac716 70.31%,#fabb16 70.31%,#fabb16 71.88%,#faaf16 71.88%,#faaf16 73.44%,#faa216 73.44%,#faa216 75.00%,#fa9516 75.00%,#fa9516 76.56%,#fa8816 76.56%,#fa8816 78.12%,#fa7a16 78.12%,#fa7a16 79.69%,#fa6c16 79.69%,#fa6c16 81.25%,#fa5d16 81.25%,#fa5d16 82.81%,#fa4d16 82.81%,#fa4d16 84.38%,#fa3c16 84.38%,#fa3c16 85.94%,#fa2916 85.94%,#fa2916 87.50%,#f71616 87.50%,#f71616 89.06%,#eb1616 89.06%,#eb1616 90.62%,#df1616 90.62%,#df1616 92.19%,#d41616 92.19%,#d41616 93.75%,#c71616 93.75%,#c71616 95.31%,#bb1616 95.31%,#bb1616 96.88%,#af1616 96.88%,#af1616 98.44%,#a21616 98.44%,#a21616 100.00%)"></div><div class="tk" style="left:651.2px;top:32.5px"></div><div class="tl" style="left:655.9px;top:23.7px">0.0</div><div class="tk" style="left:651.2px;top:98.5px"></div><div class="tl" style="left:655.7px;top:89.7px">-1.0</div><div class="tk" style="left:651.2px;top:164.5px"></div><div class="tl" style="left:655.7px;top:155.7px">-2.0</div><div class="plot" style="left:175px;top:261px;width:282px;height:165px;--c0:linear-gradient(90deg,#9cff90 0px,#96ff96 4px,#90ff9c 8px,#8bffa1 12px,#80ffac 16px,#75ffb7 20px,#6bffc1 24px,#69ffc3 24.5px,#79ffb3 28px,#8bffa1 32px,#9dff8f 36px,#a1ff8b 37px,#b5ff77 40px,#d1ff5b 44px,#ecff40 48px,#f2ff3a 49px,#f2ff3a 61px,#efff3d 64px,#ebff41 68px,#e6ff46 72px,#e4ff48 73.5px,#eaff42 76px,#f3ff39 80px,#fcff30 84px,#fffe2d 86px,#ffe62d 88px,#ffb82d 92px,#ff892d 96px,#ff722d 98px,#ff522d 100px,#ff3a2d 101.5px,#ffde2d 104px,#2debff 108px,#2d88ff 109.5px,#2d7eff 112px,#2d77ff 113.5px,#2d9aff 116px,#2dafff 117.5px,#2deaff 120px,#69ffc3 123.5px,#70ffbc 124px,#a7ff85 128px,#c3ff69 130px,#ccff60 132px,#deff4e 136px,#e4ff48 137.5px,#e4ff48 138.1px,#faff32 140px,#ffdc2d 143.5px,#ffde2d 144px,#fff22d 148px,#f8ff34 152px,#e4ff48 156px,#fbff31 160px,#ffed2d 164px,#ffd62d 168px,#ffeb2d 172px,#ffff2d 176px,#eaff42 180px,#d1ff5b 184px,#b9ff73 188px,#acff80 190px,#71ffbb 192px,#2dcbff 196px,#2d2d96 200px,#2d2d96 228px,#8fff9d 232px,#c32d2d 234px,#d52d2d 236px,#fb2d2d 240px,#2de2ff 244px,#2d93ff 244.7px,#2d2d96 245.3px,#2db4ff 248px,#31fffb 248.5px,#d9ff53 252px,#ffcb2d 255.5px,#ffce2d 256px,#ffe22d 259px,#ffe42d 260px,#ffed2d 263.5px,#ffef2d 264px,#ffff2d 268px,#fbff31 269px,#e9ff43 272px,#d4ff58 275.5px,#d2ff5a 276px,#c8ff64 280px,#c3ff69 282px);--c1:linear-gradient(90deg,#b8ff74 0px,#b4ff78 4px,#b1ff7b 8px,#adff7f 12px,#a9ff83 16px,#a6ff86 20px,#a2ff8a 24px,#a1ff8b 24.5px,#b0ff7c 28px,#c2ff6a 32px,#d3ff59 36px,#d7ff55 37px,#e5ff47 40px,#f7ff35 44px,#fff42d 48px,#fff02d 49px,#fff02d 60px,#fff12d 61px,#fff62d 64px,#fffd2d 68px,#faff32 72px,#f7ff35 73.5px,#fdff2f 76px,#fff62d 80px,#ffec2d 84px,#ffe72d 86px,#ffd42d 88px,#ffac2d 92px,#ff852d 96px,#ff722d 98px,#ff522d 100px,#ff3a2d 101.5px,#ffe52d 104px,#2dd8ff 108px,#2d72ff 109.5px,#2d68ff 112px,#2d63ff 113.5px,#2d86ff 116px,#2d9bff 117.5px,#2dd6ff 120px,#57ffd5 123.5px,#5effce 124px,#9eff8e 128px,#bdff6f 130px,#c6ff66 132px,#d7ff55 136px,#ddff4f 137.5px,#d5ff57 138.1px,#e7ff45 140px,#fff62d 143.5px,#fff82d 144px,#f9ff33 148px,#ecff40 152px,#dfff4d 156px,#eeff3e 160px,#feff2e 164px,#fff12d 168px,#fdff2f 172px,#edff3f 176px,#ddff4f 180px,#c3ff69 184px,#a9ff83 188px,#9cff90 190px,#6effbe 192px,#2de3ff 196px,#2d2d96 200px,#2d2d96 228px,#74ffb8 232px,#ff842d 234px,#ff902d 236px,#ffa82d 240px,#2de7ff 244px,#2dafff 244.7px,#2d2d96 245.3px,#2dedff 248px,#57ffd5 248.5px,#ddff4f 252px,#ffdc2d 255.5px,#ffdd2d 256px,#ffe32d 259px,#ffe52d 260px,#ffe92d 263.5px,#ffea2d 264px,#fff52d 268px,#fff82d 269px,#f7ff35 272px,#e6ff46 275.5px,#e4ff48 276px,#d5ff57 280px,#ceff5e 282px);--c2:linear-gradient(90deg,#d4ff58 0px,#d2ff5a 4px,#d1ff5b 8px,#d0ff5c 12px,#d3ff59 16px,#d6ff56 20px,#d9ff53 24px,#d9ff53 24.5px,#e8ff44 28px,#f9ff33 32px,#fff52d 36px,#fff12d 37px,#ffe92d 40px,#ffe02d 44px,#ffd62d 48px,#ffd42d 49px,#ffd42d 52px,#ffd52d 56px,#ffd52d 61px,#ffdd2d 64px,#ffe72d 68px,#fff12d 72px,#fff42d 73.5px,#ffed2d 76px,#ffe22d 80px,#ffd62d 84px,#ffd12d 86px,#ffc12d 88px,#ffa12d 92px,#ff812d 96px,#ff722d 98px,#ff522d 100px,#ff3a2d 101.5px,#ffec2d 104px,#2dc6ff 108px,#2d5bff 109.5px,#2d53ff 112px,#2d4eff 113.5px,#2d71ff 116px,#2d86ff 117.5px,#2dc2ff 120px,#44ffe8 123.5px,#4dffdf 124px,#94ff98 128px,#b8ff74 130px,#c0ff6c 132px,#cfff5d 136px,#d5ff57 137.5px,#c7ff65 138.1px,#d4ff58 140px,#eeff3e 143.5px,#edff3f 144px,#e6ff46 148px,#e0ff4c 152px,#d9ff53 156px,#e2ff4a 160px,#ebff41 164px,#f3ff39 168px,#e8ff44 172px,#dcff50 176px,#d0ff5c 180px,#b4ff78 184px,#99ff93 188px,#8bffa1 190px,#6affc2 192px,#2dfcff 196px,#2d41ff 200px,#2d2db6 202px,#2d2d96 204px,#2d2d96 224px,#2d2de3 228px,#59ffd3 232px,#e6ff46 234px,#e1ff4b 236px,#d7ff55 240px,#2decff 244px,#2dcbff 244.7px,#2d49ff 245.3px,#53ffd9 248px,#7cffb0 248.5px,#e1ff4b 252px,#ffed2d 255.5px,#ffec2d 256px,#ffe52d 259px,#ffe52d 263.5px,#ffe62d 264px,#ffeb2d 268px,#ffed2d 269px,#fff82d 272px,#f9ff33 275.5px,#f6ff36 276px,#e3ff49 280px,#d9ff53 282px);--c3:linear-gradient(90deg,#f0ff3c 0px,#f1ff3b 4px,#f1ff3b 8px,#f2ff3a 12px,#fcff30 16px,#fff82d 20px,#ffee2d 24px,#ffed2d 24.5px,#ffdf2d 28px,#ffcf2d 32px,#ffbe2d 36px,#ffba2d 37px,#ffba2d 40px,#ffb92d 44px,#ffb82d 48px,#ffb82d 52px,#ffb92d 56px,#ffba2d 60px,#ffba2d 61px,#ffc42d 64px,#ffd02d 68px,#ffdd2d 72px,#ffe22d 73.5px,#ffda2d 76px,#ffcd2d 80px,#ffc12d 84px,#ffba2d 86px,#ffae2d 88px,#ff962d 92px,#ff7e2d 96px,#ff722d 98px,#ff522d 100px,#ff3a2d 101.5px,#fff32d 104px,#2db4ff 108px,#2d45ff 109.5px,#2d3eff 112px,#2d3aff 113.5px,#2d5dff 116px,#2d72ff 117.5px,#2daeff 120px,#31fffb 123.5px,#3bfff1 124px,#8affa2 128px,#b2ff7a 130px,#b9ff73 132px,#c8ff64 136px,#ceff5e 137.5px,#b8ff74 138.1px,#c1ff6b 140px,#d4ff58 143.5px,#d4ff58 156px,#d5ff57 160px,#d7ff55 164px,#d9ff53 168px,#d2ff5a 172px,#caff62 176px,#c3ff69 180px,#a6ff86 184px,#89ffa3 188px,#7affb2 190px,#67ffc5 192px,#42ffea 196px,#2defff 200px,#2ddcff 202px,#2dd0ff 204px,#2db9ff 208px,#2dafff 209.6px,#2dafff 216px,#2db3ff 220px,#2db5ff 222px,#2dc6ff 224px,#2de7ff 228px,#3effee 232px,#53ffd9 234px,#55ffd7 236px,#58ffd4 240px,#2df1ff 244px,#2de7ff 244.7px,#2de7ff 245.3px,#8bffa1 248px,#a1ff8b 248.5px,#e4ff48 252px,#fffe2d 255.5px,#fffa2d 256px,#ffe72d 259px,#ffe62d 260px,#ffe22d 263.5px,#ffe22d 269px,#ffe92d 272px,#fff22d 275.5px,#fff52d 276px,#f0ff3c 280px,#e4ff48 282px);--c4:linear-gradient(90deg,#ecff40 0px,#edff3f 4px,#eeff3e 8px,#f0ff3c 12px,#fbff31 16px,#fff82d 20px,#ffec2d 24px,#ffeb2d 24.5px,#ffe12d 28px,#ffd52d 32px,#ffc92d 36px,#ffc72d 37px,#ffc62d 40px,#ffc52d 44px,#ffc52d 52px,#ffc62d 56px,#ffc62d 60px,#ffc72d 61px,#ffcb2d 64px,#ffd02d 68px,#ffd62d 72px,#ffd82d 73.5px,#ffd52d 76px,#ffcf2d 80px,#ffc92d 84px,#ffc62d 86px,#ffba2d 88px,#ffa32d 92px,#ff8c2d 96px,#ff812d 98px,#ff5e2d 100px,#ff452d 101.5px,#ffff2d 104px,#2da6ff 108px,#2d36ff 109.5px,#2d2dff 112px,#2d2df9 113.5px,#2d48ff 116px,#2d5bff 117.5px,#2d98ff 120px,#2dedff 123.5px,#2df7ff 124px,#7affb2 128px,#a5ff87 130px,#afff7d 132px,#c3ff69 136px,#caff62 137.5px,#b9ff73 138.1px,#c1ff6b 140px,#d2ff5a 143.5px,#d1ff5b 144px,#ceff5e 148px,#caff62 152px,#c7ff65 156px,#c7ff65 168px,#bfff6d 172px,#b8ff74 176px,#b0ff7c 180px,#91ff9b 184px,#71ffbb 188px,#62ffca 190px,#4effde 192px,#2df8ff 196px,#2ddaff 200px,#2dcbff 202px,#2dc5ff 204px,#2dbaff 208px,#2db5ff 209.6px,#2dbaff 212px,#2dc2ff 215.8px,#2dc2ff 216px,#2dcbff 220px,#2dcfff 222px,#2ddcff 224px,#2df6ff 228px,#47ffe5 232px,#58ffd4 234px,#57ffd5 236px,#53ffd9 240px,#2df0ff 244px,#2de7ff 244.7px,#2dfaff 245.3px,#91ff9b 248px,#a5ff87 248.5px,#ddff4f 252px,#f3ff39 255.5px,#f6ff36 256px,#fff82d 259px,#fff62d 260px,#fff12d 263.5px,#fff02d 264px,#ffe92d 268px,#ffe72d 269px,#ffe92d 272px,#ffeb2d 275.5px,#ffed2d 276px,#fffe2d 280px,#f7ff35 282px);--c5:linear-gradient(90deg,#e8ff44 0px,#eaff42 4px,#ebff41 8px,#edff3f 12px,#faff32 16px,#fff82d 20px,#ffeb2d 24px,#ffe92d 24.5px,#ffe32d 28px,#ffdc2d 32px,#ffd42d 36px,#ffd32d 37px,#ffd22d 40px,#ffd22d 56px,#ffd32d 60px,#ffd32d 61px,#ffd22d 64px,#ffd12d 68px,#ffcf2d 72px,#ffcf2d 76px,#ffd02d 80px,#ffd12d 84px,#ffd12d 86px,#ffc62d 88px,#ffb02d 92px,#ff9a2d 96px,#ff8f2d 98px,#ff6b2d 100px,#ff502d 101.5px,#f2ff3a 104px,#2d98ff 108px,#2d2df9 109.5px,#2d2ded 112px,#2d2de6 113.5px,#2d33ff 116px,#2d45ff 117.5px,#2d81ff 120px,#2dd6ff 123.5px,#2de2ff 124px,#6affc2 128px,#98ff94 130px,#a4ff88 132px,#bdff6f 136px,#c7ff65 137.5px,#b9ff73 138.1px,#c1ff6b 140px,#d0ff5c 143.5px,#cfff5d 144px,#c8ff64 148px,#c1ff6b 152px,#b9ff73 156px,#b8ff74 160px,#b6ff76 164px,#b4ff78 168px,#acff80 172px,#a5ff87 176px,#9dff8f 180px,#7cffb0 184px,#5affd2 188px,#49ffe3 190px,#34fff8 192px,#2ddcff 196px,#2dc6ff 200px,#2dbaff 202px,#2dbaff 209.6px,#2dc5ff 212px,#2dd5ff 215.8px,#2dd5ff 216px,#2de2ff 220px,#2de9ff 222px,#2df2ff 224px,#33fff9 228px,#50ffdc 232px,#5effce 234px,#58ffd4 236px,#4dffdf 240px,#2df0ff 244px,#2de7ff 244.7px,#3bfff1 245.3px,#97ff95 248px,#a9ff83 248.5px,#d5ff57 252px,#e6ff46 255.5px,#e8ff44 256px,#f5ff37 259px,#f7ff35 260px,#ffff2d 263.5px,#fffe2d 264px,#fff02d 268px,#ffed2d 269px,#ffe82d 272px,#ffe32d 275.5px,#ffe52d 276px,#ffef2d 280px,#fff42d 282px);--c6:linear-gradient(90deg,#e4ff48 0px,#e6ff46 4px,#e8ff44 8px,#eaff42 12px,#f8ff34 16px,#fff72d 20px,#ffe92d 24px,#ffe72d 24.5px,#ffe52d 28px,#ffe22d 32px,#ffdf2d 36px,#ffdf2d 61px,#ffd92d 64px,#ffd12d 68px,#ffc92d 72px,#ffc62d 73.5px,#ffca2d 76px,#ffd12d 80px,#ffd82d 84px,#ffdc2d 86px,#ffd22d 88px,#ffbd2d 92px,#ffa92d 96px,#ff9e2d 98px,#ff782d 100px,#ff5b2d 101.5px,#e6ff46 104px,#2d89ff 108px,#2d2dea 109.5px,#2d2ddc 112px,#2d2dd4 113.5px,#2d2df0 116px,#2d2eff 117.5px,#2d6bff 120px,#2dc0ff 123.5px,#2dccff 124px,#5bffd1 128px,#8bffa1 130px,#9aff92 132px,#b8ff74 136px,#c3ff69 137.5px,#baff72 138.1px,#c1ff6b 140px,#ceff5e 143.5px,#cdff5f 144px,#c2ff6a 148px,#b7ff75 152px,#acff80 156px,#a9ff83 160px,#a5ff87 164px,#a1ff8b 168px,#9aff92 172px,#92ff9a 176px,#8bffa1 180px,#67ffc5 184px,#43ffe9 188px,#31fffb 190px,#2dedff 192px,#2dc0ff 196px,#2db1ff 200px,#2daaff 202px,#2dafff 204px,#2dbbff 208px,#2dc0ff 209.6px,#2dcfff 212px,#2de7ff 215.8px,#2de8ff 216px,#2dfaff 220px,#31fffb 222px,#37fff5 224px,#42ffea 228px,#58ffd4 232px,#64ffc8 234px,#5affd2 236px,#48ffe4 240px,#2defff 244px,#2de7ff 244.7px,#4dffdf 245.3px,#9eff8e 248px,#acff80 248.5px,#ceff5e 252px,#d9ff53 255.5px,#dbff51 256px,#e4ff48 259px,#e7ff45 260px,#f0ff3c 263.5px,#f2ff3a 264px,#fff72d 268px,#fff22d 269px,#ffe82d 272px,#ffdc2d 275.5px,#ffdc2d 276px,#ffe02d 280px,#ffe22d 282px);--c7:linear-gradient(90deg,#e6ff46 0px,#e8ff44 4px,#e9ff43 8px,#ebff41 12px,#f9ff33 16px,#fff72d 20px,#ffe92d 24px,#ffe72d 24.5px,#ffe52d 28px,#ffe32d 32px,#ffe02d 36px,#ffe02d 61px,#ffdc2d 64px,#ffd62d 68px,#ffd12d 72px,#ffcf2d 73.5px,#ffd22d 76px,#ffd72d 80px,#ffdb2d 84px,#ffde2d 86px,#ffd72d 88px,#ffc82d 92px,#ffba2d 96px,#ffb32d 98px,#ff982d 100px,#ff842d 101.5px,#c7ff65 104px,#2d7aff 108px,#2d2de1 109.5px,#2d2dcf 112px,#2d2dc5 113.5px,#2d2dde 116px,#2d2dee 117.5px,#2d58ff 120px,#2dadff 123.5px,#2dbaff 124px,#4affe2 128px,#7cffb0 130px,#8eff9e 132px,#b2ff7a 136px,#bfff6d 137.5px,#b9ff73 138.1px,#c0ff6c 140px,#cdff5f 143.5px,#ccff60 144px,#c1ff6b 148px,#b6ff76 152px,#abff81 156px,#a5ff87 160px,#9fff8d 164px,#9aff92 168px,#8dff9f 172px,#80ffac 176px,#73ffb9 180px,#4bffe1 184px,#2df5ff 188px,#2de2ff 190px,#2dd0ff 192px,#2dadff 196px,#2d9eff 200px,#2d97ff 202px,#2d9eff 204px,#2dacff 208px,#2db1ff 209.6px,#2dc2ff 212px,#2ddeff 215.8px,#2ddfff 216px,#2df6ff 220px,#2ffffd 222px,#38fff4 224px,#49ffe3 228px,#63ffc9 232px,#70ffbc 234px,#62ffca 236px,#48ffe4 240px,#2defff 244px,#2de7ff 244.7px,#53ffd9 245.3px,#9eff8e 248px,#acff80 248.5px,#ceff5e 252px,#d9ff53 255.5px,#dbff51 256px,#e4ff48 259px,#e7ff45 260px,#f1ff3b 263.5px,#f3ff39 264px,#fff62d 268px,#fff12d 269px,#ffe62d 272px,#ffda2d 275.5px,#ffdb2d 276px,#ffde2d 280px,#ffe02d 282px);--c8:linear-gradient(90deg,#e8ff44 0px,#e9ff43 4px,#ebff41 8px,#ecff40 12px,#faff32 16px,#fff72d 20px,#ffe92d 24px,#ffe72d 24.5px,#ffe52d 28px,#ffe32d 32px,#ffe12d 36px,#ffe12d 61px,#ffdf2d 64px,#ffdc2d 68px,#ffd92d 72px,#ffd82d 73.5px,#ffda2d 76px,#ffdc2d 80px,#ffdf2d 84px,#ffe02d 86px,#ffdc2d 88px,#ffd42d 92px,#ffcc2d 96px,#ffc72d 98px,#ffb92d 100px,#ffad2d 101.5px,#a8ff84 104px,#2d6bff 108px,#2d2dd7 109.5px,#2d2dc2 112px,#2d2db6 113.5px,#2d2dcd 116px,#2d2ddb 117.5px,#2d46ff 120px,#2d9bff 123.5px,#2da7ff 124px,#3afff2 128px,#6dffbf 130px,#82ffaa 132px,#acff80 136px,#bbff71 137.5px,#b9ff73 138.1px,#bfff6d 140px,#ccff60 143.5px,#cbff61 144px,#bfff6d 148px,#b4ff78 152px,#a9ff83 156px,#a1ff8b 160px,#9aff92 164px,#92ff9a 168px,#80ffac 172px,#6dffbf 176px,#5affd2 180px,#2ffffd 184px,#2dd6ff 188px,#2dc0ff 190px,#2db4ff 192px,#2d9bff 196px,#2d8cff 200px,#2d84ff 202px,#2d8cff 204px,#2d9cff 208px,#2da2ff 209.6px,#2db6ff 212px,#2dd5ff 215.8px,#2dd6ff 216px,#2df2ff 220px,#2dffff 222px,#39fff3 224px,#51ffdb 228px,#6effbe 232px,#7cffb0 234px,#6affc2 236px,#48ffe4 240px,#2defff 244px,#2de7ff 244.7px,#58ffd4 245.3px,#9fff8d 248px,#acff80 248.5px,#ceff5e 252px,#d9ff53 255.5px,#dbff51 256px,#e4ff48 259px,#e7ff45 260px,#f1ff3b 263.5px,#f4ff38 264px,#fff42d 268px,#ffef2d 269px,#ffe42d 272px,#ffd82d 275.5px,#ffd92d 276px,#ffdc2d 280px,#ffde2d 282px);--c9:linear-gradient(90deg,#eaff42 0px,#ebff41 4px,#ecff40 8px,#edff3f 12px,#faff32 16px,#fff62d 20px,#ffe92d 24px,#ffe72d 24.5px,#ffe62d 28px,#ffe42d 32px,#ffe22d 36px,#ffe22d 86px,#ffe12d 88px,#ffdf2d 92px,#ffdd2d 96px,#ffdc2d 98px,#ffd92d 100px,#ffd62d 101.5px,#88ffa4 104px,#2d5cff 108px,#2d2dce 109.5px,#2d2db6 112px,#2d2da7 113.5px,#2d2dbc 116px,#2d2dc8 117.5px,#2d33ff 120px,#2d88ff 123.5px,#2d95ff 124px,#2dfcff 128px,#5effce 130px,#76ffb6 132px,#a6ff86 136px,#b8ff74 137.5px,#b8ff74 138.1px,#beff6e 140px,#cbff61 143.5px,#caff62 144px,#beff6e 148px,#b2ff7a 152px,#a7ff85 156px,#9dff8f 160px,#94ff98 164px,#8bffa1 168px,#73ffb9 172px,#5affd2 176px,#42ffea 180px,#2de5ff 184px,#2db6ff 188px,#2d9eff 190px,#2d97ff 192px,#2d88ff 196px,#2d79ff 200px,#2d72ff 202px,#2d7aff 204px,#2d8cff 208px,#2d93ff 209.6px,#2da9ff 212px,#2dcbff 215.8px,#2dcdff 216px,#2dedff 220px,#2dfeff 222px,#3bfff1 224px,#58ffd4 228px,#78ffb4 232px,#88ffa4 234px,#73ffb9 236px,#48ffe4 240px,#2defff 244px,#2de7ff 244.7px,#5effce 245.3px,#a0ff8c 248px,#acff80 248.5px,#ceff5e 252px,#d9ff53 255.5px,#dbff51 256px,#e4ff48 259px,#e8ff44 260px,#f2ff3a 263.5px,#f5ff37 264px,#fff22d 268px,#ffed2d 269px,#ffe22d 272px,#ffd62d 275.5px,#ffd72d 276px,#ffda2d 280px,#ffdc2d 282px);--c10:linear-gradient(90deg,#f3ff39 0px,#f5ff37 4px,#f7ff35 8px,#f9ff33 12px,#fffb2d 16px,#fff12d 20px,#ffe72d 24px,#ffe52d 24.5px,#ffe42d 28px,#ffe32d 32px,#ffe22d 36px,#ffe22d 73.5px,#ffe12d 76px,#ffe12d 86px,#ffdf2d 88px,#ffdc2d 92px,#ffd82d 96px,#ffd62d 98px,#ffd32d 100px,#ffd12d 101.5px,#8affa2 104px,#2d58ff 108px,#2d2dc8 109.5px,#2d2daa 112px,#2d2d98 113.5px,#2d2db2 116px,#2d2dc1 117.5px,#2d2dfe 120px,#2d81ff 123.5px,#2d8dff 124px,#2df2ff 128px,#53ffd9 130px,#6dffbf 132px,#a2ff8a 136px,#b6ff76 137.5px,#b6ff76 138.1px,#bdff6f 140px,#c9ff63 143.5px,#c8ff64 144px,#bcff70 148px,#b1ff7b 152px,#a5ff87 156px,#9bff91 160px,#91ff9b 164px,#87ffa5 168px,#6effbe 172px,#55ffd7 176px,#3cfff0 180px,#2de1ff 184px,#2db3ff 188px,#2d9dff 190px,#2d96ff 192px,#2d8aff 196px,#2d81ff 200px,#2d7dff 202px,#2d85ff 204px,#2d95ff 208px,#2d9cff 209.6px,#2dafff 212px,#2dcfff 215.8px,#2dd0ff 216px,#2defff 220px,#2dfeff 222px,#3afff2 224px,#57ffd5 228px,#6fffbd 232px,#7cffb0 234px,#6affc2 236px,#48ffe4 240px,#2df7ff 244px,#2df1ff 244.7px,#62ffca 245.3px,#a2ff8a 248px,#aeff7e 248.5px,#ceff5e 252px,#d9ff53 255.5px,#dbff51 256px,#e3ff49 259px,#e5ff47 260px,#eeff3e 263.5px,#f0ff3c 264px,#fffd2d 268px,#fff92d 269px,#ffed2d 272px,#ffe02d 275.5px,#ffe02d 276px,#ffde2d 280px,#ffde2d 282px);--c11:linear-gradient(90deg,#fdff2f 0px,#ffff2d 4px,#fffc2d 8px,#fff92d 12px,#fff22d 16px,#ffeb2d 20px,#ffe42d 24px,#ffe32d 24.5px,#ffe32d 28px,#ffe22d 32px,#ffe22d 73.5px,#ffe12d 76px,#ffe12d 80px,#ffe02d 84px,#ffe02d 86px,#ffdd2d 88px,#ffd82d 92px,#ffd32d 96px,#ffd12d 98px,#ffce2d 100px,#ffcb2d 101.5px,#8dff9f 104px,#2d55ff 108px,#2d2dc3 109.5px,#2d2d9f 112px,#2d2d96 113.5px,#2d2da7 116px,#2d2db9 117.5px,#2d2df6 120px,#2d79ff 123.5px,#2d85ff 124px,#2de8ff 128px,#48ffe4 130px,#64ffc8 132px,#9eff8e 136px,#b4ff78 137.5px,#b4ff78 138.1px,#bbff71 140px,#c7ff65 143.5px,#c6ff66 144px,#baff72 148px,#afff7d 152px,#a3ff89 156px,#98ff94 160px,#8eff9e 164px,#83ffa9 168px,#6affc2 172px,#50ffdc 176px,#37fff5 180px,#2dddff 184px,#2db1ff 188px,#2d9bff 190px,#2d96ff 192px,#2d8cff 196px,#2d89ff 200px,#2d88ff 202px,#2d8fff 204px,#2d9eff 208px,#2da4ff 209.6px,#2db6ff 212px,#2dd3ff 215.8px,#2dd4ff 216px,#2df0ff 220px,#2dfeff 222px,#39fff3 224px,#55ffd7 228px,#67ffc5 232px,#70ffbc 234px,#62ffca 236px,#48ffe4 240px,#2dffff 244px,#2dfaff 244.7px,#65ffc7 245.3px,#a4ff88 248px,#b0ff7c 248.5px,#ceff5e 252px,#d9ff53 255.5px,#daff52 256px,#e1ff4b 259px,#e3ff49 260px,#e9ff43 263.5px,#ebff41 264px,#f6ff36 268px,#f9ff33 269px,#fff82d 272px,#ffe92d 275.5px,#ffe82d 276px,#ffe32d 280px,#ffe02d 282px);--c12:linear-gradient(90deg,#fff82d 0px,#fff42d 4px,#fff12d 8px,#ffed2d 12px,#ffe92d 16px,#ffe62d 20px,#ffe22d 24px,#ffe22d 73.5px,#ffe12d 76px,#ffe02d 80px,#ffdf2d 84px,#ffdf2d 86px,#ffdc2d 88px,#ffd52d 92px,#ffce2d 96px,#ffcb2d 98px,#ffc82d 100px,#ffc62d 101.5px,#8fff9d 104px,#2d51ff 108px,#2d2dbd 109.5px,#2d2d96 112px,#2d2d96 113.5px,#2d2d9d 116px,#2d2db2 117.5px,#2d2def 120px,#2d72ff 123.5px,#2d7eff 124px,#2ddeff 128px,#3cfff0 130px,#5cffd0 132px,#9aff92 136px,#b2ff7a 137.5px,#b2ff7a 138.1px,#b9ff73 140px,#c6ff66 143.5px,#c4ff68 144px,#b8ff74 148px,#adff7f 152px,#a1ff8b 156px,#96ff96 160px,#8bffa1 164px,#80ffac 168px,#65ffc7 172px,#4bffe1 176px,#31fffb 180px,#2dd9ff 184px,#2daeff 188px,#2d99ff 190px,#2d95ff 192px,#2d8eff 196px,#2d91ff 200px,#2d93ff 202px,#2d9aff 204px,#2da7ff 208px,#2dacff 209.6px,#2dbdff 212px,#2dd6ff 215.8px,#2dd8ff 216px,#2df1ff 220px,#2dfeff 222px,#39fff3 224px,#53ffd9 228px,#5effce 232px,#64ffc8 234px,#5affd2 236px,#48ffe4 240px,#35fff7 244px,#31fffb 244.7px,#69ffc3 245.3px,#a7ff85 248px,#b2ff7a 248.5px,#ceff5e 252px,#d9ff53 255.5px,#daff52 256px,#dfff4d 259px,#e0ff4c 260px,#e4ff48 263.5px,#e5ff47 264px,#ebff41 268px,#edff3f 269px,#fbff31 272px,#fff22d 275.5px,#fff12d 276px,#ffe72d 280px,#ffe22d 282px);--c13:linear-gradient(90deg,#fff22d 0px,#fff02d 4px,#ffed2d 8px,#ffeb2d 12px,#ffe92d 16px,#ffe62d 20px,#ffe42d 24px,#ffe32d 24.5px,#ffe62d 28px,#ffe82d 32px,#ffea2d 36px,#ffeb2d 37px,#ffeb2d 49px,#ffea2d 52px,#ffe82d 56px,#ffe62d 60px,#ffe52d 61px,#ffe42d 64px,#ffe32d 68px,#ffe22d 72px,#ffe22d 73.5px,#ffe02d 76px,#ffdd2d 80px,#ffda2d 84px,#ffd82d 86px,#ffd52d 88px,#ffd02d 92px,#ffca2d 96px,#ffc72d 98px,#ffc62d 100px,#ffc62d 101.5px,#92ff9a 104px,#2d5aff 108px,#2d2dc8 109.5px,#2d2daa 112px,#2d2d98 113.5px,#2d2dbd 116px,#2d2dd4 117.5px,#2d3aff 120px,#2d88ff 123.5px,#2d93ff 124px,#2deaff 128px,#44ffe8 130px,#61ffcb 132px,#9aff92 136px,#b0ff7c 137.5px,#b0ff7c 138.1px,#b5ff77 140px,#bfff6d 143.5px,#beff6e 144px,#b4ff78 148px,#a9ff83 152px,#9fff8d 156px,#94ff98 160px,#89ffa3 164px,#7effae 168px,#67ffc5 172px,#50ffdc 176px,#39fff3 180px,#2de5ff 184px,#2dc0ff 188px,#2dadff 190px,#2da9ff 192px,#2da0ff 196px,#2da2ff 200px,#2da2ff 202px,#2da8ff 204px,#2db2ff 208px,#2db7ff 209.6px,#2dc4ff 212px,#2ddaff 215.8px,#2ddbff 216px,#2df2ff 220px,#2dfeff 222px,#38fff4 224px,#50ffdc 228px,#5bffd1 232px,#60ffcc 234px,#58ffd4 236px,#48ffe4 240px,#38fff4 244px,#35fff7 244.7px,#6dffbf 245.3px,#a9ff83 248px,#b4ff78 248.5px,#d0ff5c 252px,#dbff51 255.5px,#dcff50 256px,#e1ff4b 259px,#e2ff4a 260px,#e8ff44 263.5px,#e9ff43 264px,#f3ff39 268px,#f5ff37 269px,#fffc2d 272px,#ffed2d 275.5px,#ffec2d 276px,#ffe52d 280px,#ffe22d 282px);--c14:linear-gradient(90deg,#ffed2d 0px,#ffec2d 4px,#ffea2d 8px,#ffe92d 12px,#ffe82d 16px,#ffe72d 20px,#ffe52d 24px,#ffe52d 24.5px,#ffea2d 28px,#ffee2d 32px,#fff32d 36px,#fff42d 37px,#fff42d 49px,#fff12d 52px,#ffee2d 56px,#ffea2d 60px,#ffe92d 61px,#ffe72d 64px,#ffe52d 68px,#ffe22d 72px,#ffe22d 73.5px,#ffde2d 76px,#ffd92d 80px,#ffd42d 84px,#ffd22d 86px,#ffcf2d 88px,#ffcb2d 92px,#ffc62d 96px,#ffc42d 98px,#ffc52d 100px,#ffc62d 101.5px,#96ff96 104px,#2d63ff 108px,#2d2dd4 109.5px,#2d2dc1 112px,#2d2db6 113.5px,#2d2ddd 116px,#2d2df5 117.5px,#2d57ff 120px,#2d9eff 123.5px,#2da8ff 124px,#2df6ff 128px,#4bffe1 130px,#66ffc6 132px,#9aff92 136px,#aeff7e 137.5px,#aeff7e 138.1px,#b2ff7a 140px,#b9ff73 143.5px,#b7ff75 144px,#afff7d 148px,#a6ff86 152px,#9dff8f 156px,#92ff9a 160px,#87ffa5 164px,#7cffb0 168px,#68ffc4 172px,#54ffd8 176px,#40ffec 180px,#2df2ff 184px,#2dd2ff 188px,#2dc2ff 190px,#2dbdff 192px,#2db3ff 196px,#2db2ff 200px,#2db1ff 202px,#2db5ff 204px,#2dbeff 208px,#2dc1ff 209.6px,#2dccff 212px,#2ddeff 215.8px,#2ddfff 216px,#2df3ff 220px,#2dfeff 222px,#37fff5 224px,#4dffdf 228px,#57ffd5 232px,#5cffd0 234px,#55ffd7 236px,#48ffe4 240px,#3bfff1 244px,#39fff3 244.7px,#71ffbb 245.3px,#abff81 248px,#b6ff76 248.5px,#d2ff5a 252px,#ddff4f 255.5px,#deff4e 256px,#e3ff49 259px,#e5ff47 260px,#ecff40 263.5px,#edff3f 264px,#faff32 268px,#feff2e 269px,#fff52d 272px,#ffe72d 275.5px,#ffe72d 276px,#ffe32d 280px,#ffe22d 282px);--c15:linear-gradient(90deg,#ffe72d 0px,#ffe72d 24.5px,#ffed2d 28px,#fff52d 32px,#fffc2d 36px,#fffe2d 37px,#fffe2d 49px,#fff92d 52px,#fff42d 56px,#ffee2d 60px,#ffed2d 61px,#ffea2d 64px,#ffe72d 68px,#ffe32d 72px,#ffe22d 73.5px,#ffdd2d 76px,#ffd62d 80px,#ffcf2d 84px,#ffcb2d 86px,#ffc92d 88px,#ffc62d 92px,#ffc22d 96px,#ffc02d 98px,#ffc32d 100px,#ffc62d 101.5px,#99ff93 104px,#2d6cff 108px,#2d2ddf 109.5px,#2d2dd8 112px,#2d2dd4 113.5px,#2d2dfe 116px,#2d45ff 117.5px,#2d73ff 120px,#2db5ff 123.5px,#2dbdff 124px,#30fffc 128px,#53ffd9 130px,#6bffc1 132px,#9aff92 136px,#acff80 137.5px,#acff80 138.1px,#aeff7e 140px,#b2ff7a 143.5px,#b1ff7b 144px,#aaff82 148px,#a3ff89 152px,#9cff90 156px,#90ff9c 160px,#85ffa7 164px,#7affb2 168px,#69ffc3 172px,#58ffd4 176px,#48ffe4 180px,#2dffff 184px,#2de4ff 188px,#2dd6ff 190px,#2dd1ff 192px,#2dc6ff 196px,#2dc2ff 200px,#2dc0ff 202px,#2dc3ff 204px,#2dc9ff 208px,#2dcbff 209.6px,#2dd4ff 212px,#2de2ff 215.8px,#2de3ff 216px,#2df5ff 220px,#2dfeff 222px,#36fff6 224px,#4affe2 228px,#54ffd8 232px,#58ffd4 234px,#53ffd9 236px,#48ffe4 240px,#3effee 244px,#3cfff0 244.7px,#74ffb8 245.3px,#adff7f 248px,#b8ff74 248.5px,#d4ff58 252px,#dfff4d 255.5px,#e0ff4c 256px,#e4ff48 259px,#e7ff45 260px,#f0ff3c 263.5px,#f2ff3a 264px,#fffc2d 268px,#fff82d 269px,#ffee2d 272px,#ffe22d 275.5px,#ffe22d 282px);--c16:linear-gradient(90deg,#ffe92d 0px,#ffea2d 4px,#ffec2d 8px,#ffed2d 12px,#fff02d 16px,#fff32d 20px,#fff62d 24px,#fff62d 24.5px,#fffb2d 28px,#feff2e 32px,#f8ff34 36px,#f7ff35 37px,#f7ff35 49px,#fbff31 52px,#fffe2d 56px,#fff92d 60px,#fff82d 61px,#fff32d 64px,#ffed2d 68px,#ffe62d 72px,#ffe32d 73.5px,#ffdf2d 76px,#ffd72d 80px,#ffcf2d 84px,#ffcb2d 86px,#ffca2d 88px,#ffc82d 92px,#ffc62d 96px,#ffc52d 98px,#ffc82d 100px,#ffcb2d 101.5px,#91ff9b 104px,#2d61ff 108px,#2d2dd2 109.5px,#2d2dc4 112px,#2d2dbb 113.5px,#2d2ddd 116px,#2d2df1 117.5px,#2d51ff 120px,#2d97ff 123.5px,#2da1ff 124px,#2df1ff 128px,#48ffe4 130px,#62ffca 132px,#98ff94 136px,#acff80 137.5px,#acff80 138.1px,#aeff7e 140px,#b0ff7c 143.5px,#afff7d 144px,#aaff82 148px,#a5ff87 152px,#9fff8d 156px,#95ff97 160px,#8affa2 164px,#80ffac 168px,#70ffbc 172px,#60ffcc 176px,#51ffdb 180px,#3bfff1 184px,#2df6ff 188px,#2debff 190px,#2de5ff 192px,#2ddaff 196px,#2dd5ff 200px,#2dd3ff 202px,#2dd5ff 204px,#2dd9ff 208px,#2ddaff 209.6px,#2de1ff 212px,#2debff 215.8px,#2decff 216px,#2df9ff 220px,#2dffff 222px,#36fff6 224px,#46ffe6 228px,#4effde 232px,#53ffd9 234px,#4fffdd 236px,#49ffe3 240px,#41ffeb 244px,#40ffec 244.7px,#7affb2 245.3px,#b1ff7b 248px,#bbff71 248.5px,#d5ff57 252px,#e1ff4b 255.5px,#e2ff4a 256px,#e9ff43 259px,#edff3f 260px,#fbff31 263.5px,#fdff2f 264px,#fff22d 268px,#ffef2d 269px,#ffe72d 272px,#ffde2d 275.5px,#ffde2d 276px,#ffdf2d 280px,#ffe02d 282px);--c17:linear-gradient(90deg,#ffeb2d 0px,#ffed2d 4px,#fff02d 8px,#fff22d 12px,#fff82d 16px,#fffe2d 20px,#faff32 24px,#f9ff33 24.5px,#f6ff36 28px,#f2ff3a 32px,#efff3d 36px,#eeff3e 37px,#eeff3e 49px,#f1ff3b 52px,#f5ff37 56px,#faff32 60px,#fbff31 61px,#fffc2d 64px,#fff22d 68px,#ffe92d 72px,#ffe52d 73.5px,#ffe02d 76px,#ffd82d 80px,#ffcf2d 84px,#ffcb2d 86px,#ffcb2d 88px,#ffca2d 92px,#ffca2d 96px,#ffc92d 98px,#ffce2d 100px,#ffd12d 101.5px,#89ffa3 104px,#2d55ff 108px,#2d2dc5 109.5px,#2d2db0 112px,#2d2da3 113.5px,#2d2dbd 116px,#2d2dcc 117.5px,#2d2fff 120px,#2d79ff 123.5px,#2d85ff 124px,#2de0ff 128px,#3cfff0 130px,#5affd2 132px,#96ff96 136px,#acff80 137.5px,#acff80 138.1px,#adff7f 140px,#aeff7e 143.5px,#aeff7e 144px,#aaff82 148px,#a7ff85 152px,#a3ff89 156px,#99ff93 160px,#8fff9d 164px,#85ffa7 168px,#77ffb5 172px,#69ffc3 176px,#5affd2 180px,#48ffe4 184px,#36fff6 188px,#2dffff 190px,#2dfaff 192px,#2defff 196px,#2de8ff 200px,#2de5ff 202px,#2de6ff 204px,#2de8ff 208px,#2de9ff 209.6px,#2dedff 212px,#2df4ff 215.8px,#2df5ff 216px,#2dfdff 220px,#2ffffd 222px,#35fff7 224px,#41ffeb 228px,#49ffe3 232px,#4dffdf 234px,#4cffe0 236px,#49ffe3 240px,#45ffe7 244px,#44ffe8 244.7px,#80ffac 245.3px,#b5ff77 248px,#bfff6d 248.5px,#d7ff55 252px,#e3ff49 255.5px,#e4ff48 256px,#eeff3e 259px,#f3ff39 260px,#fff82d 263.5px,#fff62d 264px,#ffe92d 268px,#ffe52d 269px,#ffe02d 272px,#ffda2d 275.5px,#ffda2d 276px,#ffdd2d 280px,#ffde2d 282px);--c18:linear-gradient(90deg,#ffed2d 0px,#fff12d 4px,#fff42d 8px,#fff82d 12px,#fdff2f 16px,#f4ff38 20px,#ebff41 24px,#eaff42 24.5px,#e8ff44 28px,#e7ff45 32px,#e5ff47 36px,#e4ff48 37px,#e4ff48 49px,#e7ff45 52px,#ebff41 56px,#efff3d 60px,#f0ff3c 61px,#f9ff33 64px,#fff82d 68px,#ffec2d 72px,#ffe72d 73.5px,#ffe22d 76px,#ffd92d 80px,#ffd02d 84px,#ffcb2d 86px,#ffcc2d 88px,#ffcd2d 92px,#ffce2d 96px,#ffce2d 98px,#ffd32d 100px,#ffd62d 101.5px,#81ffab 104px,#2d49ff 108px,#2d2db8 109.5px,#2d2d9c 112px,#2d2d96 113.5px,#2d2d9c 116px,#2d2da7 117.5px,#2d2ddf 120px,#2d5bff 123.5px,#2d68ff 124px,#2dd0ff 128px,#31fffb 130px,#52ffda 132px,#94ff98 136px,#acff80 137.5px,#acff80 144px,#aaff82 148px,#a9ff83 152px,#a7ff85 156px,#9dff8f 160px,#94ff98 164px,#8bffa1 168px,#7effae 172px,#71ffbb 176px,#64ffc8 180px,#56ffd6 184px,#49ffe3 188px,#42ffea 190px,#3cfff0 192px,#31fffb 196px,#2dfcff 200px,#2df8ff 202px,#2df8ff 209.6px,#2dfaff 212px,#2dfeff 215.8px,#2dfeff 216px,#2ffffd 220px,#31fffb 222px,#35fff7 224px,#3cfff0 228px,#44ffe8 232px,#48ffe4 234px,#49ffe3 236px,#4affe2 240px,#48ffe4 244px,#48ffe4 244.7px,#85ffa7 245.3px,#b9ff73 248px,#c3ff69 248.5px,#d9ff53 252px,#e4ff48 255.5px,#e6ff46 256px,#f2ff3a 259px,#f9ff33 260px,#ffed2d 263.5px,#ffeb2d 264px,#ffdf2d 268px,#ffdc2d 269px,#ffd92d 272px,#ffd62d 275.5px,#ffd72d 276px,#ffda2d 280px,#ffdc2d 282px);--c19:linear-gradient(90deg,#ffef2d 0px,#fff52d 4px,#fffa2d 8px,#feff2e 12px,#f7ff35 16px,#f0ff3c 20px,#e9ff43 24px,#e8ff44 24.5px,#e7ff45 28px,#e6ff46 32px,#e5ff47 36px,#e4ff48 37px,#e5ff47 40px,#e5ff47 49px,#e9ff43 52px,#edff3f 56px,#f1ff3b 60px,#f2ff3a 61px,#fbff31 64px,#fff72d 68px,#ffec2d 72px,#ffe72d 73.5px,#ffe32d 76px,#ffdc2d 80px,#ffd42d 84px,#ffd12d 86px,#ffd12d 88px,#ffd32d 92px,#ffd42d 96px,#ffd52d 98px,#ffd82d 100px,#ffda2d 101.5px,#7effae 104px,#2d47ff 108px,#2d2db6 109.5px,#2d2d96 112px,#2d2d96 113.5px,#2d2d9b 116px,#2d2da9 117.5px,#2d2de3 120px,#2d63ff 123.5px,#2d70ff 124px,#2dd7ff 128px,#39fff3 130px,#59ffd3 132px,#98ff94 136px,#b0ff7c 137.5px,#b1ff7b 138.1px,#b2ff7a 140px,#b4ff78 143.5px,#b4ff78 144px,#b2ff7a 148px,#b1ff7b 152px,#afff7d 156px,#a8ff84 160px,#a2ff8a 164px,#9bff91 168px,#8affa2 172px,#7affb2 176px,#69ffc3 180px,#5affd2 184px,#4affe2 188px,#42ffea 190px,#3cfff0 192px,#31fffb 196px,#2dfaff 200px,#2df6ff 202px,#2df5ff 204px,#2df2ff 208px,#2df1ff 209.6px,#2df6ff 212px,#2dfeff 215.8px,#2dfeff 216px,#34fff8 220px,#39fff3 222px,#3fffed 224px,#4bffe1 228px,#55ffd7 232px,#5affd2 234px,#5dffcf 236px,#62ffca 240px,#58ffd4 244px,#57ffd5 244.7px,#8fff9d 245.3px,#beff6e 248px,#c7ff65 248.5px,#ddff4f 252px,#eaff42 255.5px,#edff3f 256px,#ffff2d 259px,#fffa2d 260px,#ffe72d 263.5px,#ffe62d 264px,#ffdd2d 268px,#ffda2d 269px,#ffd82d 272px,#ffd62d 275.5px,#ffd72d 276px,#ffda2d 280px,#ffdc2d 282px);--c20:linear-gradient(90deg,#fff12d 0px,#fff92d 4px,#fdff2f 8px,#f5ff37 12px,#f0ff3c 16px,#ecff40 20px,#e7ff45 24px,#e6ff46 24.5px,#e6ff46 28px,#e5ff47 32px,#e5ff47 36px,#e4ff48 37px,#e5ff47 40px,#e5ff47 44px,#e6ff46 48px,#e6ff46 49px,#eaff42 52px,#efff3d 56px,#f4ff38 60px,#f5ff37 61px,#fdff2f 64px,#fff62d 68px,#ffeb2d 72px,#ffe72d 73.5px,#ffe42d 76px,#ffde2d 80px,#ffd92d 84px,#ffd62d 86px,#ffd72d 88px,#ffd92d 92px,#ffda2d 96px,#ffdb2d 98px,#ffdd2d 100px,#ffde2d 101.5px,#7bffb1 104px,#2d45ff 108px,#2d2db4 109.5px,#2d2d96 112px,#2d2d96 113.5px,#2d2d99 116px,#2d2dab 117.5px,#2d2de7 120px,#2d6aff 123.5px,#2d77ff 124px,#2ddeff 128px,#40ffec 130px,#5fffcd 132px,#9dff8f 136px,#b4ff78 137.5px,#b6ff76 138.1px,#b8ff74 140px,#bbff71 143.5px,#bbff71 144px,#baff72 148px,#b9ff73 152px,#b8ff74 156px,#b3ff79 160px,#afff7d 164px,#abff81 168px,#97ff95 172px,#83ffa9 176px,#6fffbd 180px,#5dffcf 184px,#4bffe1 188px,#42ffea 190px,#3cfff0 192px,#31fffb 196px,#2df9ff 200px,#2df4ff 202px,#2df2ff 204px,#2dedff 208px,#2debff 209.6px,#2df2ff 212px,#2dfeff 215.8px,#2dfeff 216px,#3afff2 220px,#40ffec 222px,#49ffe3 224px,#5affd2 228px,#67ffc5 232px,#6dffbf 234px,#71ffbb 236px,#79ffb3 240px,#68ffc4 244px,#65ffc7 244.7px,#98ff94 245.3px,#c2ff6a 248px,#caff62 248.5px,#e1ff4b 252px,#f0ff3c 255.5px,#f3ff39 256px,#fff32d 259px,#ffef2d 260px,#ffe22d 263.5px,#ffe12d 264px,#ffda2d 268px,#ffd82d 269px,#ffd72d 272px,#ffd62d 275.5px,#ffd72d 276px,#ffda2d 280px,#ffdc2d 282px);--c21:linear-gradient(90deg,#fff22d 0px,#fffd2d 4px,#f7ff35 8px,#edff3f 12px,#eaff42 16px,#e7ff45 20px,#e5ff47 24px,#e4ff48 24.5px,#e4ff48 37px,#e5ff47 40px,#e6ff46 44px,#e7ff45 48px,#e7ff45 49px,#ebff41 52px,#f1ff3b 56px,#f7ff35 60px,#f8ff34 61px,#ffff2d 64px,#fff52d 68px,#ffeb2d 72px,#ffe72d 73.5px,#ffe52d 76px,#ffe12d 80px,#ffde2d 84px,#ffdc2d 86px,#ffdd2d 88px,#ffdf2d 92px,#ffe12d 96px,#ffe22d 98px,#ffe22d 101.5px,#78ffb4 104px,#2d43ff 108px,#2d2db2 109.5px,#2d2d96 112px,#2d2d96 113.5px,#2d2d97 116px,#2d2dac 117.5px,#2d2deb 120px,#2d72ff 123.5px,#2d7fff 124px,#2de6ff 128px,#48ffe4 130px,#65ffc7 132px,#a1ff8b 136px,#b8ff74 137.5px,#baff72 138.1px,#bdff6f 140px,#c3ff69 143.5px,#c3ff69 144px,#c2ff6a 148px,#c1ff6b 152px,#c0ff6c 156px,#beff6e 160px,#bcff70 164px,#baff72 168px,#a3ff89 172px,#8cffa0 176px,#74ffb8 180px,#60ffcc 184px,#4cffe0 188px,#42ffea 190px,#3cfff0 192px,#31fffb 196px,#2df8ff 200px,#2df2ff 202px,#2defff 204px,#2de7ff 208px,#2de4ff 209.6px,#2deeff 212px,#2dfeff 215.8px,#2dffff 216px,#3fffed 220px,#48ffe4 222px,#53ffd9 224px,#69ffc3 228px,#78ffb4 232px,#80ffac 234px,#85ffa7 236px,#90ff9c 240px,#79ffb3 244px,#74ffb8 244.7px,#a1ff8b 245.3px,#c7ff65 248px,#ceff5e 248.5px,#e4ff48 252px,#f5ff37 255.5px,#faff32 256px,#ffe72d 259px,#ffe52d 260px,#ffdc2d 263.5px,#ffdb2d 264px,#ffd72d 268px,#ffd62d 269px,#ffd62d 275.5px,#ffd72d 276px,#ffda2d 280px,#ffdc2d 282px);--c22:linear-gradient(90deg,#ffef2d 0px,#fff62d 4px,#fffe2d 8px,#f9ff33 12px,#f7ff35 16px,#f4ff38 20px,#f2ff3a 24px,#f1ff3b 24.5px,#f0ff3c 28px,#efff3d 32px,#eeff3e 36px,#eeff3e 37px,#ecff40 40px,#eaff42 44px,#e9ff43 48px,#e8ff44 49px,#ebff41 52px,#efff3d 56px,#f3ff39 60px,#f4ff38 61px,#faff32 64px,#fffc2d 68px,#fff42d 72px,#fff12d 73.5px,#ffed2d 76px,#ffe82d 80px,#ffe22d 84px,#ffe02d 86px,#ffe02d 88px,#ffe12d 92px,#ffe12d 96px,#ffe22d 98px,#ffe22d 101.5px,#7dffaf 104px,#2d4fff 108px,#2d2dc1 109.5px,#2d2da3 112px,#2d2d96 113.5px,#2d2db1 116px,#2d2dc5 117.5px,#2d2eff 120px,#2d81ff 123.5px,#2d8dff 124px,#2dedff 128px,#4bffe1 130px,#6affc2 132px,#a6ff86 136px,#bdff6f 137.5px,#c1ff6b 138.1px,#c4ff68 140px,#caff62 143.5px,#caff62 148px,#c9ff63 152px,#c8ff64 156px,#c7ff65 160px,#c5ff67 164px,#c3ff69 168px,#b0ff7c 172px,#9cff90 176px,#89ffa3 180px,#6effbe 184px,#53ffd9 188px,#46ffe6 190px,#40ffec 192px,#35fff7 196px,#2dfeff 200px,#2dfaff 202px,#2df7ff 204px,#2df2ff 208px,#2df1ff 209.6px,#2df8ff 212px,#33fff9 215.8px,#34fff8 216px,#47ffe5 220px,#51ffdb 222px,#5cffd0 224px,#73ffb9 228px,#80ffac 232px,#87ffa5 234px,#8cffa0 236px,#96ff96 240px,#7effae 244px,#7affb2 244.7px,#abff81 245.3px,#ccff60 248px,#d2ff5a 248.5px,#e6ff46 252px,#f4ff38 255.5px,#fdff2f 256px,#ffc92d 259px,#ffcd2d 260px,#ffd92d 263.5px,#ffd92d 264px,#ffd72d 268px,#ffd62d 269px,#ffd62d 275.5px,#ffd72d 276px,#ffda2d 280px,#ffdc2d 282px);--c23:linear-gradient(90deg,#ffeb2d 0px,#fff02d 4px,#fff42d 8px,#fff92d 12px,#fffb2d 16px,#fffd2d 20px,#ffff2d 24px,#ffff2d 24.5px,#fcff30 28px,#faff32 32px,#f8ff34 36px,#f7ff35 37px,#f4ff38 40px,#efff3d 44px,#eaff42 48px,#e9ff43 49px,#ebff41 52px,#edff3f 56px,#f0ff3c 60px,#f1ff3b 61px,#f5ff37 64px,#fcff30 68px,#fffc2d 72px,#fffa2d 73.5px,#fff52d 76px,#ffee2d 80px,#ffe72d 84px,#ffe32d 86px,#ffe32d 92px,#ffe22d 96px,#ffe22d 101.5px,#81ffab 104px,#2d5bff 108px,#2d2dd0 109.5px,#2d2dba 112px,#2d2dac 113.5px,#2d2dcb 116px,#2d2ddd 117.5px,#2d42ff 120px,#2d8fff 123.5px,#2d9bff 124px,#2df4ff 128px,#4fffdd 130px,#6effbe 132px,#acff80 136px,#c3ff69 137.5px,#c7ff65 138.1px,#cbff61 140px,#d2ff5a 143.5px,#d2ff5a 144px,#d1ff5b 148px,#d1ff5b 156px,#cfff5d 160px,#cdff5f 164px,#cbff61 168px,#bcff70 172px,#adff7f 176px,#9dff8f 180px,#7cffb0 184px,#5affd2 188px,#49ffe3 190px,#44ffe8 192px,#39fff3 196px,#32fffa 200px,#2ffffd 202px,#2efffe 204px,#2dfeff 208px,#2dfdff 209.6px,#31fffb 212px,#3bfff1 215.8px,#3cfff0 216px,#50ffdc 220px,#5affd2 222px,#65ffc7 224px,#7cffb0 228px,#88ffa4 232px,#8fff9d 234px,#93ff99 236px,#9cff90 240px,#84ffa8 244px,#80ffac 244.7px,#b4ff78 245.3px,#d0ff5c 248px,#d5ff57 248.5px,#e8ff44 252px,#f3ff39 255.5px,#fffd2d 256px,#ffab2d 259px,#ffb52d 260px,#ffd62d 263.5px,#ffd62d 275.5px,#ffd72d 276px,#ffda2d 280px,#ffdc2d 282px);--c24:linear-gradient(90deg,#ffe72d 0px,#ffe92d 4px,#ffeb2d 8px,#ffed2d 12px,#ffef2d 16px,#fff02d 20px,#fff22d 24px,#fff22d 24.5px,#fff62d 28px,#fff92d 32px,#fffd2d 36px,#fffe2d 37px,#fbff31 40px,#f3ff39 44px,#ecff40 48px,#eaff42 49px,#ebff41 52px,#ecff40 56px,#edff3f 60px,#edff3f 61px,#f0ff3c 64px,#f5ff37 68px,#f9ff33 72px,#fbff31 73.5px,#fffe2d 76px,#fff52d 80px,#ffec2d 84px,#ffe72d 86px,#ffe62d 88px,#ffe42d 92px,#ffe32d 96px,#ffe22d 98px,#ffe22d 101.5px,#86ffa6 104px,#2d67ff 108px,#2d2ddf 109.5px,#2d2dd1 112px,#2d2dc8 113.5px,#2d2de4 116px,#2d2df5 117.5px,#2d57ff 120px,#2d9eff 123.5px,#2da9ff 124px,#2dfbff 128px,#53ffd9 130px,#72ffba 132px,#b1ff7b 136px,#c8ff64 137.5px,#ceff5e 138.1px,#d2ff5a 140px,#d9ff53 143.5px,#d9ff53 156px,#d7ff55 160px,#d5ff57 164px,#d4ff58 168px,#c8ff64 172px,#bdff6f 176px,#b2ff7a 180px,#8affa2 184px,#61ffcb 188px,#4dffdf 190px,#48ffe4 192px,#3cfff0 196px,#39fff3 200px,#37fff5 202px,#37fff5 209.6px,#3bfff1 212px,#42ffea 215.8px,#43ffe9 216px,#59ffd3 220px,#64ffc8 222px,#6fffbd 224px,#85ffa7 228px,#90ff9c 232px,#96ff96 234px,#9aff92 236px,#a1ff8b 240px,#89ffa3 244px,#85ffa7 244.7px,#bdff6f 245.3px,#d5ff57 248px,#d9ff53 248.5px,#eaff42 252px,#f2ff3a 255.5px,#fffa2d 256px,#ff8e2d 259px,#ff9d2d 260px,#ffd42d 263.5px,#ffd42d 264px,#ffd62d 268px,#ffd62d 275.5px,#ffd72d 276px,#ffda2d 280px,#ffdc2d 282px);--c25:linear-gradient(90deg,#fff32d 0px,#fff22d 4px,#fff12d 8px,#fff12d 12px,#fff02d 16px,#ffef2d 20px,#ffef2d 24.5px,#fff02d 28px,#fff12d 32px,#fff22d 36px,#fff22d 37px,#fff42d 40px,#fff62d 44px,#fff82d 48px,#fff82d 49px,#fff92d 52px,#fffb2d 56px,#fffc2d 60px,#fffd2d 61px,#fffe2d 64px,#feff2e 68px,#fcff30 72px,#fcff30 73.5px,#fdff2f 76px,#fffe2d 80px,#fffb2d 84px,#fffa2d 86px,#fff62d 88px,#ffef2d 92px,#ffe72d 96px,#ffe32d 98px,#ffe22d 100px,#ffe22d 101.5px,#8dff9f 104px,#2d79ff 108px,#2d2df5 109.5px,#2d2dec 112px,#2d2de6 113.5px,#2d2eff 116px,#2d3dff 117.5px,#2d6eff 120px,#2db1ff 123.5px,#2dbaff 124px,#33fff9 128px,#58ffd4 130px,#77ffb5 132px,#b5ff77 136px,#ccff60 137.5px,#d7ff55 138.1px,#dcff50 140px,#e4ff48 143.5px,#e4ff48 144px,#e5ff47 148px,#e6ff46 152px,#e6ff46 156px,#e4ff48 160px,#e3ff49 164px,#e1ff4b 168px,#d2ff5a 172px,#c4ff68 176px,#b6ff76 180px,#96ff96 184px,#76ffb6 188px,#65ffc7 190px,#60ffcc 192px,#55ffd7 196px,#50ffdc 200px,#4dffdf 202px,#4bffe1 204px,#46ffe6 208px,#44ffe8 209.6px,#45ffe7 212px,#48ffe4 215.8px,#49ffe3 216px,#5effce 220px,#69ffc3 222px,#75ffb7 224px,#8dff9f 228px,#99ff93 232px,#9fff8d 234px,#a3ff89 236px,#abff81 240px,#93ff99 244px,#8fff9d 244.7px,#c3ff69 245.3px,#d9ff53 248px,#ddff4f 248.5px,#edff3f 252px,#fbff31 255.5px,#fff62d 256px,#ffa82d 259px,#ffb22d 260px,#ffd52d 263.5px,#ffd52d 264px,#ffd62d 268px,#ffd62d 269px,#ffd72d 272px,#ffd82d 275.5px,#ffd92d 276px,#ffdc2d 280px,#ffde2d 282px);--c26:linear-gradient(90deg,#ffff2d 0px,#fffc2d 4px,#fff82d 8px,#fff42d 12px,#fff12d 16px,#ffee2d 20px,#ffeb2d 24px,#ffeb2d 24.5px,#ffea2d 28px,#ffe92d 32px,#ffe72d 36px,#ffe72d 37px,#ffe42d 40px,#ffe12d 44px,#ffdd2d 48px,#ffdc2d 49px,#ffdf2d 52px,#ffe32d 56px,#ffe72d 60px,#ffe82d 61px,#ffee2d 64px,#fff62d 68px,#fffe2d 72px,#fdff2f 73.5px,#faff32 76px,#f7ff35 80px,#f3ff39 84px,#f1ff3b 86px,#f8ff34 88px,#fff92d 92px,#ffec2d 96px,#ffe52d 98px,#ffe32d 100px,#ffe22d 101.5px,#94ff98 104px,#2d8cff 108px,#2d3aff 109.5px,#2d35ff 112px,#2d32ff 113.5px,#2d49ff 116px,#2d57ff 117.5px,#2d85ff 120px,#2dc4ff 123.5px,#2dccff 124px,#3dffef 128px,#5effce 130px,#7cffb0 132px,#b9ff73 136px,#d0ff5c 137.5px,#e1ff4b 138.1px,#e6ff46 140px,#f0ff3c 143.5px,#f0ff3c 144px,#f1ff3b 148px,#f2ff3a 152px,#f3ff39 156px,#f1ff3b 160px,#f0ff3c 164px,#eeff3e 168px,#dcff50 172px,#cbff61 176px,#b9ff73 180px,#a2ff8a 184px,#8affa2 188px,#7effae 190px,#78ffb4 192px,#6dffbf 196px,#67ffc5 200px,#64ffc8 202px,#5fffcd 204px,#55ffd7 208px,#51ffdb 209.6px,#4fffdd 212px,#4dffdf 215.8px,#4effde 216px,#64ffc8 220px,#6fffbd 222px,#7bffb1 224px,#94ff98 228px,#a2ff8a 232px,#a9ff83 234px,#acff80 236px,#b4ff78 240px,#9cff90 244px,#98ff94 244.7px,#c8ff64 245.3px,#ddff4f 248px,#e1ff4b 248.5px,#f0ff3c 252px,#fffb2d 255.5px,#fff32d 256px,#ffc22d 259px,#ffc62d 260px,#ffd52d 263.5px,#ffd62d 264px,#ffd62d 269px,#ffd82d 272px,#ffda2d 275.5px,#ffdb2d 276px,#ffde2d 280px,#ffe02d 282px);--c27:linear-gradient(90deg,#f2ff3a 0px,#f9ff33 4px,#ffff2d 8px,#fff82d 12px,#fff32d 16px,#ffed2d 20px,#ffe82d 24px,#ffe72d 24.5px,#ffe42d 28px,#ffe02d 32px,#ffdd2d 36px,#ffdc2d 37px,#ffd52d 40px,#ffcc2d 44px,#ffc22d 48px,#ffc02d 49px,#ffc52d 52px,#ffcb2d 56px,#ffd22d 60px,#ffd42d 61px,#ffde2d 64px,#ffed2d 68px,#fffb2d 72px,#feff2e 73.5px,#f7ff35 76px,#eeff3e 80px,#e4ff48 84px,#dfff4d 86px,#e8ff44 88px,#fbff31 92px,#fff12d 96px,#ffe72d 98px,#ffe42d 100px,#ffe22d 101.5px,#9bff91 104px,#2d9eff 108px,#2d50ff 109.5px,#2d50ff 113.5px,#2d65ff 116px,#2d72ff 117.5px,#2d9cff 120px,#2dd6ff 123.5px,#2ddeff 124px,#46ffe6 128px,#64ffc8 130px,#81ffab 132px,#bdff6f 136px,#d4ff58 137.5px,#eaff42 138.1px,#f0ff3c 140px,#fbff31 143.5px,#fbff31 144px,#fdff2f 148px,#ffff2d 152px,#fffe2d 156px,#ffff2d 160px,#fdff2f 164px,#fbff31 168px,#e6ff46 172px,#d2ff5a 176px,#bdff6f 180px,#aeff7e 184px,#9eff8e 188px,#96ff96 190px,#90ff9c 192px,#85ffa7 196px,#7effae 200px,#7affb2 202px,#73ffb9 204px,#64ffc8 208px,#5effce 209.6px,#5affd2 212px,#53ffd9 215.8px,#54ffd8 216px,#6affc2 220px,#74ffb8 222px,#81ffab 224px,#9cff90 228px,#abff81 232px,#b2ff7a 234px,#b6ff76 236px,#bdff6f 240px,#a5ff87 244px,#a1ff8b 244.7px,#ceff5e 245.3px,#e1ff4b 248px,#e4ff48 248.5px,#f2ff3a 252px,#fff22d 255.5px,#ffef2d 256px,#ffdc2d 259px,#ffdb2d 260px,#ffd62d 263.5px,#ffd62d 269px,#ffd92d 272px,#ffdc2d 275.5px,#ffdc2d 276px,#ffe02d 280px,#ffe22d 282px);--c28:linear-gradient(90deg,#ecff40 0px,#f3ff39 4px,#fbff31 8px,#fffc2d 12px,#fff52d 16px,#ffed2d 20px,#ffe62d 24px,#ffe52d 24.5px,#ffe32d 28px,#ffe12d 32px,#ffde2d 36px,#ffde2d 37px,#ffda2d 40px,#ffd52d 44px,#ffd02d 48px,#ffcf2d 49px,#ffd12d 52px,#ffd42d 56px,#ffd72d 60px,#ffd82d 61px,#ffdf2d 64px,#ffe92d 68px,#fff32d 72px,#fff62d 73.5px,#fffa2d 76px,#fdff2f 80px,#f7ff35 84px,#f3ff39 86px,#faff32 88px,#fff82d 92px,#ffec2d 96px,#ffe52d 98px,#ffe32d 100px,#ffe22d 101.5px,#a2ff8a 104px,#2db0ff 108px,#2d66ff 109.5px,#2d68ff 112px,#2d68ff 113.5px,#2d7cff 116px,#2d88ff 117.5px,#2dadff 120px,#2de2ff 123.5px,#2de9ff 124px,#4fffdd 128px,#6bffc1 130px,#88ffa4 132px,#c3ff69 136px,#d9ff53 137.5px,#f0ff3c 138.1px,#f7ff35 140px,#fff82d 143.5px,#fff82d 144px,#fff62d 148px,#fff42d 152px,#fff22d 156px,#fff22d 164px,#fff12d 168px,#f4ff38 172px,#dbff51 176px,#c3ff69 180px,#b4ff78 184px,#a5ff87 188px,#9dff8f 190px,#98ff94 192px,#8dff9f 196px,#84ffa8 200px,#80ffac 202px,#78ffb4 204px,#69ffc3 208px,#64ffc8 209.6px,#60ffcc 212px,#5affd2 215.8px,#5bffd1 216px,#70ffbc 220px,#7affb2 222px,#8affa2 224px,#a9ff83 228px,#b8ff74 232px,#bfff6d 234px,#beff6e 236px,#bbff71 240px,#afff7d 244px,#acff80 244.7px,#d2ff5a 245.3px,#e5ff47 248px,#e8ff44 248.5px,#f7ff35 252px,#ffd12d 255.5px,#ffd22d 256px,#ffda2d 259px,#ffd92d 260px,#ffd62d 263.5px,#ffd72d 264px,#ffd82d 268px,#ffd82d 269px,#ffe22d 272px,#ffed2d 275.5px,#ffec2d 276px,#ffe62d 280px,#ffe32d 282px);--c29:linear-gradient(90deg,#e5ff47 0px,#eeff3e 4px,#f6ff36 8px,#ffff2d 12px,#fff72d 16px,#ffee2d 20px,#ffe52d 24px,#ffe32d 24.5px,#ffe22d 28px,#ffe12d 32px,#ffe02d 36px,#ffe02d 37px,#ffdf2d 40px,#ffdf2d 44px,#ffde2d 48px,#ffde2d 52px,#ffdd2d 56px,#ffdd2d 61px,#ffe12d 64px,#ffe52d 68px,#ffea2d 72px,#ffec2d 73.5px,#ffee2d 76px,#fff12d 80px,#fff42d 84px,#fff62d 86px,#fff32d 88px,#ffed2d 92px,#ffe72d 96px,#ffe32d 98px,#ffe22d 100px,#ffe22d 101.5px,#a9ff83 104px,#2dc2ff 108px,#2d7dff 109.5px,#2d7fff 112px,#2d81ff 113.5px,#2d93ff 116px,#2d9eff 117.5px,#2dbfff 120px,#2dedff 123.5px,#2df4ff 124px,#58ffd4 128px,#73ffb9 130px,#8fff9d 132px,#c9ff63 136px,#dfff4d 137.5px,#f5ff37 138.1px,#ffff2d 140px,#ffed2d 143.5px,#ffed2d 144px,#ffeb2d 148px,#ffe92d 152px,#ffe72d 156px,#ffe52d 160px,#ffe22d 164px,#ffe02d 168px,#fffc2d 172px,#e5ff47 176px,#c8ff64 180px,#baff72 184px,#acff80 188px,#a5ff87 190px,#9fff8d 192px,#94ff98 196px,#8affa2 200px,#85ffa7 202px,#7effae 204px,#6fffbd 208px,#69ffc3 209.6px,#66ffc6 212px,#62ffca 215.8px,#63ffc9 216px,#76ffb6 220px,#80ffac 222px,#92ff9a 224px,#b6ff76 228px,#c5ff67 232px,#ccff60 234px,#c6ff66 236px,#b9ff73 240px,#b8ff74 244px,#b8ff74 244.7px,#d5ff57 245.3px,#e8ff44 248px,#ecff40 248.5px,#fcff30 252px,#ffaf2d 255.5px,#ffb52d 256px,#ffd82d 259px,#ffd82d 260px,#ffd62d 263.5px,#ffd72d 264px,#ffd92d 268px,#ffda2d 269px,#ffeb2d 272px,#fffe2d 275.5px,#fffc2d 276px,#ffed2d 280px,#ffe52d 282px);--c30:linear-gradient(90deg,#dfff4d 0px,#e8ff44 4px,#f1ff3b 8px,#fbff31 12px,#fff82d 16px,#ffee2d 20px,#ffe32d 24px,#ffe22d 24.5px,#ffe22d 37px,#ffe42d 40px,#ffe82d 44px,#ffec2d 48px,#ffed2d 49px,#ffea2d 52px,#ffe62d 56px,#ffe32d 60px,#ffe22d 61px,#ffe22d 101.5px,#b0ff7c 104px,#2dd4ff 108px,#2d93ff 109.5px,#2d97ff 112px,#2d99ff 113.5px,#2daaff 116px,#2db5ff 117.5px,#2dd1ff 120px,#2df8ff 123.5px,#2dfeff 124px,#60ffcc 128px,#7affb2 130px,#96ff96 132px,#cfff5d 136px,#e4ff48 137.5px,#fbff31 138.1px,#fff72d 140px,#ffe22d 143.5px,#ffe12d 144px,#ffe02d 148px,#ffde2d 152px,#ffdc2d 156px,#ffd72d 160px,#ffd32d 164px,#ffce2d 168px,#ffef2d 172px,#efff3d 176px,#ceff5e 180px,#c1ff6b 184px,#b3ff79 188px,#acff80 190px,#a7ff85 192px,#9cff90 196px,#90ff9c 200px,#8bffa1 202px,#83ffa9 204px,#75ffb7 208px,#6fffbd 209.6px,#6dffbf 212px,#69ffc3 215.8px,#6affc2 216px,#7cffb0 220px,#85ffa7 222px,#9aff92 224px,#c3ff69 228px,#d2ff5a 232px,#d9ff53 234px,#ceff5e 236px,#b8ff74 240px,#c1ff6b 244px,#c3ff69 244.7px,#d9ff53 245.3px,#ecff40 248px,#f0ff3c 248.5px,#fffe2d 252px,#ff8e2d 255.5px,#ff982d 256px,#ffd62d 259px,#ffd62d 263.5px,#ffd72d 264px,#ffdb2d 268px,#ffdc2d 269px,#fff32d 272px,#f0ff3c 275.5px,#f3ff39 276px,#fff32d 280px,#ffe72d 282px);--c31:linear-gradient(90deg,#e1ff4b 0px,#ebff41 4px,#f5ff37 8px,#ffff2d 12px,#fff62d 16px,#ffec2d 20px,#ffe32d 24px,#ffe22d 24.5px,#ffdf2d 28px,#ffdd2d 32px,#ffda2d 36px,#ffd92d 37px,#ffdd2d 40px,#ffe22d 44px,#ffe82d 48px,#ffe92d 49px,#ffe72d 52px,#ffe52d 56px,#ffe22d 60px,#ffe22d 101.5px,#b5ff77 104px,#2de0ff 108px,#2da2ff 109.5px,#2da7ff 112px,#2daaff 113.5px,#2dbaff 116px,#2dc4ff 117.5px,#2ddeff 120px,#31fffb 123.5px,#37fff5 124px,#67ffc5 128px,#80ffac 130px,#9cff90 132px,#d6ff56 136px,#ecff40 137.5px,#fbff31 138.1px,#fff72d 140px,#ffe02d 143.5px,#ffe02d 144px,#ffde2d 148px,#ffdc2d 152px,#ffda2d 156px,#ffd82d 160px,#ffd52d 164px,#ffd32d 168px,#fff12d 172px,#f0ff3c 176px,#d2ff5a 180px,#c6ff66 184px,#baff72 188px,#b4ff78 190px,#aeff7e 192px,#a1ff8b 196px,#92ff9a 200px,#8bffa1 202px,#84ffa8 204px,#78ffb4 208px,#73ffb9 209.6px,#72ffba 212px,#72ffba 215.8px,#73ffb9 216px,#89ffa3 220px,#94ff98 222px,#abff81 224px,#d9ff53 228px,#e8ff44 232px,#f0ff3c 234px,#e3ff49 236px,#c8ff64 240px,#caff62 244px,#caff62 244.7px,#ddff4f 245.3px,#edff3f 248px,#f0ff3c 248.5px,#fcff30 252px,#ffb12d 255.5px,#ffb72d 256px,#ffd82d 259px,#ffd82d 263.5px,#ffd92d 264px,#ffdb2d 268px,#ffdc2d 269px,#ffec2d 272px,#ffff2d 275.5px,#fffe2d 276px,#ffef2d 280px,#ffe72d 282px);--c32:linear-gradient(90deg,#e3ff49 0px,#edff3f 4px,#f8ff34 8px,#fffc2d 12px,#fff32d 16px,#ffeb2d 20px,#ffe32d 24px,#ffe22d 24.5px,#ffdd2d 28px,#ffd82d 32px,#ffd22d 36px,#ffd12d 37px,#ffd62d 40px,#ffdd2d 44px,#ffe42d 48px,#ffe52d 49px,#ffe42d 52px,#ffe32d 56px,#ffe22d 60px,#ffe22d 101.5px,#b9ff73 104px,#2dedff 108px,#2db1ff 109.5px,#2db7ff 112px,#2dbaff 113.5px,#2dcaff 116px,#2dd3ff 117.5px,#2decff 120px,#3cfff0 123.5px,#42ffea 124px,#6fffbd 128px,#85ffa7 130px,#a3ff89 132px,#ddff4f 136px,#f3ff39 137.5px,#fbff31 138.1px,#fff62d 140px,#ffde2d 143.5px,#ffde2d 144px,#ffdc2d 148px,#ffda2d 152px,#ffd82d 156px,#ffd82d 164px,#ffd72d 168px,#fff22d 172px,#f1ff3b 176px,#d5ff57 180px,#cbff61 184px,#c1ff6b 188px,#bbff71 190px,#b4ff78 192px,#a7ff85 196px,#94ff98 200px,#8bffa1 202px,#85ffa7 204px,#7bffb1 208px,#76ffb6 209.6px,#78ffb4 212px,#7affb2 215.8px,#7bffb1 216px,#96ff96 220px,#a3ff89 222px,#bdff6f 224px,#f0ff3c 228px,#ffff2d 232px,#fff82d 234px,#f7ff35 236px,#d9ff53 240px,#d3ff59 244px,#d2ff5a 244.7px,#e1ff4b 245.3px,#edff3f 248px,#f0ff3c 248.5px,#f7ff35 252px,#ffd52d 255.5px,#ffd52d 256px,#ffda2d 259px,#ffda2d 264px,#ffdc2d 268px,#ffdc2d 269px,#ffe52d 272px,#fff12d 275.5px,#fff02d 276px,#ffea2d 280px,#ffe72d 282px);--c33:linear-gradient(90deg,#e4ff48 0px,#f0ff3c 4px,#fbff31 8px,#fff82d 12px,#fff12d 16px,#ffea2d 20px,#ffe22d 24px,#ffe22d 24.5px,#ffdb2d 28px,#ffd22d 32px,#ffca2d 36px,#ffc82d 37px,#ffcf2d 40px,#ffd72d 44px,#ffe02d 48px,#ffe22d 49px,#ffe22d 101.5px,#beff6e 104px,#2df9ff 108px,#2dc0ff 109.5px,#2dc7ff 112px,#2dcbff 113.5px,#2dd9ff 116px,#2de2ff 117.5px,#2df9ff 120px,#48ffe4 123.5px,#4dffdf 124px,#76ffb6 128px,#8bffa1 130px,#a9ff83 132px,#e4ff48 136px,#fbff31 137.5px,#fbff31 138.1px,#fff52d 140px,#ffdc2d 143.5px,#ffdc2d 144px,#ffda2d 148px,#ffd82d 152px,#ffd62d 156px,#ffd82d 160px,#ffda2d 164px,#ffdc2d 168px,#fff42d 172px,#f1ff3b 176px,#d9ff53 180px,#d0ff5c 184px,#c7ff65 188px,#c3ff69 190px,#bbff71 192px,#acff80 196px,#96ff96 200px,#8bffa1 202px,#86ffa6 204px,#7effae 208px,#7affb2 209.6px,#7dffaf 212px,#82ffaa 215.8px,#84ffa8 216px,#a3ff89 220px,#b2ff7a 222px,#ceff5e 224px,#fff82d 228px,#ffe92d 232px,#ffe22d 234px,#fff22d 236px,#eaff42 240px,#dcff50 244px,#d9ff53 244.7px,#e4ff48 245.3px,#eeff3e 248px,#f0ff3c 248.5px,#f2ff3a 252px,#fff82d 255.5px,#fff42d 256px,#ffdc2d 259px,#ffdc2d 269px,#ffdf2d 272px,#ffe22d 275.5px,#ffe22d 276px,#ffe52d 280px,#ffe72d 282px);"><i style="top:0px;height:5px;background:var(--c0)"></i><i class="m" style="top:0px;height:5px;background:var(--c1)"></i><i style="top:5px;height:5px;background:var(--c1)"></i><i class="m" style="top:5px;height:5px;background:var(--c2)"></i><i style="top:10px;height:5px;background:var(--c2)"></i><i class="m" style="top:10px;height:5px;background:var(--c3)"></i><i style="top:15px;height:5px;background:var(--c3)"></i><i class="m" style="top:15px;height:5px;background:var(--c4)"></i><i style="top:20px;height:5px;background:var(--c4)"></i><i class="m" style="top:20px;height:5px;background:var(--c5)"></i><i style="top:25px;height:5px;background:var(--c5)"></i><i class="m" style="top:25px;height:5px;background:var(--c6)"></i><i style="top:30px;height:5px;background:var(--c6)"></i><i class="m" style="top:30px;height:5px;background:var(--c7)"></i><i style="top:35px;height:5px;background:var(--c7)"></i><i class="m" style="top:35px;height:5px;background:var(--c8)"></i><i style="top:40px;height:5px;background:var(--c8)"></i><i class="m" style="top:40px;height:5px;background:var(--c9)"></i><i style="top:45px;height:5px;background:var(--c9)"></i><i class="m" style="top:45px;height:5px;background:var(--c10)"></i><i style="top:50px;height:5px;background:var(--c10)"></i><i class="m" style="top:50px;height:5px;background:var(--c11)"></i><i style="top:55px;height:5px;background:var(--c11)"></i><i class="m" style="top:55px;height:5px;background:var(--c12)"></i><i style="top:60px;height:5px;background:var(--c12)"></i><i class="m" style="top:60px;height:5px;background:var(--c13)"></i><i style="top:65px;height:5px;background:var(--c13)"></i><i class="m" style="top:65px;height:5px;background:var(--c14)"></i><i style="top:70px;height:5px;background:var(--c14)"></i><i class="m" style="top:70px;height:5px;background:var(--c15)"></i><i style="top:75px;height:5px;background:var(--c15)"></i><i class="m" style="top:75px;height:5px;background:var(--c16)"></i><i style="top:80px;height:5px;background:var(--c16)"></i><i class="m" style="top:80px;height:5px;background:var(--c17)"></i><i style="top:85px;height:5px;background:var(--c17)"></i><i class="m" style="top:85px;height:5px;background:var(--c18)"></i><i style="top:90px;height:5px;background:var(--c18)"></i><i class="m" style="top:90px;height:5px;background:var(--c19)"></i><i style="top:95px;height:5px;background:var(--c19)"></i><i class="m" style="top:95px;height:5px;background:var(--c20)"></i><i style="top:100px;height:5px;background:var(--c20)"></i><i class="m" style="top:100px;height:5px;background:var(--c21)"></i><i style="top:105px;height:5px;background:var(--c21)"></i><i class="m" style="top:105px;height:5px;background:var(--c22)"></i><i style="top:110px;height:5px;background:var(--c22)"></i><i class="m" style="top:110px;height:5px;background:var(--c23)"></i><i style="top:115px;height:5px;background:var(--c23)"></i><i class="m" style="top:115px;height:5px;background:var(--c24)"></i><i style="top:120px;height:5px;background:var(--c24)"></i><i class="m" style="top:120px;height:5px;background:var(--c25)"></i><i style="top:125px;height:5px;background:var(--c25)"></i><i class="m" style="top:125px;height:5px;background:var(--c26)"></i><i style="top:130px;height:5px;background:var(--c26)"></i><i class="m" style="top:130px;height:5px;background:var(--c27)"></i><i style="top:135px;height:5px;background:var(--c27)"></i><i class="m" style="top:135px;height:5px;background:var(--c28)"></i><i style="top:140px;height:5px;background:var(--c28)"></i><i class="m" style="top:140px;height:5px;background:var(--c29)"></i><i style="top:145px;height:5px;background:var(--c29)"></i><i class="m" style="top:145px;height:5px;background:var(--c30)"></i><i style="top:150px;height:5px;background:var(--c30)"></i><i class="m" style="top:150px;height:5px;background:var(--c31)"></i><i style="top:155px;height:5px;background:var(--c31)"></i><i class="m" style="top:155px;height:5px;background:var(--c32)"></i><i style="top:160px;height:5px;background:var(--c32)"></i><i class="m" style="top:160px;height:5px;background:var(--c33)"></i><svg width="282" height="165" viewBox="0 0 282 165"><path d="M201.3 0 202 1.7 209.6 11.3 215.8 8.3 222 11.3 227.9 0M200.8 0 202 2.8 209.6 11.6 215.8 8.9 222 11.6 228 0.7 228.1 0M200.4 0 202 3.9 209.6 12 215.8 9.5 222 11.9 228 2 228.4 0M199.9 0 202 5.1 209.6 12.3 215.8 10.1 222 12.3 228 3.3 228.7 0M199.5 0 202 6.2 209.6 12.6 215.8 10.7 222 12.6 228 4.6 229 0M245.3 0 245.3 0.9 245.5 0M199 0 202 7.3 209.6 13 215.8 11.3 222 12.9 228 5.9 229.3 0M245.2 0 245.3 2.6 245.8 0M198.5 0 202 8.5 209.6 13.3 215.8 11.9 222 13.3 228 7.2 229.6 0M245.1 0 245.3 4.4 246.2 0M198.1 0 202 9.6 209.6 13.7 215.8 12.6 222 13.6 228 8.5 229.9 0M245 0 245.3 6.2 246.5 0M113.5 46.9 111.2 60 113.5 66.6 116.3 60 113.5 46.9ZM113.5 85.4 111.5 90 110.6 105 113.5 113 116.7 105 116.7 90 113.5 85.4ZM197.6 0 202 10.7 209.6 14 215.8 13.2 222 14 228 9.8 230.2 0M244.9 0 245.3 7.9 246.9 0M113.5 28.5 112.5 30 109.5 39 109.3 45 109.1 60 109.5 72.5 111.5 75 109.5 77.1 109 90 108.9 105 109.5 118.1 110.5 120 113.5 122.8 115 120 117.5 114.2 119.3 105 119.8 90 117.5 83.2 113.8 75 117.5 65.8 119.1 60 118.2 45 117.5 40.5 114 30 113.5 28.5ZM113.5 13.6 111.5 15 109.5 16.9 109 30 108.4 45 108.3 60 108.7 75 108.2 90 108.1 105 108.7 120 109.5 131.2 113.5 132.2 117.5 125.4 118.9 120 121.5 105 122.2 90 117.5 75.8 117.2 75 117.5 74.2 121.4 60 120.5 45 118.2 30 117.5 26.3 113.9 15 113.5 13.6ZM197.2 0 202 11.8 209.6 14.3 215.8 13.8 222 14.3 228 11.1 230.5 0M244.8 0 245.3 9.7 247.3 0M113.5 0 109.5 3.7 108.8 15 108.2 30 107.6 45 107.4 60 107.8 75 107.3 90 107.2 105 107.7 120 108.7 135 109.5 143.8 113.5 143.1 117.5 136.2 117.8 135 121.6 120 123.5 106.9 123.7 105 124.6 90 123.5 85.3 120.2 75 123.5 61.2 123.7 60 123.5 56.2 122.8 45 120.5 30 117.7 15 117.5 13.6 113.5 0ZM196.7 0 202 13 209.6 14.7 215.8 14.4 222 14.6 228 12.4 230.8 0M244.7 0 245.3 11.5 247.6 0M202 43.5 200.5 45 202 47.5 203.3 45 202 43.5ZM108.9 0 108.1 15 107.5 30 106.7 45 106.6 60 107 75 106.5 90 106.4 105 106.8 120 107.7 135 108.9 150 109.5 159.4 113.5 156.7 116.7 150 117.5 148.8 121.2 135 123.5 124.5 124.3 120 125.9 105 126.8 90 123.5 75.9 123.2 75 123.5 73.8 126.1 60 125 45 123.5 34.5 122.8 30 120 15 117.5 0M196.2 0 202 14.1 209.6 15 209.6 15 215.8 15 215.8 15 222 15 228 13.7 231.1 0M244.5 0 244.7 5 245.3 13.2 248 0M202 28.3 200.5 30 196 34.5 190 42.5 188.6 45 187.9 60 190 65.5 196 69 202 69.4 209.6 61.4 210 60 212.7 45 209.6 35.6 203.9 30 202 28.3ZM108.1 0 107.3 15 106.8 30 105.8 45 105.8 60 106.1 75 105.6 90 105.5 105 105.9 120 106.6 135 107.6 150 108.5 165M195.1 0 196 5.8 200.8 15 196 23 192.5 30 190 34.2 183.8 45 182.6 60 187.5 75 190 79.1 196 83.2 202 85.5 209.6 84.4 215.8 78 217 75 218.5 60 219.2 45 215.8 30 222 24.6 228 15 228 15 231.4 0M244 0 244.7 15 244.7 30 244.7 45 244.7 45 244.7 45 244.7 30 245.3 15 245.3 15 248.3 0M209.6 102.9 208.1 105 209.6 106.2 210.3 105 209.6 102.9ZM118.1 165 122 150 123.5 142.5 124.6 135 127 120 128.1 105 128.9 90 126.4 75 128.4 60 127.2 45 125.1 30 123.5 21.2 122.3 15 119.9 0M107.2 0 106.6 15 106 30 104.9 45 105 60 105.2 75 104.8 90 104.6 105 104.9 120 105.5 135 106.3 150 107 165M193.2 0 194.8 15 190 24.2 186.9 30 180 42.7 178.2 45 175.7 60 178.7 75 180 78 186.7 90 187.8 105 190 120 190 120 196 123.5 202 125 209.6 128.6 215.8 130 217.9 120 222 108 223 105 228 95.6 234 91.5 240 90.6 244.7 91.9 244.8 90 244.9 75 245 60 245.2 45 245.3 30 245.3 30 246.6 15 248.5 3.8 249.1 0M243.5 0 240.8 15 240 25 238.8 30 239.5 45 238.8 60 238 75 234 85 229.2 75 228 70 227.1 60 226.5 45 228 37.5 230 30 233.5 15 231.7 0M124 165 126.5 150 128.5 135 129.7 120 130 112.5 130.4 105 131.7 90 130 77.5 129.7 75 130 71.3 131.1 60 130 52.5 129.3 45 127.4 30 124.9 15 123.5 7.5 122.3 0M14.1 0 24.5 2.5 30.8 0M106.4 0 105.8 15 105.3 30 104 45 104.1 60 104.3 75 103.9 90 103.8 105 104 120 104.4 135 105 150 105.5 165M191.3 0 190 11.7 188.5 15 180.6 30 180 31.2 168.9 45 168 52.5 166 60 164 75 168 85 169.7 90 177.1 105 180 109.1 184.4 120 190 131.5 196 135 196 135 202 145 203.5 150 204.5 165M243 0 240 13.2 234 13.3 232 0M233.6 45 234 43.8 234.3 45 234 46.2 233.6 45ZM129.5 165 130 160 130.8 150 132.2 135 133.2 120 134.1 105 135.1 90 134.2 75 134.6 60 133.3 45 130 31.9 129.8 30 127.7 15 125.5 0M216.2 165 222 150 222 150 224.6 135 228 120 228 120 234 108.7 236 105 240 102.6 241.9 105 244.7 120 244.7 120 244.7 120 244.9 105 245.3 90 245.3 90 246.1 75 246.5 60 246.9 45 247.2 30 247.9 15 248.5 11.2 250.2 0M0 6 12 7.3 24.5 7.5 37 2.6 41.1 0M105.5 0 105 15 104.5 30 103.2 45 103.3 60 103.4 75 103.1 90 102.9 105 103.1 120 103.3 135 103.7 150 104 165M187.3 0 180.8 15 180 16.5 168 22.5 156 23.6 149.8 30 148.3 45 146.4 60 143.5 66.4 141.2 60 139.6 45 138.9 30 139.2 15 138.1 13.1 137.9 15 137.9 30 137.5 37.5 136.8 30 133 15 130 5 129.6 0M242.5 0 240 11 234 11.4 232.2 0M133.4 165 134.7 150 136 135 136.8 120 137.5 110 138.1 107.1 139.9 105 143.5 101.3 156 103.3 162 105 168 106.7 176 120 180 135 180 135 185 150 190 161.3 191.5 165M222.8 165 227.5 150 228 147.9 234 139.3 239 150 240 151.7 242.3 150 244.7 147.5 245.1 135 245.3 120 245.3 120 247.3 105 248.2 90 248.5 82.5 249.2 75 249.9 60 250.2 45 250.2 30 250 15 251.4 0M104.6 0 104.3 15 103.8 30 102.3 45 102.5 60 102.6 75 102.3 90 102.1 105 102.2 120 102.3 135 102.4 150 102.5 165M152.6 0 143.5 8.6 139.6 0M177.8 0 168 9.6 159 0M242 0 240 8.8 234 9.5 232.5 0M269.9 0 275.5 9 279.2 15 282 19.5M0 51 12 48.5 14.5 45 15.1 30 13.1 15 24.5 12.5 37 7.8 49 0.5 61 0.5 73.5 4.5 81 0M24.5 86.3 19.5 90 12 100 8.7 105 12 108.5 24.5 111.4 37 114 43 120 49 122 61 122 68.5 120 61 108.8 59 105 61 100 62.8 90 61 87.5 49 81 37 81 24.5 86.3ZM86 129 76.9 135 86 140.5 90.8 135 86 129ZM275.5 148.3 274.8 150 275.5 151.9 276.4 150 275.5 148.3ZM6 165 9.6 150 1.7 135 0 133.8M137.1 165 137.5 161.3 137.9 150 138.1 145 141.7 135 143.5 132.5 156 130.7 168 132.9 169.1 135 175.2 150 175.4 165M226.8 165 228 161.2 234 156.2 238.7 165M252.5 165 252 162 249.7 150 252 138 252.4 135 255.5 121.7 255.6 120 255.5 105 259 91.2 259.4 90 263.5 77.5 264.9 75 269 65 270.8 60 269 56.5 264 45 264.6 30 263.5 28.1 259 25 255.5 19.3 254.1 15 253.1 0M103.8 0 103.5 15 103.1 30 101.5 44.3 98 42.3 88.2 30 86 25 79.8 30 73.5 36 67.9 30 61 24.2 49 24.6 37 24.2 31.4 15 37 12.9 49 10.5 61 10.9 68.1 15 73.5 24 78.9 15 86 10 89.8 0M241.5 0 240 6.6 234 7.6 232.8 0M256.4 0 255.5 1.7 255.3 0M94.6 60 98 55 101.5 50 101.7 60 101.7 75 101.5 85 99.2 90 98 92.1 86 95 83.5 90 82.9 75 86 70.7 94.6 60ZM257.1 120 259 108.8 263.3 120 259 132.9 257.1 120ZM41.8 135 49 132 59.3 135 49 140.6 41.8 135ZM165.6 150 168 149.2 168.3 150 168 153 165.6 150ZM253.4 150 255.5 140 258.7 150 255.5 159.5 253.4 150ZM32.8 165 37 160 41 165M102.9 0 102.8 15 102.3 30 101.5 37.5 98.3 30 98 28.1 91.5 15 94.6 0M241 0 240 4.4 234 5.7 233.1 0M258.7 120 259 118.1 259.7 120 259 122.1 258.7 120ZM255.2 150 255.5 148.3 256 150 255.5 151.6 255.2 150ZM102.1 0 102 15 101.6 30 101.5 30.7 101.2 30 99.1 15 99.1 0M240.5 0 240 2.2 234 3.8 233.4 0M240 0 234 1.9 233.7 0M137.8 0V165M245 0V165" fill="none" stroke="#000" stroke-width="1.1" stroke-linejoin="round"/></svg></div><div class="bd" style="left:174.5px;top:260.5px;width:283px;height:166px"></div><div class="cb" style="left:464.2px;top:260.5px;width:15.2px;height:166.2px;background:linear-gradient(0deg,#16169d 0.00%,#16169d 1.56%,#1616aa 1.56%,#1616aa 3.12%,#1616b6 3.12%,#1616b6 4.69%,#1616c3 4.69%,#1616c3 6.25%,#1616cf 6.25%,#1616cf 7.81%,#1616db 7.81%,#1616db 9.38%,#1616e6 9.38%,#1616e6 10.94%,#1616f2 10.94%,#1616f2 12.50%,#161ffa 12.50%,#161ffa 14.06%,#1635fa 14.06%,#1635fa 15.62%,#1646fa 15.62%,#1646fa 17.19%,#1656fa 17.19%,#1656fa 18.75%,#1666fa 18.75%,#1666fa 20.31%,#1674fa 20.31%,#1674fa 21.88%,#1682fa 21.88%,#1682fa 23.44%,#1690fa 23.44%,#1690fa 25.00%,#169dfa 25.00%,#169dfa 26.56%,#16aafa 26.56%,#16aafa 28.12%,#16b6fa 28.12%,#16b6fa 29.69%,#16c3fa 29.69%,#16c3fa 31.25%,#16cffa 31.25%,#16cffa 32.81%,#16dbfa 32.81%,#16dbfa 34.38%,#16e6fa 34.38%,#16e6fa 35.94%,#16f2fa 35.94%,#16f2fa 37.50%,#1ffaf7 37.50%,#1ffaf7 39.06%,#35faeb 39.06%,#35faeb 40.62%,#46fadf 40.62%,#46fadf 42.19%,#56fad4 42.19%,#56fad4 43.75%,#66fac7 43.75%,#66fac7 45.31%,#74fabb 45.31%,#74fabb 46.88%,#82faaf 46.88%,#82faaf 48.44%,#90faa2 48.44%,#90faa2 50.00%,#9dfa95 50.00%,#9dfa95 51.56%,#aafa88 51.56%,#aafa88 53.12%,#b6fa7a 53.12%,#b6fa7a 54.69%,#c3fa6c 54.69%,#c3fa6c 56.25%,#cffa5d 56.25%,#cffa5d 57.81%,#dbfa4d 57.81%,#dbfa4d 59.38%,#e6fa3c 59.38%,#e6fa3c 60.94%,#f2fa29 60.94%,#f2fa29 62.50%,#faf716 62.50%,#faf716 64.06%,#faeb16 64.06%,#faeb16 65.62%,#fadf16 65.62%,#fadf16 67.19%,#fad416 67.19%,#fad416 68.75%,#fac716 68.75%,#fac716 70.31%,#fabb16 70.31%,#fabb16 71.88%,#faaf16 71.88%,#faaf16 73.44%,#faa216 73.44%,#faa216 75.00%,#fa9516 75.00%,#fa9516 76.56%,#fa8816 76.56%,#fa8816 78.12%,#fa7a16 78.12%,#fa7a16 79.69%,#fa6c16 79.69%,#fa6c16 81.25%,#fa5d16 81.25%,#fa5d16 82.81%,#fa4d16 82.81%,#fa4d16 84.38%,#fa3c16 84.38%,#fa3c16 85.94%,#fa2916 85.94%,#fa2916 87.50%,#f71616 87.50%,#f71616 89.06%,#eb1616 89.06%,#eb1616 90.62%,#df1616 90.62%,#df1616 92.19%,#d41616 92.19%,#d41616 93.75%,#c71616 93.75%,#c71616 95.31%,#bb1616 95.31%,#bb1616 96.88%,#af1616 96.88%,#af1616 98.44%,#a21616 98.44%,#a21616 100.00%)"></div><div class="tk" style="left:476.2px;top:260.5px"></div><div class="tl" style="left:480.9px;top:251.7px">0.5</div><div class="tk" style="left:476.2px;top:315.5px"></div><div class="tl" style="left:480.9px;top:306.7px">0.0</div><div class="tk" style="left:476.2px;top:370.5px"></div><div class="tl" style="left:480.7px;top:361.7px">-0.5</div><div class="tk" style="left:476.2px;top:425.5px"></div><div class="tl" style="left:480.7px;top:416.7px">-1.0</div><span class="cp" style="left:118.3px;top:185.2px;font-size:26px;line-height:29.9px;letter-spacing:2px;">(a)</span><span class="cp" style="left:156.6px;top:188.4px;font-size:22px;line-height:25.3px;letter-spacing:5px;transform:scaleX(1.1);transform-origin:0 0;font-style:italic;">WTT</span><span class="cp" style="left:471.3px;top:184.8px;font-size:26px;line-height:29.9px;letter-spacing:2px;">(b)</span><span class="cp" style="left:515px;top:188.4px;font-size:22px;line-height:25.3px;letter-spacing:2.7px;transform:scaleX(1.1);transform-origin:0 0;font-style:italic;">LES</span><span class="cp" style="left:291.3px;top:451.1px;font-size:26px;line-height:29.9px;letter-spacing:2px;">(c)</span><span class="cp" style="left:331.8px;top:453.8px;font-size:22px;line-height:25.3px;letter-spacing:2px;transform:scaleX(1.17);transform-origin:0 0;font-style:italic;">PE</span><span class="cp" style="left:365.6px;top:465.1px;font-size:16.5px;line-height:19px;transform:scaleX(1.12);transform-origin:0 0;font-style:italic;">Č</span><span class="cp" style="left:380.6px;top:469px;font-size:15.5px;line-height:17.8px;transform:scaleX(1.15);transform-origin:0 0;font-style:italic;">p</span></body></html>
